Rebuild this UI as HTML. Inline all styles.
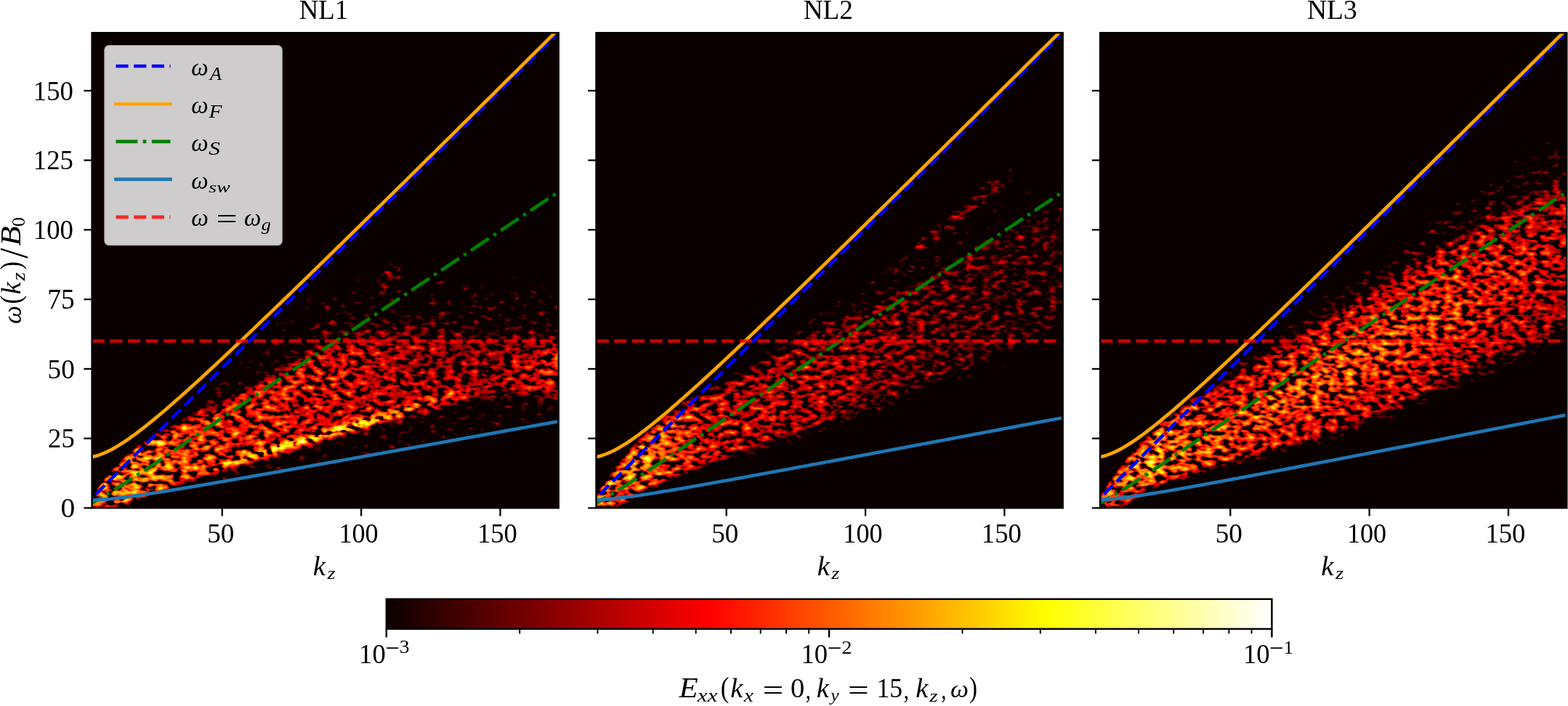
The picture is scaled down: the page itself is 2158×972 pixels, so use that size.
<!DOCTYPE html>
<html lang="en"><head><meta charset="utf-8"><title>Dispersion spectra NL1 NL2 NL3</title><style>html,body{margin:0;padding:0;background:#fff;}svg{display:block}</style></head><body>
<svg width="2158" height="972" viewBox="0 0 2158 972" font-family='"Liberation Serif", "DejaVu Serif", serif' font-size="37.5" fill="#000">
<defs>
<linearGradient id="hot" x1="0" x2="1" y1="0" y2="0"><stop offset="0" stop-color="#0b0000"/><stop offset="0.365079" stop-color="#ff0000"/><stop offset="0.746032" stop-color="#ffff00"/><stop offset="1" stop-color="#ffffff"/></linearGradient>
<clipPath id="clip0"><rect x="126.60" y="45.2" width="642.15" height="654.10"/></clipPath>
<clipPath id="clip1"><rect x="820.55" y="45.2" width="642.15" height="654.10"/></clipPath>
<clipPath id="clip2"><rect x="1514.10" y="45.2" width="642.15" height="654.10"/></clipPath>
</defs>
<rect width="2158" height="972" fill="#fff"/>
<g id="panel0">
<rect x="126.60" y="45.2" width="642.15" height="654.10" fill="#0b0000"/>
<g clip-path="url(#clip0)">
<defs>
<filter id="hf0" filterUnits="userSpaceOnUse" x="96.6" y="15.2" width="702.1" height="714.1" color-interpolation-filters="sRGB"><feGaussianBlur in="SourceGraphic" stdDeviation="2.2" result="e"/><feTurbulence type="fractalNoise" baseFrequency="0.088 0.145" numOctaves="2" seed="3" result="t"/><feColorMatrix in="t" type="matrix" values="1 0 0 0 0  1 0 0 0 0  1 0 0 0 0  0 0 0 0 1"/><feGaussianBlur stdDeviation="0.8 0.6" result="n0"/><feComponentTransfer in="n0" result="n1"><feFuncR type="linear" slope="1.051" intercept="-0.025"/><feFuncG type="linear" slope="1.051" intercept="-0.025"/><feFuncB type="linear" slope="1.051" intercept="-0.025"/></feComponentTransfer><feComponentTransfer in="n1" result="n"><feFuncR type="table" tableValues="0 0 0 0 0 0 0.05 0.2 0.335 0.45 0.5 0.52 0.54 0.565 0.59 0.615 0.64 0.665 0.69 0.71 0.73"/><feFuncG type="table" tableValues="0 0 0 0 0 0 0.05 0.2 0.335 0.45 0.5 0.52 0.54 0.565 0.59 0.615 0.64 0.665 0.69 0.71 0.73"/><feFuncB type="table" tableValues="0 0 0 0 0 0 0.05 0.2 0.335 0.45 0.5 0.52 0.54 0.565 0.59 0.615 0.64 0.665 0.69 0.71 0.73"/></feComponentTransfer><feComposite in="e" in2="n" operator="arithmetic" k1="0" k2="1.6" k3="2.0" k4="-1.600" result="v"/><feComponentTransfer in="v"><feFuncR type="linear" slope="2.625" intercept="0.0416"/><feFuncG type="linear" slope="2.625" intercept="-0.9583"/><feFuncB type="linear" slope="3.937" intercept="-2.937"/><feFuncA type="linear" slope="0" intercept="1"/></feComponentTransfer><feGaussianBlur stdDeviation="0.7"/></filter>
<linearGradient id="g0_0" gradientUnits="userSpaceOnUse" x1="114.47" x2="803.26" y1="0" y2="0"><stop offset="0.0000" stop-color="#efefef"/><stop offset="0.0278" stop-color="#e7e7e7"/><stop offset="0.0556" stop-color="#d2d2d2"/><stop offset="0.0833" stop-color="#000000"/><stop offset="0.9500" stop-color="#000000"/></linearGradient>
<linearGradient id="g0_1" gradientUnits="userSpaceOnUse" x1="114.47" x2="803.26" y1="0" y2="0"><stop offset="0.0000" stop-color="#efefef"/><stop offset="0.0278" stop-color="#e7e7e7"/><stop offset="0.0556" stop-color="#d2d2d2"/><stop offset="0.0833" stop-color="#000000"/><stop offset="0.9500" stop-color="#000000"/></linearGradient>
<linearGradient id="g0_2" gradientUnits="userSpaceOnUse" x1="114.47" x2="803.26" y1="0" y2="0"><stop offset="0.0000" stop-color="#efefef"/><stop offset="0.0278" stop-color="#e7e7e7"/><stop offset="0.0556" stop-color="#d2d2d2"/><stop offset="0.0833" stop-color="#323232"/><stop offset="0.1111" stop-color="#000000"/><stop offset="0.9500" stop-color="#000000"/></linearGradient>
<linearGradient id="g0_3" gradientUnits="userSpaceOnUse" x1="114.47" x2="803.26" y1="0" y2="0"><stop offset="0.0000" stop-color="#efefef"/><stop offset="0.0278" stop-color="#e7e7e7"/><stop offset="0.0556" stop-color="#d2d2d2"/><stop offset="0.0833" stop-color="#c9c9c9"/><stop offset="0.1111" stop-color="#000000"/><stop offset="0.9500" stop-color="#000000"/></linearGradient>
<linearGradient id="g0_4" gradientUnits="userSpaceOnUse" x1="114.47" x2="803.26" y1="0" y2="0"><stop offset="0.0000" stop-color="#efefef"/><stop offset="0.0278" stop-color="#e7e7e7"/><stop offset="0.0556" stop-color="#d2d2d2"/><stop offset="0.0833" stop-color="#c9c9c9"/><stop offset="0.1111" stop-color="#000000"/><stop offset="0.9500" stop-color="#000000"/></linearGradient>
<linearGradient id="g0_5" gradientUnits="userSpaceOnUse" x1="114.47" x2="803.26" y1="0" y2="0"><stop offset="0.0000" stop-color="#efefef"/><stop offset="0.0278" stop-color="#e7e7e7"/><stop offset="0.0556" stop-color="#d2d2d2"/><stop offset="0.0833" stop-color="#c9c9c9"/><stop offset="0.1111" stop-color="#000000"/><stop offset="0.9500" stop-color="#000000"/></linearGradient>
<linearGradient id="g0_6" gradientUnits="userSpaceOnUse" x1="114.47" x2="803.26" y1="0" y2="0"><stop offset="0.0000" stop-color="#efefef"/><stop offset="0.0278" stop-color="#e7e7e7"/><stop offset="0.0556" stop-color="#d2d2d2"/><stop offset="0.0833" stop-color="#c9c9c9"/><stop offset="0.1111" stop-color="#8f8f8f"/><stop offset="0.1389" stop-color="#000000"/><stop offset="0.2222" stop-color="#000000"/><stop offset="0.2778" stop-color="#080808"/><stop offset="0.3333" stop-color="#0f0f0f"/><stop offset="0.3889" stop-color="#121212"/><stop offset="0.4444" stop-color="#151515"/><stop offset="0.5000" stop-color="#171717"/><stop offset="0.5556" stop-color="#181818"/><stop offset="0.6111" stop-color="#191919"/><stop offset="0.6667" stop-color="#1a1a1a"/><stop offset="0.7222" stop-color="#1a1a1a"/><stop offset="0.7778" stop-color="#1b1b1b"/><stop offset="0.8889" stop-color="#1b1b1b"/><stop offset="0.9500" stop-color="#1c1c1c"/></linearGradient>
<linearGradient id="g0_7" gradientUnits="userSpaceOnUse" x1="114.47" x2="803.26" y1="0" y2="0"><stop offset="0.0000" stop-color="#efefef"/><stop offset="0.0278" stop-color="#e7e7e7"/><stop offset="0.0556" stop-color="#d2d2d2"/><stop offset="0.0833" stop-color="#c9c9c9"/><stop offset="0.1111" stop-color="#bfbfbf"/><stop offset="0.1389" stop-color="#676767"/><stop offset="0.1667" stop-color="#1b1b1b"/><stop offset="0.1944" stop-color="#363636"/><stop offset="0.2222" stop-color="#3d3d3d"/><stop offset="0.2778" stop-color="#4b4b4b"/><stop offset="0.3333" stop-color="#505050"/><stop offset="0.9500" stop-color="#505050"/></linearGradient>
<linearGradient id="g0_8" gradientUnits="userSpaceOnUse" x1="114.47" x2="803.26" y1="0" y2="0"><stop offset="0.0000" stop-color="#efefef"/><stop offset="0.0278" stop-color="#e7e7e7"/><stop offset="0.0556" stop-color="#d2d2d2"/><stop offset="0.0833" stop-color="#c9c9c9"/><stop offset="0.1111" stop-color="#bfbfbf"/><stop offset="0.1389" stop-color="#b7b7b7"/><stop offset="0.1667" stop-color="#4a4a4a"/><stop offset="0.1944" stop-color="#505050"/><stop offset="0.8889" stop-color="#505050"/><stop offset="0.9500" stop-color="#515151"/></linearGradient>
<linearGradient id="g0_9" gradientUnits="userSpaceOnUse" x1="114.47" x2="803.26" y1="0" y2="0"><stop offset="0.0000" stop-color="#efefef"/><stop offset="0.0278" stop-color="#e7e7e7"/><stop offset="0.0556" stop-color="#d2d2d2"/><stop offset="0.0833" stop-color="#c9c9c9"/><stop offset="0.1111" stop-color="#bfbfbf"/><stop offset="0.1389" stop-color="#b7b7b7"/><stop offset="0.1667" stop-color="#505050"/><stop offset="0.8333" stop-color="#505050"/><stop offset="0.8889" stop-color="#515151"/><stop offset="0.9500" stop-color="#515151"/></linearGradient>
<linearGradient id="g0_10" gradientUnits="userSpaceOnUse" x1="114.47" x2="803.26" y1="0" y2="0"><stop offset="0.0000" stop-color="#efefef"/><stop offset="0.0278" stop-color="#e7e7e7"/><stop offset="0.0556" stop-color="#d2d2d2"/><stop offset="0.0833" stop-color="#c9c9c9"/><stop offset="0.1111" stop-color="#bfbfbf"/><stop offset="0.1389" stop-color="#b7b7b7"/><stop offset="0.1667" stop-color="#8a8a8a"/><stop offset="0.1944" stop-color="#505050"/><stop offset="0.8333" stop-color="#505050"/><stop offset="0.8889" stop-color="#525252"/><stop offset="0.9500" stop-color="#525252"/></linearGradient>
<linearGradient id="g0_11" gradientUnits="userSpaceOnUse" x1="114.47" x2="803.26" y1="0" y2="0"><stop offset="0.0000" stop-color="#efefef"/><stop offset="0.0278" stop-color="#e7e7e7"/><stop offset="0.0556" stop-color="#d2d2d2"/><stop offset="0.0833" stop-color="#c9c9c9"/><stop offset="0.1111" stop-color="#bfbfbf"/><stop offset="0.1389" stop-color="#b7b7b7"/><stop offset="0.1667" stop-color="#afafaf"/><stop offset="0.1944" stop-color="#505050"/><stop offset="0.7778" stop-color="#505050"/><stop offset="0.8333" stop-color="#515151"/><stop offset="0.8889" stop-color="#535353"/><stop offset="0.9500" stop-color="#5f5f5f"/></linearGradient>
<linearGradient id="g0_12" gradientUnits="userSpaceOnUse" x1="114.47" x2="803.26" y1="0" y2="0"><stop offset="0.0000" stop-color="#efefef"/><stop offset="0.0278" stop-color="#e7e7e7"/><stop offset="0.0556" stop-color="#d2d2d2"/><stop offset="0.0833" stop-color="#c9c9c9"/><stop offset="0.1111" stop-color="#bfbfbf"/><stop offset="0.1389" stop-color="#b7b7b7"/><stop offset="0.1667" stop-color="#afafaf"/><stop offset="0.1944" stop-color="#505050"/><stop offset="0.7778" stop-color="#505050"/><stop offset="0.8333" stop-color="#515151"/><stop offset="0.8889" stop-color="#545454"/><stop offset="0.9500" stop-color="#8e8e8e"/></linearGradient>
<linearGradient id="g0_13" gradientUnits="userSpaceOnUse" x1="114.47" x2="803.26" y1="0" y2="0"><stop offset="0.0000" stop-color="#efefef"/><stop offset="0.0278" stop-color="#e7e7e7"/><stop offset="0.0556" stop-color="#d2d2d2"/><stop offset="0.0833" stop-color="#c9c9c9"/><stop offset="0.1111" stop-color="#bfbfbf"/><stop offset="0.1389" stop-color="#b7b7b7"/><stop offset="0.1667" stop-color="#afafaf"/><stop offset="0.1944" stop-color="#808080"/><stop offset="0.2222" stop-color="#787878"/><stop offset="0.2778" stop-color="#686868"/><stop offset="0.3333" stop-color="#575757"/><stop offset="0.3889" stop-color="#505050"/><stop offset="0.7778" stop-color="#505050"/><stop offset="0.8333" stop-color="#525252"/><stop offset="0.8889" stop-color="#818181"/><stop offset="0.9500" stop-color="#909090"/></linearGradient>
<linearGradient id="g0_14" gradientUnits="userSpaceOnUse" x1="114.47" x2="803.26" y1="0" y2="0"><stop offset="0.0000" stop-color="#efefef"/><stop offset="0.0278" stop-color="#e7e7e7"/><stop offset="0.0556" stop-color="#d2d2d2"/><stop offset="0.0833" stop-color="#c9c9c9"/><stop offset="0.1111" stop-color="#bfbfbf"/><stop offset="0.1389" stop-color="#b7b7b7"/><stop offset="0.1667" stop-color="#afafaf"/><stop offset="0.1944" stop-color="#a7a7a7"/><stop offset="0.2222" stop-color="#a4a4a4"/><stop offset="0.2778" stop-color="#9c9c9c"/><stop offset="0.3333" stop-color="#8a8a8a"/><stop offset="0.3889" stop-color="#707070"/><stop offset="0.4444" stop-color="#525252"/><stop offset="0.5000" stop-color="#505050"/><stop offset="0.7778" stop-color="#505050"/><stop offset="0.8333" stop-color="#616161"/><stop offset="0.8889" stop-color="#888888"/><stop offset="0.9500" stop-color="#929292"/></linearGradient>
<linearGradient id="g0_15" gradientUnits="userSpaceOnUse" x1="114.47" x2="803.26" y1="0" y2="0"><stop offset="0.0000" stop-color="#efefef"/><stop offset="0.0278" stop-color="#e7e7e7"/><stop offset="0.0556" stop-color="#d2d2d2"/><stop offset="0.0833" stop-color="#c9c9c9"/><stop offset="0.1111" stop-color="#bfbfbf"/><stop offset="0.1389" stop-color="#b7b7b7"/><stop offset="0.1667" stop-color="#b0b0b0"/><stop offset="0.1944" stop-color="#a8a8a8"/><stop offset="0.2222" stop-color="#a4a4a4"/><stop offset="0.2778" stop-color="#9d9d9d"/><stop offset="0.3333" stop-color="#9b9b9b"/><stop offset="0.3889" stop-color="#989898"/><stop offset="0.4444" stop-color="#858585"/><stop offset="0.5000" stop-color="#6a6a6a"/><stop offset="0.5556" stop-color="#616161"/><stop offset="0.6111" stop-color="#5c5c5c"/><stop offset="0.6667" stop-color="#616161"/><stop offset="0.7222" stop-color="#5a5a5a"/><stop offset="0.7778" stop-color="#626262"/><stop offset="0.8333" stop-color="#7e7e7e"/><stop offset="0.8889" stop-color="#8a8a8a"/><stop offset="0.9500" stop-color="#959595"/></linearGradient>
<linearGradient id="g0_16" gradientUnits="userSpaceOnUse" x1="114.47" x2="803.26" y1="0" y2="0"><stop offset="0.0000" stop-color="#efefef"/><stop offset="0.0278" stop-color="#e7e7e7"/><stop offset="0.0556" stop-color="#d3d3d3"/><stop offset="0.0833" stop-color="#c9c9c9"/><stop offset="0.1111" stop-color="#c0c0c0"/><stop offset="0.1389" stop-color="#b8b8b8"/><stop offset="0.1667" stop-color="#b1b1b1"/><stop offset="0.1944" stop-color="#a9a9a9"/><stop offset="0.2222" stop-color="#a6a6a6"/><stop offset="0.2778" stop-color="#a1a1a1"/><stop offset="0.3333" stop-color="#a3a3a3"/><stop offset="0.3889" stop-color="#a3a3a3"/><stop offset="0.4444" stop-color="#9f9f9f"/><stop offset="0.5000" stop-color="#a2a2a2"/><stop offset="0.5556" stop-color="#a1a1a1"/><stop offset="0.6111" stop-color="#939393"/><stop offset="0.6667" stop-color="#898989"/><stop offset="0.7222" stop-color="#838383"/><stop offset="0.7778" stop-color="#7e7e7e"/><stop offset="0.8333" stop-color="#7f7f7f"/><stop offset="0.8889" stop-color="#8b8b8b"/><stop offset="0.9500" stop-color="#969696"/></linearGradient>
<linearGradient id="g0_17" gradientUnits="userSpaceOnUse" x1="114.47" x2="803.26" y1="0" y2="0"><stop offset="0.0000" stop-color="#efefef"/><stop offset="0.0278" stop-color="#e8e8e8"/><stop offset="0.0556" stop-color="#d3d3d3"/><stop offset="0.0833" stop-color="#cacaca"/><stop offset="0.1111" stop-color="#c1c1c1"/><stop offset="0.1389" stop-color="#bababa"/><stop offset="0.1667" stop-color="#b3b3b3"/><stop offset="0.1944" stop-color="#acacac"/><stop offset="0.2222" stop-color="#aaaaaa"/><stop offset="0.2778" stop-color="#aaaaaa"/><stop offset="0.3333" stop-color="#bcbcbc"/><stop offset="0.3889" stop-color="#c7c7c7"/><stop offset="0.4444" stop-color="#b9b9b9"/><stop offset="0.5000" stop-color="#c6c6c6"/><stop offset="0.5556" stop-color="#cbcbcb"/><stop offset="0.6111" stop-color="#adadad"/><stop offset="0.6667" stop-color="#9e9e9e"/><stop offset="0.7222" stop-color="#959595"/><stop offset="0.7778" stop-color="#888888"/><stop offset="0.8333" stop-color="#828282"/><stop offset="0.8889" stop-color="#8c8c8c"/><stop offset="0.9500" stop-color="#979797"/></linearGradient>
<linearGradient id="g0_18" gradientUnits="userSpaceOnUse" x1="114.47" x2="803.26" y1="0" y2="0"><stop offset="0.0000" stop-color="#f0f0f0"/><stop offset="0.0278" stop-color="#e8e8e8"/><stop offset="0.0556" stop-color="#d4d4d4"/><stop offset="0.0833" stop-color="#cbcbcb"/><stop offset="0.1111" stop-color="#c2c2c2"/><stop offset="0.1389" stop-color="#bbbbbb"/><stop offset="0.1667" stop-color="#b4b4b4"/><stop offset="0.1944" stop-color="#aeaeae"/><stop offset="0.2222" stop-color="#adadad"/><stop offset="0.2778" stop-color="#b2b2b2"/><stop offset="0.3333" stop-color="#d8d8d8"/><stop offset="0.3889" stop-color="#ededed"/><stop offset="0.4444" stop-color="#d1d1d1"/><stop offset="0.5000" stop-color="#dddddd"/><stop offset="0.5556" stop-color="#e5e5e5"/><stop offset="0.6111" stop-color="#bfbfbf"/><stop offset="0.6667" stop-color="#afafaf"/><stop offset="0.7222" stop-color="#a4a4a4"/><stop offset="0.7778" stop-color="#8f8f8f"/><stop offset="0.8333" stop-color="#848484"/><stop offset="0.8889" stop-color="#8d8d8d"/><stop offset="0.9500" stop-color="#989898"/></linearGradient>
<linearGradient id="g0_19" gradientUnits="userSpaceOnUse" x1="114.47" x2="803.26" y1="0" y2="0"><stop offset="0.0000" stop-color="#efefef"/><stop offset="0.0278" stop-color="#e8e8e8"/><stop offset="0.0556" stop-color="#d3d3d3"/><stop offset="0.0833" stop-color="#cacaca"/><stop offset="0.1111" stop-color="#c1c1c1"/><stop offset="0.1389" stop-color="#bababa"/><stop offset="0.1667" stop-color="#b3b3b3"/><stop offset="0.1944" stop-color="#adadad"/><stop offset="0.2222" stop-color="#ababab"/><stop offset="0.2778" stop-color="#aeaeae"/><stop offset="0.3333" stop-color="#cdcdcd"/><stop offset="0.3889" stop-color="#dedede"/><stop offset="0.4444" stop-color="#c3c3c3"/><stop offset="0.5000" stop-color="#c3c3c3"/><stop offset="0.5556" stop-color="#c6c6c6"/><stop offset="0.6111" stop-color="#acacac"/><stop offset="0.6667" stop-color="#9f9f9f"/><stop offset="0.7222" stop-color="#969696"/><stop offset="0.7778" stop-color="#888888"/><stop offset="0.8333" stop-color="#828282"/><stop offset="0.8889" stop-color="#8c8c8c"/><stop offset="0.9500" stop-color="#979797"/></linearGradient>
<linearGradient id="g0_20" gradientUnits="userSpaceOnUse" x1="114.47" x2="803.26" y1="0" y2="0"><stop offset="0.0000" stop-color="#efefef"/><stop offset="0.0278" stop-color="#e7e7e7"/><stop offset="0.0556" stop-color="#d3d3d3"/><stop offset="0.0833" stop-color="#c9c9c9"/><stop offset="0.1111" stop-color="#c0c0c0"/><stop offset="0.1389" stop-color="#b9b9b9"/><stop offset="0.1667" stop-color="#b1b1b1"/><stop offset="0.1944" stop-color="#aaaaaa"/><stop offset="0.2222" stop-color="#a7a7a7"/><stop offset="0.2778" stop-color="#a3a3a3"/><stop offset="0.3333" stop-color="#adadad"/><stop offset="0.3889" stop-color="#b2b2b2"/><stop offset="0.4444" stop-color="#a5a5a5"/><stop offset="0.5000" stop-color="#a1a1a1"/><stop offset="0.5556" stop-color="#9e9e9e"/><stop offset="0.6111" stop-color="#939393"/><stop offset="0.6667" stop-color="#8a8a8a"/><stop offset="0.7222" stop-color="#848484"/><stop offset="0.7778" stop-color="#7f7f7f"/><stop offset="0.8333" stop-color="#7f7f7f"/><stop offset="0.8889" stop-color="#8a8a8a"/><stop offset="0.9500" stop-color="#959595"/></linearGradient>
<linearGradient id="g0_21" gradientUnits="userSpaceOnUse" x1="114.47" x2="803.26" y1="0" y2="0"><stop offset="0.0000" stop-color="#efefef"/><stop offset="0.0278" stop-color="#e7e7e7"/><stop offset="0.0556" stop-color="#d2d2d2"/><stop offset="0.0833" stop-color="#c9c9c9"/><stop offset="0.1111" stop-color="#bfbfbf"/><stop offset="0.1389" stop-color="#b8b8b8"/><stop offset="0.1667" stop-color="#b0b0b0"/><stop offset="0.1944" stop-color="#a8a8a8"/><stop offset="0.2222" stop-color="#a4a4a4"/><stop offset="0.2778" stop-color="#9e9e9e"/><stop offset="0.3333" stop-color="#9d9d9d"/><stop offset="0.3889" stop-color="#9b9b9b"/><stop offset="0.4444" stop-color="#969696"/><stop offset="0.5000" stop-color="#939393"/><stop offset="0.5556" stop-color="#8f8f8f"/><stop offset="0.6111" stop-color="#898989"/><stop offset="0.6667" stop-color="#838383"/><stop offset="0.7222" stop-color="#7e7e7e"/><stop offset="0.7778" stop-color="#7c7c7c"/><stop offset="0.8333" stop-color="#7e7e7e"/><stop offset="0.8889" stop-color="#888888"/><stop offset="0.9500" stop-color="#929292"/></linearGradient>
<linearGradient id="g0_22" gradientUnits="userSpaceOnUse" x1="114.47" x2="803.26" y1="0" y2="0"><stop offset="0.0000" stop-color="#efefef"/><stop offset="0.0278" stop-color="#e7e7e7"/><stop offset="0.0556" stop-color="#d2d2d2"/><stop offset="0.0833" stop-color="#c9c9c9"/><stop offset="0.1111" stop-color="#bfbfbf"/><stop offset="0.1389" stop-color="#b7b7b7"/><stop offset="0.1667" stop-color="#afafaf"/><stop offset="0.1944" stop-color="#a7a7a7"/><stop offset="0.2222" stop-color="#a4a4a4"/><stop offset="0.2778" stop-color="#9c9c9c"/><stop offset="0.3333" stop-color="#999999"/><stop offset="0.3889" stop-color="#969696"/><stop offset="0.4444" stop-color="#939393"/><stop offset="0.5000" stop-color="#909090"/><stop offset="0.5556" stop-color="#8d8d8d"/><stop offset="0.6111" stop-color="#888888"/><stop offset="0.6667" stop-color="#828282"/><stop offset="0.7222" stop-color="#7d7d7d"/><stop offset="0.7778" stop-color="#7b7b7b"/><stop offset="0.8333" stop-color="#7d7d7d"/><stop offset="0.8889" stop-color="#868686"/><stop offset="0.9500" stop-color="#909090"/></linearGradient>
<linearGradient id="g0_23" gradientUnits="userSpaceOnUse" x1="114.47" x2="803.26" y1="0" y2="0"><stop offset="0.0000" stop-color="#efefef"/><stop offset="0.0278" stop-color="#e7e7e7"/><stop offset="0.0556" stop-color="#d2d2d2"/><stop offset="0.0833" stop-color="#c9c9c9"/><stop offset="0.1111" stop-color="#bfbfbf"/><stop offset="0.1389" stop-color="#b7b7b7"/><stop offset="0.1667" stop-color="#afafaf"/><stop offset="0.1944" stop-color="#a7a7a7"/><stop offset="0.2222" stop-color="#a4a4a4"/><stop offset="0.2778" stop-color="#9c9c9c"/><stop offset="0.3333" stop-color="#999999"/><stop offset="0.3889" stop-color="#969696"/><stop offset="0.4444" stop-color="#939393"/><stop offset="0.5000" stop-color="#909090"/><stop offset="0.5556" stop-color="#8c8c8c"/><stop offset="0.6111" stop-color="#878787"/><stop offset="0.6667" stop-color="#828282"/><stop offset="0.7222" stop-color="#7d7d7d"/><stop offset="0.7778" stop-color="#7b7b7b"/><stop offset="0.8333" stop-color="#7c7c7c"/><stop offset="0.8889" stop-color="#858585"/><stop offset="0.9500" stop-color="#7d7d7d"/></linearGradient>
<linearGradient id="g0_24" gradientUnits="userSpaceOnUse" x1="114.47" x2="803.26" y1="0" y2="0"><stop offset="0.0000" stop-color="#efefef"/><stop offset="0.0278" stop-color="#e7e7e7"/><stop offset="0.0556" stop-color="#d2d2d2"/><stop offset="0.0833" stop-color="#c9c9c9"/><stop offset="0.1111" stop-color="#bfbfbf"/><stop offset="0.1389" stop-color="#b7b7b7"/><stop offset="0.1667" stop-color="#afafaf"/><stop offset="0.1944" stop-color="#a7a7a7"/><stop offset="0.2222" stop-color="#a4a4a4"/><stop offset="0.2778" stop-color="#9c9c9c"/><stop offset="0.3333" stop-color="#999999"/><stop offset="0.3889" stop-color="#969696"/><stop offset="0.4444" stop-color="#939393"/><stop offset="0.5000" stop-color="#909090"/><stop offset="0.5556" stop-color="#8c8c8c"/><stop offset="0.6111" stop-color="#878787"/><stop offset="0.6667" stop-color="#828282"/><stop offset="0.7222" stop-color="#7d7d7d"/><stop offset="0.7778" stop-color="#7b7b7b"/><stop offset="0.8333" stop-color="#7c7c7c"/><stop offset="0.8889" stop-color="#838383"/><stop offset="0.9500" stop-color="#5d5d5d"/></linearGradient>
<linearGradient id="g0_25" gradientUnits="userSpaceOnUse" x1="114.47" x2="803.26" y1="0" y2="0"><stop offset="0.0000" stop-color="#efefef"/><stop offset="0.0278" stop-color="#e7e7e7"/><stop offset="0.0556" stop-color="#d2d2d2"/><stop offset="0.0833" stop-color="#c9c9c9"/><stop offset="0.1111" stop-color="#bfbfbf"/><stop offset="0.1389" stop-color="#b7b7b7"/><stop offset="0.1667" stop-color="#afafaf"/><stop offset="0.1944" stop-color="#a7a7a7"/><stop offset="0.2222" stop-color="#a4a4a4"/><stop offset="0.2778" stop-color="#9c9c9c"/><stop offset="0.3333" stop-color="#999999"/><stop offset="0.3889" stop-color="#969696"/><stop offset="0.4444" stop-color="#939393"/><stop offset="0.5000" stop-color="#909090"/><stop offset="0.5556" stop-color="#8c8c8c"/><stop offset="0.6111" stop-color="#878787"/><stop offset="0.6667" stop-color="#828282"/><stop offset="0.7222" stop-color="#7d7d7d"/><stop offset="0.7778" stop-color="#7b7b7b"/><stop offset="0.8333" stop-color="#7b7b7b"/><stop offset="0.8889" stop-color="#5a5a5a"/><stop offset="0.9500" stop-color="#5b5b5b"/></linearGradient>
<linearGradient id="g0_26" gradientUnits="userSpaceOnUse" x1="114.47" x2="803.26" y1="0" y2="0"><stop offset="0.0000" stop-color="#efefef"/><stop offset="0.0278" stop-color="#e7e7e7"/><stop offset="0.0556" stop-color="#d2d2d2"/><stop offset="0.0833" stop-color="#c9c9c9"/><stop offset="0.1111" stop-color="#bfbfbf"/><stop offset="0.1389" stop-color="#b7b7b7"/><stop offset="0.1667" stop-color="#afafaf"/><stop offset="0.1944" stop-color="#a7a7a7"/><stop offset="0.2222" stop-color="#a4a4a4"/><stop offset="0.2778" stop-color="#9c9c9c"/><stop offset="0.3333" stop-color="#999999"/><stop offset="0.3889" stop-color="#969696"/><stop offset="0.4444" stop-color="#939393"/><stop offset="0.5000" stop-color="#909090"/><stop offset="0.5556" stop-color="#8c8c8c"/><stop offset="0.6111" stop-color="#878787"/><stop offset="0.6667" stop-color="#828282"/><stop offset="0.7222" stop-color="#7d7d7d"/><stop offset="0.7778" stop-color="#7b7b7b"/><stop offset="0.8333" stop-color="#5c5c5c"/><stop offset="0.8889" stop-color="#5a5a5a"/><stop offset="0.9500" stop-color="#505050"/></linearGradient>
<linearGradient id="g0_27" gradientUnits="userSpaceOnUse" x1="114.47" x2="803.26" y1="0" y2="0"><stop offset="0.0000" stop-color="#efefef"/><stop offset="0.0278" stop-color="#e7e7e7"/><stop offset="0.0556" stop-color="#d2d2d2"/><stop offset="0.0833" stop-color="#c9c9c9"/><stop offset="0.1111" stop-color="#bfbfbf"/><stop offset="0.1389" stop-color="#b7b7b7"/><stop offset="0.1667" stop-color="#afafaf"/><stop offset="0.1944" stop-color="#a7a7a7"/><stop offset="0.2222" stop-color="#a4a4a4"/><stop offset="0.2778" stop-color="#9c9c9c"/><stop offset="0.3333" stop-color="#999999"/><stop offset="0.3889" stop-color="#969696"/><stop offset="0.4444" stop-color="#939393"/><stop offset="0.5000" stop-color="#909090"/><stop offset="0.5556" stop-color="#8c8c8c"/><stop offset="0.6111" stop-color="#878787"/><stop offset="0.6667" stop-color="#828282"/><stop offset="0.7222" stop-color="#7d7d7d"/><stop offset="0.7778" stop-color="#7b7b7b"/><stop offset="0.8333" stop-color="#595959"/><stop offset="0.8889" stop-color="#525252"/><stop offset="0.9500" stop-color="#505050"/></linearGradient>
<linearGradient id="g0_28" gradientUnits="userSpaceOnUse" x1="114.47" x2="803.26" y1="0" y2="0"><stop offset="0.0000" stop-color="#efefef"/><stop offset="0.0278" stop-color="#e7e7e7"/><stop offset="0.0556" stop-color="#d2d2d2"/><stop offset="0.0833" stop-color="#c9c9c9"/><stop offset="0.1111" stop-color="#bfbfbf"/><stop offset="0.1389" stop-color="#b7b7b7"/><stop offset="0.1667" stop-color="#afafaf"/><stop offset="0.1944" stop-color="#a7a7a7"/><stop offset="0.2222" stop-color="#a4a4a4"/><stop offset="0.2778" stop-color="#9c9c9c"/><stop offset="0.3333" stop-color="#999999"/><stop offset="0.3889" stop-color="#969696"/><stop offset="0.4444" stop-color="#939393"/><stop offset="0.5000" stop-color="#909090"/><stop offset="0.5556" stop-color="#8c8c8c"/><stop offset="0.6111" stop-color="#878787"/><stop offset="0.6667" stop-color="#828282"/><stop offset="0.7222" stop-color="#7d7d7d"/><stop offset="0.7778" stop-color="#5c5c5c"/><stop offset="0.8333" stop-color="#595959"/><stop offset="0.8889" stop-color="#505050"/><stop offset="0.9500" stop-color="#505050"/></linearGradient>
<linearGradient id="g0_29" gradientUnits="userSpaceOnUse" x1="114.47" x2="803.26" y1="0" y2="0"><stop offset="0.0000" stop-color="#efefef"/><stop offset="0.0278" stop-color="#e7e7e7"/><stop offset="0.0556" stop-color="#d2d2d2"/><stop offset="0.0833" stop-color="#c9c9c9"/><stop offset="0.1111" stop-color="#bfbfbf"/><stop offset="0.1389" stop-color="#b7b7b7"/><stop offset="0.1667" stop-color="#afafaf"/><stop offset="0.1944" stop-color="#a7a7a7"/><stop offset="0.2222" stop-color="#a4a4a4"/><stop offset="0.2778" stop-color="#9c9c9c"/><stop offset="0.3333" stop-color="#999999"/><stop offset="0.3889" stop-color="#969696"/><stop offset="0.4444" stop-color="#939393"/><stop offset="0.5000" stop-color="#909090"/><stop offset="0.5556" stop-color="#8c8c8c"/><stop offset="0.6111" stop-color="#878787"/><stop offset="0.6667" stop-color="#828282"/><stop offset="0.7222" stop-color="#777777"/><stop offset="0.7778" stop-color="#5c5c5c"/><stop offset="0.8333" stop-color="#505050"/><stop offset="0.8889" stop-color="#505050"/><stop offset="0.9500" stop-color="#4e4e4e"/></linearGradient>
<linearGradient id="g0_30" gradientUnits="userSpaceOnUse" x1="114.47" x2="803.26" y1="0" y2="0"><stop offset="0.0000" stop-color="#efefef"/><stop offset="0.0278" stop-color="#e7e7e7"/><stop offset="0.0556" stop-color="#d2d2d2"/><stop offset="0.0833" stop-color="#c9c9c9"/><stop offset="0.1111" stop-color="#bfbfbf"/><stop offset="0.1389" stop-color="#b7b7b7"/><stop offset="0.1667" stop-color="#afafaf"/><stop offset="0.1944" stop-color="#a7a7a7"/><stop offset="0.2222" stop-color="#a4a4a4"/><stop offset="0.2778" stop-color="#9c9c9c"/><stop offset="0.3333" stop-color="#999999"/><stop offset="0.3889" stop-color="#969696"/><stop offset="0.4444" stop-color="#939393"/><stop offset="0.5000" stop-color="#909090"/><stop offset="0.5556" stop-color="#8c8c8c"/><stop offset="0.6111" stop-color="#878787"/><stop offset="0.6667" stop-color="#828282"/><stop offset="0.7222" stop-color="#606060"/><stop offset="0.7778" stop-color="#565656"/><stop offset="0.8333" stop-color="#505050"/><stop offset="0.8889" stop-color="#505050"/><stop offset="0.9500" stop-color="#3a3a3a"/></linearGradient>
<linearGradient id="g0_31" gradientUnits="userSpaceOnUse" x1="114.47" x2="803.26" y1="0" y2="0"><stop offset="0.0000" stop-color="#efefef"/><stop offset="0.0278" stop-color="#e7e7e7"/><stop offset="0.0556" stop-color="#d2d2d2"/><stop offset="0.0833" stop-color="#c9c9c9"/><stop offset="0.1111" stop-color="#bfbfbf"/><stop offset="0.1389" stop-color="#b7b7b7"/><stop offset="0.1667" stop-color="#afafaf"/><stop offset="0.1944" stop-color="#a7a7a7"/><stop offset="0.2222" stop-color="#a4a4a4"/><stop offset="0.2778" stop-color="#9c9c9c"/><stop offset="0.3333" stop-color="#999999"/><stop offset="0.3889" stop-color="#969696"/><stop offset="0.4444" stop-color="#939393"/><stop offset="0.5000" stop-color="#909090"/><stop offset="0.5556" stop-color="#8c8c8c"/><stop offset="0.6111" stop-color="#878787"/><stop offset="0.6667" stop-color="#7a7a7a"/><stop offset="0.7222" stop-color="#606060"/><stop offset="0.7778" stop-color="#505050"/><stop offset="0.8333" stop-color="#505050"/><stop offset="0.8889" stop-color="#474747"/><stop offset="0.9500" stop-color="#272727"/></linearGradient>
<linearGradient id="g0_32" gradientUnits="userSpaceOnUse" x1="114.47" x2="803.26" y1="0" y2="0"><stop offset="0.0000" stop-color="#efefef"/><stop offset="0.0278" stop-color="#e7e7e7"/><stop offset="0.0556" stop-color="#d2d2d2"/><stop offset="0.0833" stop-color="#c9c9c9"/><stop offset="0.1111" stop-color="#bfbfbf"/><stop offset="0.1389" stop-color="#b7b7b7"/><stop offset="0.1667" stop-color="#afafaf"/><stop offset="0.1944" stop-color="#a7a7a7"/><stop offset="0.2222" stop-color="#a4a4a4"/><stop offset="0.2778" stop-color="#9c9c9c"/><stop offset="0.3333" stop-color="#999999"/><stop offset="0.3889" stop-color="#969696"/><stop offset="0.4444" stop-color="#939393"/><stop offset="0.5000" stop-color="#909090"/><stop offset="0.5556" stop-color="#8c8c8c"/><stop offset="0.6111" stop-color="#878787"/><stop offset="0.6667" stop-color="#646464"/><stop offset="0.7222" stop-color="#575757"/><stop offset="0.7778" stop-color="#505050"/><stop offset="0.8333" stop-color="#505050"/><stop offset="0.8889" stop-color="#353535"/><stop offset="0.9500" stop-color="#131313"/></linearGradient>
<linearGradient id="g0_33" gradientUnits="userSpaceOnUse" x1="114.47" x2="803.26" y1="0" y2="0"><stop offset="0.0000" stop-color="#efefef"/><stop offset="0.0278" stop-color="#e7e7e7"/><stop offset="0.0556" stop-color="#d2d2d2"/><stop offset="0.0833" stop-color="#c9c9c9"/><stop offset="0.1111" stop-color="#bfbfbf"/><stop offset="0.1389" stop-color="#b7b7b7"/><stop offset="0.1667" stop-color="#afafaf"/><stop offset="0.1944" stop-color="#a7a7a7"/><stop offset="0.2222" stop-color="#a4a4a4"/><stop offset="0.2778" stop-color="#9c9c9c"/><stop offset="0.3333" stop-color="#999999"/><stop offset="0.3889" stop-color="#969696"/><stop offset="0.4444" stop-color="#939393"/><stop offset="0.5000" stop-color="#909090"/><stop offset="0.5556" stop-color="#8c8c8c"/><stop offset="0.6111" stop-color="#878787"/><stop offset="0.6667" stop-color="#646464"/><stop offset="0.7222" stop-color="#505050"/><stop offset="0.7778" stop-color="#505050"/><stop offset="0.8333" stop-color="#414141"/><stop offset="0.8889" stop-color="#232323"/><stop offset="0.9500" stop-color="#000000"/></linearGradient>
<linearGradient id="g0_34" gradientUnits="userSpaceOnUse" x1="114.47" x2="803.26" y1="0" y2="0"><stop offset="0.0000" stop-color="#efefef"/><stop offset="0.0278" stop-color="#e7e7e7"/><stop offset="0.0556" stop-color="#d2d2d2"/><stop offset="0.0833" stop-color="#c9c9c9"/><stop offset="0.1111" stop-color="#bfbfbf"/><stop offset="0.1389" stop-color="#b7b7b7"/><stop offset="0.1667" stop-color="#afafaf"/><stop offset="0.1944" stop-color="#a7a7a7"/><stop offset="0.2222" stop-color="#a4a4a4"/><stop offset="0.2778" stop-color="#9c9c9c"/><stop offset="0.3333" stop-color="#999999"/><stop offset="0.3889" stop-color="#969696"/><stop offset="0.4444" stop-color="#939393"/><stop offset="0.5000" stop-color="#909090"/><stop offset="0.5556" stop-color="#8c8c8c"/><stop offset="0.6111" stop-color="#666666"/><stop offset="0.6667" stop-color="#616161"/><stop offset="0.7222" stop-color="#505050"/><stop offset="0.7778" stop-color="#505050"/><stop offset="0.8333" stop-color="#303030"/><stop offset="0.8889" stop-color="#111111"/><stop offset="0.9500" stop-color="#000000"/></linearGradient>
<linearGradient id="g0_35" gradientUnits="userSpaceOnUse" x1="114.47" x2="803.26" y1="0" y2="0"><stop offset="0.0000" stop-color="#efefef"/><stop offset="0.0278" stop-color="#e7e7e7"/><stop offset="0.0556" stop-color="#d2d2d2"/><stop offset="0.0833" stop-color="#c9c9c9"/><stop offset="0.1111" stop-color="#bfbfbf"/><stop offset="0.1389" stop-color="#b7b7b7"/><stop offset="0.1667" stop-color="#afafaf"/><stop offset="0.1944" stop-color="#a7a7a7"/><stop offset="0.2222" stop-color="#a4a4a4"/><stop offset="0.2778" stop-color="#9c9c9c"/><stop offset="0.3333" stop-color="#999999"/><stop offset="0.3889" stop-color="#969696"/><stop offset="0.4444" stop-color="#939393"/><stop offset="0.5000" stop-color="#909090"/><stop offset="0.5556" stop-color="#8c8c8c"/><stop offset="0.6111" stop-color="#666666"/><stop offset="0.6667" stop-color="#505050"/><stop offset="0.7222" stop-color="#505050"/><stop offset="0.7778" stop-color="#424242"/><stop offset="0.8333" stop-color="#1f1f1f"/><stop offset="0.8889" stop-color="#000000"/><stop offset="0.9500" stop-color="#000000"/></linearGradient>
<linearGradient id="g0_36" gradientUnits="userSpaceOnUse" x1="114.47" x2="803.26" y1="0" y2="0"><stop offset="0.0000" stop-color="#efefef"/><stop offset="0.0278" stop-color="#e7e7e7"/><stop offset="0.0556" stop-color="#d2d2d2"/><stop offset="0.0833" stop-color="#c9c9c9"/><stop offset="0.1111" stop-color="#bfbfbf"/><stop offset="0.1389" stop-color="#b7b7b7"/><stop offset="0.1667" stop-color="#afafaf"/><stop offset="0.1944" stop-color="#a7a7a7"/><stop offset="0.2222" stop-color="#a4a4a4"/><stop offset="0.2778" stop-color="#9c9c9c"/><stop offset="0.3333" stop-color="#999999"/><stop offset="0.3889" stop-color="#969696"/><stop offset="0.4444" stop-color="#939393"/><stop offset="0.5000" stop-color="#909090"/><stop offset="0.5556" stop-color="#757575"/><stop offset="0.6111" stop-color="#666666"/><stop offset="0.6667" stop-color="#505050"/><stop offset="0.7222" stop-color="#505050"/><stop offset="0.7778" stop-color="#323232"/><stop offset="0.8333" stop-color="#0e0e0e"/><stop offset="0.8889" stop-color="#000000"/><stop offset="0.9500" stop-color="#000000"/></linearGradient>
<linearGradient id="g0_37" gradientUnits="userSpaceOnUse" x1="114.47" x2="803.26" y1="0" y2="0"><stop offset="0.0000" stop-color="#efefef"/><stop offset="0.0278" stop-color="#e7e7e7"/><stop offset="0.0556" stop-color="#d2d2d2"/><stop offset="0.0833" stop-color="#c9c9c9"/><stop offset="0.1111" stop-color="#bfbfbf"/><stop offset="0.1389" stop-color="#b7b7b7"/><stop offset="0.1667" stop-color="#afafaf"/><stop offset="0.1944" stop-color="#a7a7a7"/><stop offset="0.2222" stop-color="#a4a4a4"/><stop offset="0.2778" stop-color="#9c9c9c"/><stop offset="0.3333" stop-color="#999999"/><stop offset="0.3889" stop-color="#969696"/><stop offset="0.4444" stop-color="#939393"/><stop offset="0.5000" stop-color="#909090"/><stop offset="0.5556" stop-color="#646464"/><stop offset="0.6111" stop-color="#555555"/><stop offset="0.6667" stop-color="#505050"/><stop offset="0.7222" stop-color="#464646"/><stop offset="0.7778" stop-color="#222222"/><stop offset="0.8333" stop-color="#000000"/><stop offset="0.9500" stop-color="#000000"/></linearGradient>
<linearGradient id="g0_38" gradientUnits="userSpaceOnUse" x1="114.47" x2="803.26" y1="0" y2="0"><stop offset="0.0000" stop-color="#efefef"/><stop offset="0.0278" stop-color="#e7e7e7"/><stop offset="0.0556" stop-color="#d2d2d2"/><stop offset="0.0833" stop-color="#c9c9c9"/><stop offset="0.1111" stop-color="#bfbfbf"/><stop offset="0.1389" stop-color="#b7b7b7"/><stop offset="0.1667" stop-color="#afafaf"/><stop offset="0.1944" stop-color="#a7a7a7"/><stop offset="0.2222" stop-color="#a4a4a4"/><stop offset="0.2778" stop-color="#9c9c9c"/><stop offset="0.3333" stop-color="#999999"/><stop offset="0.3889" stop-color="#969696"/><stop offset="0.4444" stop-color="#939393"/><stop offset="0.5000" stop-color="#878787"/><stop offset="0.5556" stop-color="#646464"/><stop offset="0.6111" stop-color="#505050"/><stop offset="0.6667" stop-color="#505050"/><stop offset="0.7222" stop-color="#373737"/><stop offset="0.7778" stop-color="#121212"/><stop offset="0.8333" stop-color="#000000"/><stop offset="0.9500" stop-color="#000000"/></linearGradient>
<linearGradient id="g0_39" gradientUnits="userSpaceOnUse" x1="114.47" x2="803.26" y1="0" y2="0"><stop offset="0.0000" stop-color="#efefef"/><stop offset="0.0278" stop-color="#e7e7e7"/><stop offset="0.0556" stop-color="#d2d2d2"/><stop offset="0.0833" stop-color="#c9c9c9"/><stop offset="0.1111" stop-color="#bfbfbf"/><stop offset="0.1389" stop-color="#b7b7b7"/><stop offset="0.1667" stop-color="#afafaf"/><stop offset="0.1944" stop-color="#a7a7a7"/><stop offset="0.2222" stop-color="#a4a4a4"/><stop offset="0.2778" stop-color="#9c9c9c"/><stop offset="0.3333" stop-color="#999999"/><stop offset="0.3889" stop-color="#969696"/><stop offset="0.4444" stop-color="#939393"/><stop offset="0.5000" stop-color="#5d5d5d"/><stop offset="0.5556" stop-color="#646464"/><stop offset="0.6111" stop-color="#505050"/><stop offset="0.6667" stop-color="#4f4f4f"/><stop offset="0.7222" stop-color="#282828"/><stop offset="0.7778" stop-color="#020202"/><stop offset="0.8333" stop-color="#000000"/><stop offset="0.9500" stop-color="#000000"/></linearGradient>
<linearGradient id="g0_40" gradientUnits="userSpaceOnUse" x1="114.47" x2="803.26" y1="0" y2="0"><stop offset="0.0000" stop-color="#efefef"/><stop offset="0.0278" stop-color="#e7e7e7"/><stop offset="0.0556" stop-color="#d2d2d2"/><stop offset="0.0833" stop-color="#c9c9c9"/><stop offset="0.1111" stop-color="#bfbfbf"/><stop offset="0.1389" stop-color="#b7b7b7"/><stop offset="0.1667" stop-color="#afafaf"/><stop offset="0.1944" stop-color="#a7a7a7"/><stop offset="0.2222" stop-color="#a4a4a4"/><stop offset="0.2778" stop-color="#9c9c9c"/><stop offset="0.3333" stop-color="#999999"/><stop offset="0.3889" stop-color="#8f8f8f"/><stop offset="0.4444" stop-color="#6a6a6a"/><stop offset="0.5000" stop-color="#5d5d5d"/><stop offset="0.5556" stop-color="#585858"/><stop offset="0.6111" stop-color="#505050"/><stop offset="0.6667" stop-color="#414141"/><stop offset="0.7222" stop-color="#1a1a1a"/><stop offset="0.7778" stop-color="#000000"/><stop offset="0.9500" stop-color="#000000"/></linearGradient>
<linearGradient id="g0_41" gradientUnits="userSpaceOnUse" x1="114.47" x2="803.26" y1="0" y2="0"><stop offset="0.0000" stop-color="#efefef"/><stop offset="0.0278" stop-color="#e7e7e7"/><stop offset="0.0556" stop-color="#d2d2d2"/><stop offset="0.0833" stop-color="#c9c9c9"/><stop offset="0.1111" stop-color="#bfbfbf"/><stop offset="0.1389" stop-color="#b7b7b7"/><stop offset="0.1667" stop-color="#afafaf"/><stop offset="0.1944" stop-color="#a7a7a7"/><stop offset="0.2222" stop-color="#a4a4a4"/><stop offset="0.2778" stop-color="#9c9c9c"/><stop offset="0.3333" stop-color="#868686"/><stop offset="0.3889" stop-color="#666666"/><stop offset="0.4444" stop-color="#575757"/><stop offset="0.5000" stop-color="#5d5d5d"/><stop offset="0.5556" stop-color="#505050"/><stop offset="0.6111" stop-color="#515151"/><stop offset="0.6667" stop-color="#333333"/><stop offset="0.7222" stop-color="#0b0b0b"/><stop offset="0.7778" stop-color="#000000"/><stop offset="0.9500" stop-color="#000000"/></linearGradient>
<linearGradient id="g0_42" gradientUnits="userSpaceOnUse" x1="114.47" x2="803.26" y1="0" y2="0"><stop offset="0.0000" stop-color="#efefef"/><stop offset="0.0278" stop-color="#e7e7e7"/><stop offset="0.0556" stop-color="#d2d2d2"/><stop offset="0.0833" stop-color="#c9c9c9"/><stop offset="0.1111" stop-color="#bfbfbf"/><stop offset="0.1389" stop-color="#b7b7b7"/><stop offset="0.1667" stop-color="#afafaf"/><stop offset="0.1944" stop-color="#a7a7a7"/><stop offset="0.2222" stop-color="#a4a4a4"/><stop offset="0.2778" stop-color="#9c9c9c"/><stop offset="0.3333" stop-color="#606060"/><stop offset="0.3889" stop-color="#545454"/><stop offset="0.4444" stop-color="#575757"/><stop offset="0.5000" stop-color="#5d5d5d"/><stop offset="0.5556" stop-color="#505050"/><stop offset="0.6111" stop-color="#595959"/><stop offset="0.6667" stop-color="#252525"/><stop offset="0.7222" stop-color="#000000"/><stop offset="0.9500" stop-color="#000000"/></linearGradient>
<linearGradient id="g0_43" gradientUnits="userSpaceOnUse" x1="114.47" x2="803.26" y1="0" y2="0"><stop offset="0.0000" stop-color="#efefef"/><stop offset="0.0278" stop-color="#e7e7e7"/><stop offset="0.0556" stop-color="#d2d2d2"/><stop offset="0.0833" stop-color="#c9c9c9"/><stop offset="0.1111" stop-color="#bfbfbf"/><stop offset="0.1389" stop-color="#b7b7b7"/><stop offset="0.1667" stop-color="#afafaf"/><stop offset="0.1944" stop-color="#a7a7a7"/><stop offset="0.2222" stop-color="#a4a4a4"/><stop offset="0.2778" stop-color="#898989"/><stop offset="0.3333" stop-color="#545454"/><stop offset="0.3889" stop-color="#545454"/><stop offset="0.4444" stop-color="#575757"/><stop offset="0.5000" stop-color="#5d5d5d"/><stop offset="0.5556" stop-color="#505050"/><stop offset="0.6111" stop-color="#727272"/><stop offset="0.6667" stop-color="#181818"/><stop offset="0.7222" stop-color="#000000"/><stop offset="0.9500" stop-color="#000000"/></linearGradient>
<linearGradient id="g0_44" gradientUnits="userSpaceOnUse" x1="114.47" x2="803.26" y1="0" y2="0"><stop offset="0.0000" stop-color="#efefef"/><stop offset="0.0278" stop-color="#e7e7e7"/><stop offset="0.0556" stop-color="#d2d2d2"/><stop offset="0.0833" stop-color="#c9c9c9"/><stop offset="0.1111" stop-color="#bfbfbf"/><stop offset="0.1389" stop-color="#b7b7b7"/><stop offset="0.1667" stop-color="#afafaf"/><stop offset="0.1944" stop-color="#a7a7a7"/><stop offset="0.2222" stop-color="#a4a4a4"/><stop offset="0.2778" stop-color="#626262"/><stop offset="0.3333" stop-color="#545454"/><stop offset="0.3889" stop-color="#545454"/><stop offset="0.4444" stop-color="#575757"/><stop offset="0.5000" stop-color="#515151"/><stop offset="0.5556" stop-color="#505050"/><stop offset="0.6111" stop-color="#848484"/><stop offset="0.6667" stop-color="#0a0a0a"/><stop offset="0.7222" stop-color="#000000"/><stop offset="0.9500" stop-color="#000000"/></linearGradient>
<linearGradient id="g0_45" gradientUnits="userSpaceOnUse" x1="114.47" x2="803.26" y1="0" y2="0"><stop offset="0.0000" stop-color="#efefef"/><stop offset="0.0278" stop-color="#e7e7e7"/><stop offset="0.0556" stop-color="#d2d2d2"/><stop offset="0.0833" stop-color="#c9c9c9"/><stop offset="0.1111" stop-color="#bfbfbf"/><stop offset="0.1389" stop-color="#b7b7b7"/><stop offset="0.1667" stop-color="#afafaf"/><stop offset="0.1944" stop-color="#a7a7a7"/><stop offset="0.2222" stop-color="#a4a4a4"/><stop offset="0.2778" stop-color="#545454"/><stop offset="0.3889" stop-color="#545454"/><stop offset="0.4444" stop-color="#575757"/><stop offset="0.5000" stop-color="#505050"/><stop offset="0.5556" stop-color="#505050"/><stop offset="0.6111" stop-color="#575757"/><stop offset="0.6667" stop-color="#000000"/><stop offset="0.9500" stop-color="#000000"/></linearGradient>
<linearGradient id="g0_46" gradientUnits="userSpaceOnUse" x1="114.47" x2="803.26" y1="0" y2="0"><stop offset="0.0000" stop-color="#efefef"/><stop offset="0.0278" stop-color="#e7e7e7"/><stop offset="0.0556" stop-color="#d2d2d2"/><stop offset="0.0833" stop-color="#c9c9c9"/><stop offset="0.1111" stop-color="#bfbfbf"/><stop offset="0.1389" stop-color="#b7b7b7"/><stop offset="0.1667" stop-color="#afafaf"/><stop offset="0.1944" stop-color="#a7a7a7"/><stop offset="0.2222" stop-color="#a4a4a4"/><stop offset="0.2778" stop-color="#545454"/><stop offset="0.3889" stop-color="#545454"/><stop offset="0.4444" stop-color="#575757"/><stop offset="0.5000" stop-color="#505050"/><stop offset="0.5556" stop-color="#494949"/><stop offset="0.6111" stop-color="#242424"/><stop offset="0.6667" stop-color="#000000"/><stop offset="0.9500" stop-color="#000000"/></linearGradient>
<linearGradient id="g0_47" gradientUnits="userSpaceOnUse" x1="114.47" x2="803.26" y1="0" y2="0"><stop offset="0.0000" stop-color="#efefef"/><stop offset="0.0278" stop-color="#e7e7e7"/><stop offset="0.0556" stop-color="#d2d2d2"/><stop offset="0.0833" stop-color="#c9c9c9"/><stop offset="0.1111" stop-color="#bfbfbf"/><stop offset="0.1389" stop-color="#b7b7b7"/><stop offset="0.1667" stop-color="#afafaf"/><stop offset="0.1944" stop-color="#a7a7a7"/><stop offset="0.2222" stop-color="#868686"/><stop offset="0.2778" stop-color="#545454"/><stop offset="0.3889" stop-color="#545454"/><stop offset="0.4444" stop-color="#575757"/><stop offset="0.5000" stop-color="#505050"/><stop offset="0.5556" stop-color="#3c3c3c"/><stop offset="0.6111" stop-color="#0c0c0c"/><stop offset="0.6667" stop-color="#000000"/><stop offset="0.9500" stop-color="#000000"/></linearGradient>
<linearGradient id="g0_48" gradientUnits="userSpaceOnUse" x1="114.47" x2="803.26" y1="0" y2="0"><stop offset="0.0000" stop-color="#efefef"/><stop offset="0.0278" stop-color="#e7e7e7"/><stop offset="0.0556" stop-color="#d2d2d2"/><stop offset="0.0833" stop-color="#c9c9c9"/><stop offset="0.1111" stop-color="#bfbfbf"/><stop offset="0.1389" stop-color="#b7b7b7"/><stop offset="0.1667" stop-color="#afafaf"/><stop offset="0.1944" stop-color="#a7a7a7"/><stop offset="0.2222" stop-color="#636363"/><stop offset="0.2778" stop-color="#545454"/><stop offset="0.3889" stop-color="#545454"/><stop offset="0.4444" stop-color="#505050"/><stop offset="0.5000" stop-color="#505050"/><stop offset="0.5556" stop-color="#2e2e2e"/><stop offset="0.6111" stop-color="#000000"/><stop offset="0.9500" stop-color="#000000"/></linearGradient>
<linearGradient id="g0_49" gradientUnits="userSpaceOnUse" x1="114.47" x2="803.26" y1="0" y2="0"><stop offset="0.0000" stop-color="#efefef"/><stop offset="0.0278" stop-color="#e7e7e7"/><stop offset="0.0556" stop-color="#d2d2d2"/><stop offset="0.0833" stop-color="#c9c9c9"/><stop offset="0.1111" stop-color="#bfbfbf"/><stop offset="0.1389" stop-color="#b7b7b7"/><stop offset="0.1667" stop-color="#afafaf"/><stop offset="0.1944" stop-color="#868686"/><stop offset="0.2222" stop-color="#575757"/><stop offset="0.2778" stop-color="#545454"/><stop offset="0.3889" stop-color="#545454"/><stop offset="0.4444" stop-color="#505050"/><stop offset="0.5000" stop-color="#505050"/><stop offset="0.5556" stop-color="#212121"/><stop offset="0.6111" stop-color="#000000"/><stop offset="0.9500" stop-color="#000000"/></linearGradient>
<linearGradient id="g0_50" gradientUnits="userSpaceOnUse" x1="114.47" x2="803.26" y1="0" y2="0"><stop offset="0.0000" stop-color="#efefef"/><stop offset="0.0278" stop-color="#e7e7e7"/><stop offset="0.0556" stop-color="#d2d2d2"/><stop offset="0.0833" stop-color="#c9c9c9"/><stop offset="0.1111" stop-color="#bfbfbf"/><stop offset="0.1389" stop-color="#b7b7b7"/><stop offset="0.1667" stop-color="#afafaf"/><stop offset="0.1944" stop-color="#646464"/><stop offset="0.2222" stop-color="#505050"/><stop offset="0.5000" stop-color="#505050"/><stop offset="0.5556" stop-color="#141414"/><stop offset="0.6111" stop-color="#000000"/><stop offset="0.9500" stop-color="#000000"/></linearGradient>
<linearGradient id="g0_51" gradientUnits="userSpaceOnUse" x1="114.47" x2="803.26" y1="0" y2="0"><stop offset="0.0000" stop-color="#efefef"/><stop offset="0.0278" stop-color="#e7e7e7"/><stop offset="0.0556" stop-color="#d2d2d2"/><stop offset="0.0833" stop-color="#c9c9c9"/><stop offset="0.1111" stop-color="#bfbfbf"/><stop offset="0.1389" stop-color="#b7b7b7"/><stop offset="0.1667" stop-color="#afafaf"/><stop offset="0.1944" stop-color="#505050"/><stop offset="0.4444" stop-color="#505050"/><stop offset="0.5000" stop-color="#444444"/><stop offset="0.5556" stop-color="#070707"/><stop offset="0.6111" stop-color="#000000"/><stop offset="0.9500" stop-color="#000000"/></linearGradient>
<linearGradient id="g0_52" gradientUnits="userSpaceOnUse" x1="114.47" x2="803.26" y1="0" y2="0"><stop offset="0.0000" stop-color="#efefef"/><stop offset="0.0278" stop-color="#e7e7e7"/><stop offset="0.0556" stop-color="#d2d2d2"/><stop offset="0.0833" stop-color="#c9c9c9"/><stop offset="0.1111" stop-color="#bfbfbf"/><stop offset="0.1389" stop-color="#b7b7b7"/><stop offset="0.1667" stop-color="#aaaaaa"/><stop offset="0.1944" stop-color="#494949"/><stop offset="0.4444" stop-color="#494949"/><stop offset="0.5000" stop-color="#363636"/><stop offset="0.5556" stop-color="#000000"/><stop offset="0.9500" stop-color="#000000"/></linearGradient>
<linearGradient id="g0_53" gradientUnits="userSpaceOnUse" x1="114.47" x2="803.26" y1="0" y2="0"><stop offset="0.0000" stop-color="#efefef"/><stop offset="0.0278" stop-color="#e7e7e7"/><stop offset="0.0556" stop-color="#d2d2d2"/><stop offset="0.0833" stop-color="#c9c9c9"/><stop offset="0.1111" stop-color="#bfbfbf"/><stop offset="0.1389" stop-color="#b7b7b7"/><stop offset="0.1667" stop-color="#898989"/><stop offset="0.1944" stop-color="#3c3c3c"/><stop offset="0.4444" stop-color="#3c3c3c"/><stop offset="0.5000" stop-color="#292929"/><stop offset="0.5556" stop-color="#000000"/><stop offset="0.9500" stop-color="#000000"/></linearGradient>
<linearGradient id="g0_54" gradientUnits="userSpaceOnUse" x1="114.47" x2="803.26" y1="0" y2="0"><stop offset="0.0000" stop-color="#efefef"/><stop offset="0.0278" stop-color="#e7e7e7"/><stop offset="0.0556" stop-color="#d2d2d2"/><stop offset="0.0833" stop-color="#c9c9c9"/><stop offset="0.1111" stop-color="#bfbfbf"/><stop offset="0.1389" stop-color="#b7b7b7"/><stop offset="0.1667" stop-color="#686868"/><stop offset="0.1944" stop-color="#2e2e2e"/><stop offset="0.4444" stop-color="#2e2e2e"/><stop offset="0.5000" stop-color="#1c1c1c"/><stop offset="0.5556" stop-color="#000000"/><stop offset="0.9500" stop-color="#000000"/></linearGradient>
<linearGradient id="g0_55" gradientUnits="userSpaceOnUse" x1="114.47" x2="803.26" y1="0" y2="0"><stop offset="0.0000" stop-color="#efefef"/><stop offset="0.0278" stop-color="#e7e7e7"/><stop offset="0.0556" stop-color="#d2d2d2"/><stop offset="0.0833" stop-color="#c9c9c9"/><stop offset="0.1111" stop-color="#bfbfbf"/><stop offset="0.1389" stop-color="#b7b7b7"/><stop offset="0.1667" stop-color="#474747"/><stop offset="0.1944" stop-color="#212121"/><stop offset="0.4444" stop-color="#212121"/><stop offset="0.5000" stop-color="#0f0f0f"/><stop offset="0.5556" stop-color="#000000"/><stop offset="0.9500" stop-color="#000000"/></linearGradient>
<linearGradient id="g0_56" gradientUnits="userSpaceOnUse" x1="114.47" x2="803.26" y1="0" y2="0"><stop offset="0.0000" stop-color="#efefef"/><stop offset="0.0278" stop-color="#e7e7e7"/><stop offset="0.0556" stop-color="#d2d2d2"/><stop offset="0.0833" stop-color="#c9c9c9"/><stop offset="0.1111" stop-color="#bfbfbf"/><stop offset="0.1389" stop-color="#949494"/><stop offset="0.1667" stop-color="#0e0e0e"/><stop offset="0.1944" stop-color="#0a0a0a"/><stop offset="0.4444" stop-color="#0a0a0a"/><stop offset="0.5000" stop-color="#000000"/><stop offset="0.9500" stop-color="#000000"/></linearGradient>
<linearGradient id="g0_57" gradientUnits="userSpaceOnUse" x1="114.47" x2="803.26" y1="0" y2="0"><stop offset="0.0000" stop-color="#efefef"/><stop offset="0.0278" stop-color="#e7e7e7"/><stop offset="0.0556" stop-color="#d2d2d2"/><stop offset="0.0833" stop-color="#c9c9c9"/><stop offset="0.1111" stop-color="#bfbfbf"/><stop offset="0.1389" stop-color="#434343"/><stop offset="0.1667" stop-color="#000000"/><stop offset="0.9500" stop-color="#000000"/></linearGradient>
<linearGradient id="g0_58" gradientUnits="userSpaceOnUse" x1="114.47" x2="803.26" y1="0" y2="0"><stop offset="0.0000" stop-color="#efefef"/><stop offset="0.0278" stop-color="#e7e7e7"/><stop offset="0.0556" stop-color="#d2d2d2"/><stop offset="0.0833" stop-color="#c9c9c9"/><stop offset="0.1111" stop-color="#787878"/><stop offset="0.1389" stop-color="#000000"/><stop offset="0.9500" stop-color="#000000"/></linearGradient>
<linearGradient id="g0_59" gradientUnits="userSpaceOnUse" x1="114.47" x2="803.26" y1="0" y2="0"><stop offset="0.0000" stop-color="#efefef"/><stop offset="0.0278" stop-color="#e7e7e7"/><stop offset="0.0556" stop-color="#d2d2d2"/><stop offset="0.0833" stop-color="#bababa"/><stop offset="0.1111" stop-color="#282828"/><stop offset="0.1389" stop-color="#000000"/><stop offset="0.9500" stop-color="#000000"/></linearGradient>
<linearGradient id="g0_60" gradientUnits="userSpaceOnUse" x1="114.47" x2="803.26" y1="0" y2="0"><stop offset="0.0000" stop-color="#efefef"/><stop offset="0.0278" stop-color="#e7e7e7"/><stop offset="0.0556" stop-color="#d2d2d2"/><stop offset="0.0833" stop-color="#707070"/><stop offset="0.1111" stop-color="#000000"/><stop offset="0.9500" stop-color="#000000"/></linearGradient>
<linearGradient id="g0_61" gradientUnits="userSpaceOnUse" x1="114.47" x2="803.26" y1="0" y2="0"><stop offset="0.0000" stop-color="#efefef"/><stop offset="0.0278" stop-color="#e7e7e7"/><stop offset="0.0556" stop-color="#afafaf"/><stop offset="0.0833" stop-color="#252525"/><stop offset="0.1111" stop-color="#000000"/><stop offset="0.9500" stop-color="#000000"/></linearGradient>
<linearGradient id="g0_62" gradientUnits="userSpaceOnUse" x1="114.47" x2="803.26" y1="0" y2="0"><stop offset="0.0000" stop-color="#efefef"/><stop offset="0.0278" stop-color="#e7e7e7"/><stop offset="0.0556" stop-color="#696969"/><stop offset="0.0833" stop-color="#000000"/><stop offset="0.9500" stop-color="#000000"/></linearGradient>
<linearGradient id="g0_63" gradientUnits="userSpaceOnUse" x1="114.47" x2="803.26" y1="0" y2="0"><stop offset="0.0000" stop-color="#efefef"/><stop offset="0.0278" stop-color="#cacaca"/><stop offset="0.0556" stop-color="#232323"/><stop offset="0.0833" stop-color="#000000"/><stop offset="0.9500" stop-color="#000000"/></linearGradient>
<linearGradient id="g0_64" gradientUnits="userSpaceOnUse" x1="114.47" x2="803.26" y1="0" y2="0"><stop offset="0.0000" stop-color="#d1d1d1"/><stop offset="0.0278" stop-color="#909090"/><stop offset="0.0556" stop-color="#000000"/><stop offset="0.9500" stop-color="#000000"/></linearGradient>
<linearGradient id="g0_65" gradientUnits="userSpaceOnUse" x1="114.47" x2="803.26" y1="0" y2="0"><stop offset="0.0000" stop-color="#959595"/><stop offset="0.0278" stop-color="#575757"/><stop offset="0.0556" stop-color="#000000"/><stop offset="0.9500" stop-color="#000000"/></linearGradient>
</defs>
<g filter="url(#hf0)">
<rect x="96.6" y="15.2" width="702.1" height="714.1" fill="#000"/>
<path d="M114.47,699.30 L803.26,699.30 L803.26,680.00Z" fill="url(#g0_0)"/>
<path d="M114.47,699.30 L803.26,682.07 L803.26,662.77Z" fill="url(#g0_1)"/>
<path d="M114.47,699.30 L803.26,664.84 L803.26,645.54Z" fill="url(#g0_2)"/>
<path d="M114.47,699.30 L803.26,647.60 L803.26,628.30Z" fill="url(#g0_3)"/>
<path d="M114.47,699.30 L803.26,630.37 L803.26,611.07Z" fill="url(#g0_4)"/>
<path d="M114.47,699.30 L803.26,613.14 L803.26,593.84Z" fill="url(#g0_5)"/>
<path d="M114.47,699.30 L803.26,595.91 L803.26,576.61Z" fill="url(#g0_6)"/>
<path d="M114.47,699.30 L803.26,578.68 L803.26,559.38Z" fill="url(#g0_7)"/>
<path d="M114.47,699.30 L803.26,561.45 L803.26,552.48Z" fill="url(#g0_8)"/>
<path d="M114.47,699.30 L803.26,554.55 L803.26,545.59Z" fill="url(#g0_9)"/>
<path d="M114.47,699.30 L803.26,547.66 L803.26,538.70Z" fill="url(#g0_10)"/>
<path d="M114.47,699.30 L803.26,540.77 L803.26,531.81Z" fill="url(#g0_11)"/>
<path d="M114.47,699.30 L803.26,533.87 L803.26,524.91Z" fill="url(#g0_12)"/>
<path d="M114.47,699.30 L803.26,526.98 L803.26,518.02Z" fill="url(#g0_13)"/>
<path d="M114.47,699.30 L803.26,520.09 L803.26,511.13Z" fill="url(#g0_14)"/>
<path d="M114.47,699.30 L803.26,513.20 L803.26,504.24Z" fill="url(#g0_15)"/>
<path d="M114.47,699.30 L803.26,506.30 L803.26,497.34Z" fill="url(#g0_16)"/>
<path d="M114.47,699.30 L803.26,499.41 L803.26,490.45Z" fill="url(#g0_17)"/>
<path d="M114.47,699.30 L803.26,492.52 L803.26,483.56Z" fill="url(#g0_18)"/>
<path d="M114.47,699.30 L803.26,485.63 L803.26,476.66Z" fill="url(#g0_19)"/>
<path d="M114.47,699.30 L803.26,478.73 L803.26,469.77Z" fill="url(#g0_20)"/>
<path d="M114.47,699.30 L803.26,471.84 L803.26,462.88Z" fill="url(#g0_21)"/>
<path d="M114.47,699.30 L803.26,464.95 L803.26,455.99Z" fill="url(#g0_22)"/>
<path d="M114.47,699.30 L803.26,458.05 L803.26,449.09Z" fill="url(#g0_23)"/>
<path d="M114.47,699.30 L803.26,451.16 L803.26,435.31Z" fill="url(#g0_24)"/>
<path d="M114.47,699.30 L803.26,437.38 L803.26,421.52Z" fill="url(#g0_25)"/>
<path d="M114.47,699.30 L803.26,423.59 L803.26,407.74Z" fill="url(#g0_26)"/>
<path d="M114.47,699.30 L803.26,409.80 L803.26,393.95Z" fill="url(#g0_27)"/>
<path d="M114.47,699.30 L803.26,396.02 L803.26,380.17Z" fill="url(#g0_28)"/>
<path d="M114.47,699.30 L803.26,382.23 L803.26,366.38Z" fill="url(#g0_29)"/>
<path d="M114.47,699.30 L803.26,368.45 L803.26,352.60Z" fill="url(#g0_30)"/>
<path d="M114.47,699.30 L803.26,354.66 L803.26,338.81Z" fill="url(#g0_31)"/>
<path d="M114.47,699.30 L803.26,340.88 L803.26,325.02Z" fill="url(#g0_32)"/>
<path d="M114.47,699.30 L803.26,327.09 L803.26,311.24Z" fill="url(#g0_33)"/>
<path d="M114.47,699.30 L803.26,313.31 L803.26,297.45Z" fill="url(#g0_34)"/>
<path d="M114.47,699.30 L803.26,299.52 L803.26,283.67Z" fill="url(#g0_35)"/>
<path d="M114.47,699.30 L803.26,285.74 L803.26,269.88Z" fill="url(#g0_36)"/>
<path d="M114.47,699.30 L803.26,271.95 L803.26,256.10Z" fill="url(#g0_37)"/>
<path d="M114.47,699.30 L803.26,258.16 L803.26,242.31Z" fill="url(#g0_38)"/>
<path d="M114.47,699.30 L803.26,244.38 L803.26,228.53Z" fill="url(#g0_39)"/>
<path d="M114.47,699.30 L803.26,230.59 L803.26,214.74Z" fill="url(#g0_40)"/>
<path d="M114.47,699.30 L803.26,216.81 L803.26,200.95Z" fill="url(#g0_41)"/>
<path d="M114.47,699.30 L803.26,203.02 L803.26,187.17Z" fill="url(#g0_42)"/>
<path d="M114.47,699.30 L803.26,189.24 L803.26,173.38Z" fill="url(#g0_43)"/>
<path d="M114.47,699.30 L803.26,175.45 L803.26,159.60Z" fill="url(#g0_44)"/>
<path d="M114.47,699.30 L803.26,161.67 L803.26,145.81Z" fill="url(#g0_45)"/>
<path d="M114.47,699.30 L803.26,147.88 L803.26,132.03Z" fill="url(#g0_46)"/>
<path d="M114.47,699.30 L803.26,134.10 L803.26,118.24Z" fill="url(#g0_47)"/>
<path d="M114.47,699.30 L803.26,120.31 L803.26,104.46Z" fill="url(#g0_48)"/>
<path d="M114.47,699.30 L803.26,106.52 L803.26,90.67Z" fill="url(#g0_49)"/>
<path d="M114.47,699.30 L803.26,92.74 L803.26,76.89Z" fill="url(#g0_50)"/>
<path d="M114.47,699.30 L803.26,78.95 L803.26,63.10Z" fill="url(#g0_51)"/>
<path d="M114.47,699.30 L803.26,65.17 L803.26,49.31Z" fill="url(#g0_52)"/>
<path d="M114.47,699.30 L803.26,51.38 L803.26,35.53Z" fill="url(#g0_53)"/>
<path d="M114.47,699.30 L803.26,37.60 L803.26,21.74Z" fill="url(#g0_54)"/>
<path d="M114.47,699.30 L803.26,23.81 L803.26,7.96Z" fill="url(#g0_55)"/>
<path d="M114.47,699.30 L803.26,10.03 L803.26,-26.51Z" fill="url(#g0_56)"/>
<path d="M114.47,699.30 L803.26,-24.44 L803.26,-60.97Z" fill="url(#g0_57)"/>
<path d="M114.47,699.30 L803.26,-58.90 L803.26,-95.43Z" fill="url(#g0_58)"/>
<path d="M114.47,699.30 L803.26,-93.37 L803.26,-129.90Z" fill="url(#g0_59)"/>
<path d="M114.47,699.30 L803.26,-127.83 L803.26,-164.36Z" fill="url(#g0_60)"/>
<path d="M114.47,699.30 L803.26,-162.29 L803.26,-198.82Z" fill="url(#g0_61)"/>
<path d="M114.47,699.30 L803.26,-196.76 L803.26,-233.29Z" fill="url(#g0_62)"/>
<path d="M114.47,699.30 L803.26,-231.22 L803.26,-267.75Z" fill="url(#g0_63)"/>
<path d="M114.47,699.30 L803.26,-265.68 L803.26,-302.22Z" fill="url(#g0_64)"/>
<path d="M114.47,699.30 L803.26,-300.15 L803.26,-336.68Z" fill="url(#g0_65)"/>
</g></g>
<g clip-path="url(#clip0)" fill="none" stroke-width="4.65">
<path d="M114.47,697.77 L764.61,48.47" stroke="#0000ff" stroke-dasharray="17.21 7.44"/>
<path d="M114.47,630.27 L117.72,630.18 L120.97,629.92 L124.22,629.49 L127.47,628.89 L130.72,628.13 L133.97,627.22 L137.22,626.16 L140.48,624.95 L143.73,623.62 L146.98,622.17 L150.23,620.60 L153.48,618.92 L156.73,617.14 L159.98,615.28 L163.23,613.33 L166.48,611.30 L169.73,609.20 L172.98,607.03 L176.23,604.80 L179.48,602.52 L182.73,600.18 L185.99,597.80 L189.24,595.37 L192.49,592.89 L195.74,590.39 L198.99,587.84 L202.24,585.26 L205.49,582.65 L208.74,580.01 L211.99,577.35 L215.24,574.65 L218.49,571.94 L221.74,569.20 L224.99,566.44 L228.24,563.66 L231.49,560.87 L234.75,558.05 L238.00,555.22 L241.25,552.37 L244.50,549.51 L247.75,546.63 L251.00,543.75 L254.25,540.84 L257.50,537.93 L260.75,535.00 L264.00,532.07 L267.25,529.12 L270.50,526.16 L273.75,523.20 L277.00,520.22 L280.26,517.24 L283.51,514.24 L286.76,511.24 L290.01,508.24 L293.26,505.22 L296.51,502.20 L299.76,499.17 L303.01,496.14 L306.26,493.10 L309.51,490.05 L312.76,487.00 L316.01,483.94 L319.26,480.88 L322.51,477.81 L325.76,474.74 L329.02,471.66 L332.27,468.58 L335.52,465.49 L338.77,462.40 L342.02,459.31 L345.27,456.21 L348.52,453.11 L351.77,450.01 L355.02,446.90 L358.27,443.78 L361.52,440.67 L364.77,437.55 L368.02,434.43 L371.27,431.31 L374.53,428.18 L377.78,425.05 L381.03,421.92 L384.28,418.78 L387.53,415.64 L390.78,412.50 L394.03,409.36 L397.28,406.22 L400.53,403.07 L403.78,399.92 L407.03,396.77 L410.28,393.62 L413.53,390.46 L416.78,387.30 L420.04,384.15 L423.29,380.98 L426.54,377.82 L429.79,374.66 L433.04,371.49 L436.29,368.32 L439.54,365.16 L442.79,361.99 L446.04,358.81 L449.29,355.64 L452.54,352.47 L455.79,349.29 L459.04,346.11 L462.29,342.93 L465.54,339.75 L468.80,336.57 L472.05,333.39 L475.30,330.20 L478.55,327.02 L481.80,323.83 L485.05,320.65 L488.30,317.46 L491.55,314.27 L494.80,311.08 L498.05,307.89 L501.30,304.70 L504.55,301.50 L507.80,298.31 L511.05,295.11 L514.31,291.92 L517.56,288.72 L520.81,285.52 L524.06,282.32 L527.31,279.13 L530.56,275.93 L533.81,272.72 L537.06,269.52 L540.31,266.32 L543.56,263.12 L546.81,259.91 L550.06,256.71 L553.31,253.50 L556.56,250.30 L559.82,247.09 L563.07,243.89 L566.32,240.68 L569.57,237.47 L572.82,234.26 L576.07,231.05 L579.32,227.84 L582.57,224.63 L585.82,221.42 L589.07,218.21 L592.32,214.99 L595.57,211.78 L598.82,208.57 L602.07,205.35 L605.32,202.14 L608.58,198.92 L611.83,195.71 L615.08,192.49 L618.33,189.28 L621.58,186.06 L624.83,182.84 L628.08,179.63 L631.33,176.41 L634.58,173.19 L637.83,169.97 L641.08,166.75 L644.33,163.53 L647.58,160.31 L650.83,157.09 L654.09,153.87 L657.34,150.65 L660.59,147.43 L663.84,144.21 L667.09,140.98 L670.34,137.76 L673.59,134.54 L676.84,131.31 L680.09,128.09 L683.34,124.87 L686.59,121.64 L689.84,118.42 L693.09,115.19 L696.34,111.97 L699.60,108.74 L702.85,105.52 L706.10,102.29 L709.35,99.06 L712.60,95.84 L715.85,92.61 L719.10,89.38 L722.35,86.16 L725.60,82.93 L728.85,79.70 L732.10,76.47 L735.35,73.24 L738.60,70.01 L741.85,66.79 L745.10,63.56 L748.36,60.33 L751.61,57.10 L754.86,53.87 L758.11,50.64 L761.36,47.41 L764.61,44.18" stroke="#ffa500" stroke-linecap="square"/>
<path d="M114.47,699.30 L117.72,697.49 L120.97,695.69 L124.22,693.87 L127.47,692.04 L130.72,690.20 L133.97,688.35 L137.22,686.48 L140.48,684.58 L143.73,682.67 L146.98,680.74 L150.23,678.79 L153.48,676.82 L156.73,674.82 L159.98,672.81 L163.23,670.78 L166.48,668.74 L169.73,666.68 L172.98,664.60 L176.23,662.51 L179.48,660.41 L182.73,658.29 L185.99,656.17 L189.24,654.03 L192.49,651.89 L195.74,649.74 L198.99,647.58 L202.24,645.42 L205.49,643.24 L208.74,641.07 L211.99,638.89 L215.24,636.71 L218.49,634.52 L221.74,632.33 L224.99,630.13 L228.24,627.94 L231.49,625.74 L234.75,623.54 L238.00,621.34 L241.25,619.13 L244.50,616.93 L247.75,614.72 L251.00,612.52 L254.25,610.31 L257.50,608.10 L260.75,605.90 L264.00,603.69 L267.25,601.48 L270.50,599.27 L273.75,597.06 L277.00,594.85 L280.26,592.65 L283.51,590.44 L286.76,588.23 L290.01,586.02 L293.26,583.81 L296.51,581.61 L299.76,579.40 L303.01,577.19 L306.26,574.99 L309.51,572.78 L312.76,570.58 L316.01,568.37 L319.26,566.17 L322.51,563.96 L325.76,561.76 L329.02,559.56 L332.27,557.36 L335.52,555.15 L338.77,552.95 L342.02,550.75 L345.27,548.55 L348.52,546.35 L351.77,544.15 L355.02,541.95 L358.27,539.75 L361.52,537.55 L364.77,535.35 L368.02,533.16 L371.27,530.96 L374.53,528.76 L377.78,526.57 L381.03,524.37 L384.28,522.18 L387.53,519.98 L390.78,517.79 L394.03,515.59 L397.28,513.40 L400.53,511.20 L403.78,509.01 L407.03,506.82 L410.28,504.63 L413.53,502.43 L416.78,500.24 L420.04,498.05 L423.29,495.86 L426.54,493.67 L429.79,491.48 L433.04,489.29 L436.29,487.10 L439.54,484.91 L442.79,482.72 L446.04,480.53 L449.29,478.34 L452.54,476.15 L455.79,473.97 L459.04,471.78 L462.29,469.59 L465.54,467.40 L468.80,465.22 L472.05,463.03 L475.30,460.84 L478.55,458.66 L481.80,456.47 L485.05,454.29 L488.30,452.10 L491.55,449.92 L494.80,447.73 L498.05,445.55 L501.30,443.36 L504.55,441.18 L507.80,438.99 L511.05,436.81 L514.31,434.63 L517.56,432.44 L520.81,430.26 L524.06,428.08 L527.31,425.89 L530.56,423.71 L533.81,421.53 L537.06,419.35 L540.31,417.16 L543.56,414.98 L546.81,412.80 L550.06,410.62 L553.31,408.44 L556.56,406.25 L559.82,404.07 L563.07,401.89 L566.32,399.71 L569.57,397.53 L572.82,395.35 L576.07,393.17 L579.32,390.99 L582.57,388.81 L585.82,386.63 L589.07,384.45 L592.32,382.27 L595.57,380.09 L598.82,377.91 L602.07,375.73 L605.32,373.55 L608.58,371.37 L611.83,369.19 L615.08,367.02 L618.33,364.84 L621.58,362.66 L624.83,360.48 L628.08,358.30 L631.33,356.12 L634.58,353.94 L637.83,351.77 L641.08,349.59 L644.33,347.41 L647.58,345.23 L650.83,343.06 L654.09,340.88 L657.34,338.70 L660.59,336.52 L663.84,334.35 L667.09,332.17 L670.34,329.99 L673.59,327.81 L676.84,325.64 L680.09,323.46 L683.34,321.28 L686.59,319.11 L689.84,316.93 L693.09,314.75 L696.34,312.58 L699.60,310.40 L702.85,308.23 L706.10,306.05 L709.35,303.87 L712.60,301.70 L715.85,299.52 L719.10,297.34 L722.35,295.17 L725.60,292.99 L728.85,290.82 L732.10,288.64 L735.35,286.47 L738.60,284.29 L741.85,282.12 L745.10,279.94 L748.36,277.76 L751.61,275.59 L754.86,273.41 L758.11,271.24 L761.36,269.06 L764.61,266.89" stroke="#008000" stroke-dasharray="29.76 7.44 4.65 7.44"/>
<path d="M114.47,688.88 L117.72,688.86 L120.97,688.81 L124.22,688.73 L127.47,688.62 L130.72,688.47 L133.97,688.30 L137.22,688.09 L140.48,687.86 L143.73,687.61 L146.98,687.33 L150.23,687.02 L153.48,686.70 L156.73,686.36 L159.98,686.00 L163.23,685.63 L166.48,685.24 L169.73,684.84 L172.98,684.42 L176.23,683.99 L179.48,683.56 L182.73,683.11 L185.99,682.65 L189.24,682.19 L192.49,681.72 L195.74,681.24 L198.99,680.75 L202.24,680.26 L205.49,679.77 L208.74,679.26 L211.99,678.76 L215.24,678.25 L218.49,677.73 L221.74,677.21 L224.99,676.69 L228.24,676.17 L231.49,675.64 L234.75,675.11 L238.00,674.57 L241.25,674.04 L244.50,673.50 L247.75,672.96 L251.00,672.41 L254.25,671.87 L257.50,671.32 L260.75,670.77 L264.00,670.22 L267.25,669.67 L270.50,669.12 L273.75,668.57 L277.00,668.01 L280.26,667.45 L283.51,666.89 L286.76,666.34 L290.01,665.77 L293.26,665.21 L296.51,664.65 L299.76,664.09 L303.01,663.52 L306.26,662.96 L309.51,662.39 L312.76,661.83 L316.01,661.26 L319.26,660.69 L322.51,660.12 L325.76,659.55 L329.02,658.98 L332.27,658.41 L335.52,657.84 L338.77,657.27 L342.02,656.70 L345.27,656.13 L348.52,655.55 L351.77,654.98 L355.02,654.41 L358.27,653.83 L361.52,653.26 L364.77,652.68 L368.02,652.11 L371.27,651.53 L374.53,650.96 L377.78,650.38 L381.03,649.80 L384.28,649.23 L387.53,648.65 L390.78,648.07 L394.03,647.49 L397.28,646.92 L400.53,646.34 L403.78,645.76 L407.03,645.18 L410.28,644.60 L413.53,644.02 L416.78,643.44 L420.04,642.86 L423.29,642.28 L426.54,641.70 L429.79,641.12 L433.04,640.54 L436.29,639.96 L439.54,639.38 L442.79,638.80 L446.04,638.22 L449.29,637.63 L452.54,637.05 L455.79,636.47 L459.04,635.89 L462.29,635.31 L465.54,634.72 L468.80,634.14 L472.05,633.56 L475.30,632.98 L478.55,632.39 L481.80,631.81 L485.05,631.23 L488.30,630.64 L491.55,630.06 L494.80,629.48 L498.05,628.89 L501.30,628.31 L504.55,627.73 L507.80,627.14 L511.05,626.56 L514.31,625.97 L517.56,625.39 L520.81,624.81 L524.06,624.22 L527.31,623.64 L530.56,623.05 L533.81,622.47 L537.06,621.88 L540.31,621.30 L543.56,620.71 L546.81,620.13 L550.06,619.54 L553.31,618.96 L556.56,618.37 L559.82,617.79 L563.07,617.20 L566.32,616.62 L569.57,616.03 L572.82,615.45 L576.07,614.86 L579.32,614.28 L582.57,613.69 L585.82,613.10 L589.07,612.52 L592.32,611.93 L595.57,611.35 L598.82,610.76 L602.07,610.17 L605.32,609.59 L608.58,609.00 L611.83,608.42 L615.08,607.83 L618.33,607.24 L621.58,606.66 L624.83,606.07 L628.08,605.48 L631.33,604.90 L634.58,604.31 L637.83,603.73 L641.08,603.14 L644.33,602.55 L647.58,601.97 L650.83,601.38 L654.09,600.79 L657.34,600.21 L660.59,599.62 L663.84,599.03 L667.09,598.44 L670.34,597.86 L673.59,597.27 L676.84,596.68 L680.09,596.10 L683.34,595.51 L686.59,594.92 L689.84,594.34 L693.09,593.75 L696.34,593.16 L699.60,592.57 L702.85,591.99 L706.10,591.40 L709.35,590.81 L712.60,590.22 L715.85,589.64 L719.10,589.05 L722.35,588.46 L725.60,587.87 L728.85,587.29 L732.10,586.70 L735.35,586.11 L738.60,585.52 L741.85,584.94 L745.10,584.35 L748.36,583.76 L751.61,583.17 L754.86,582.59 L758.11,582.00 L761.36,581.41 L764.61,580.82" stroke="#1f77b4" stroke-linecap="square"/>
<path d="M126.60,469.54 L768.75,469.54" stroke="#ff0000" stroke-opacity="0.8" stroke-dasharray="17.21 7.44"/>
</g>
<rect x="126.60" y="45.2" width="642.15" height="654.10" fill="none" stroke="#000" stroke-width="2.45"/>
<path d="M305.80,699.3 v11.2 M497.13,699.3 v11.2 M688.46,699.3 v11.2 M126.60,699.30 h-11.2 M126.60,603.57 h-11.2 M126.60,507.83 h-11.2 M126.60,412.10 h-11.2 M126.60,316.37 h-11.2 M126.60,220.64 h-11.2 M126.60,124.90 h-11.2" stroke="#000" stroke-width="2.3" fill="none"/>
<text transform="translate(285.27,746.85) scale(0.9926,1.0196)" font-size="37.5">50</text>
<text transform="translate(466.39,746.85) scale(0.9650,1.0196)" font-size="37.5">100</text>
<text transform="translate(656.89,746.85) scale(0.9767,1.0196)" font-size="37.5">150</text>
<text transform="translate(83.62,712.15) scale(1.0540,1.0196)" font-size="37.5">0</text>
<text transform="translate(66.09,616.41) scale(0.9781,1.0297)" font-size="37.5">25</text>
<text transform="translate(65.57,520.68) scale(0.9926,1.0196)" font-size="37.5">50</text>
<text transform="translate(65.30,424.94) scale(1.0000,1.0400)" font-size="37.5">75</text>
<text transform="translate(45.77,329.22) scale(0.9796,1.0196)" font-size="37.5">100</text>
<text transform="translate(45.77,233.48) scale(0.9796,1.0297)" font-size="37.5">125</text>
<text transform="translate(45.77,137.75) scale(0.9796,1.0196)" font-size="37.5">150</text>
<text transform="translate(411.82,26.00) scale(0.9802,1.0303)" font-size="37.5">NL1</text>
<text transform="translate(430.86,791.90) scale(1.0400,1.0231)" font-size="37.5" font-style="italic">k</text>
<text transform="translate(450.38,797.40) scale(1.1000,0.8735)" font-size="26.2" font-style="italic">z</text>
</g>
<g id="panel1">
<rect x="820.55" y="45.2" width="642.15" height="654.10" fill="#0b0000"/>
<g clip-path="url(#clip1)">
<defs>
<filter id="hf1" filterUnits="userSpaceOnUse" x="790.5" y="15.2" width="702.1" height="714.1" color-interpolation-filters="sRGB"><feGaussianBlur in="SourceGraphic" stdDeviation="2.2" result="e"/><feTurbulence type="fractalNoise" baseFrequency="0.088 0.145" numOctaves="2" seed="11" result="t"/><feColorMatrix in="t" type="matrix" values="1 0 0 0 0  1 0 0 0 0  1 0 0 0 0  0 0 0 0 1"/><feGaussianBlur stdDeviation="0.8 0.6" result="n0"/><feComponentTransfer in="n0" result="n1"><feFuncR type="linear" slope="1.051" intercept="-0.025"/><feFuncG type="linear" slope="1.051" intercept="-0.025"/><feFuncB type="linear" slope="1.051" intercept="-0.025"/></feComponentTransfer><feComponentTransfer in="n1" result="n"><feFuncR type="table" tableValues="0 0 0 0 0 0 0.05 0.2 0.335 0.45 0.5 0.52 0.54 0.565 0.59 0.615 0.64 0.665 0.69 0.71 0.73"/><feFuncG type="table" tableValues="0 0 0 0 0 0 0.05 0.2 0.335 0.45 0.5 0.52 0.54 0.565 0.59 0.615 0.64 0.665 0.69 0.71 0.73"/><feFuncB type="table" tableValues="0 0 0 0 0 0 0.05 0.2 0.335 0.45 0.5 0.52 0.54 0.565 0.59 0.615 0.64 0.665 0.69 0.71 0.73"/></feComponentTransfer><feComposite in="e" in2="n" operator="arithmetic" k1="0" k2="1.6" k3="2.0" k4="-1.600" result="v"/><feComponentTransfer in="v"><feFuncR type="linear" slope="2.625" intercept="0.0416"/><feFuncG type="linear" slope="2.625" intercept="-0.9583"/><feFuncB type="linear" slope="3.937" intercept="-2.937"/><feFuncA type="linear" slope="0" intercept="1"/></feComponentTransfer><feGaussianBlur stdDeviation="0.7"/></filter>
<linearGradient id="g1_0" gradientUnits="userSpaceOnUse" x1="808.42" x2="1497.21" y1="0" y2="0"><stop offset="0.0000" stop-color="#efefef"/><stop offset="0.0278" stop-color="#dfdfdf"/><stop offset="0.0556" stop-color="#bfbfbf"/><stop offset="0.0833" stop-color="#000000"/><stop offset="0.9500" stop-color="#000000"/></linearGradient>
<linearGradient id="g1_1" gradientUnits="userSpaceOnUse" x1="808.42" x2="1497.21" y1="0" y2="0"><stop offset="0.0000" stop-color="#efefef"/><stop offset="0.0278" stop-color="#dfdfdf"/><stop offset="0.0556" stop-color="#bfbfbf"/><stop offset="0.0833" stop-color="#000000"/><stop offset="0.9500" stop-color="#000000"/></linearGradient>
<linearGradient id="g1_2" gradientUnits="userSpaceOnUse" x1="808.42" x2="1497.21" y1="0" y2="0"><stop offset="0.0000" stop-color="#efefef"/><stop offset="0.0278" stop-color="#dfdfdf"/><stop offset="0.0556" stop-color="#bfbfbf"/><stop offset="0.0833" stop-color="#000000"/><stop offset="0.9500" stop-color="#000000"/></linearGradient>
<linearGradient id="g1_3" gradientUnits="userSpaceOnUse" x1="808.42" x2="1497.21" y1="0" y2="0"><stop offset="0.0000" stop-color="#efefef"/><stop offset="0.0278" stop-color="#dfdfdf"/><stop offset="0.0556" stop-color="#bfbfbf"/><stop offset="0.0833" stop-color="#000000"/><stop offset="0.9500" stop-color="#000000"/></linearGradient>
<linearGradient id="g1_4" gradientUnits="userSpaceOnUse" x1="808.42" x2="1497.21" y1="0" y2="0"><stop offset="0.0000" stop-color="#efefef"/><stop offset="0.0278" stop-color="#dfdfdf"/><stop offset="0.0556" stop-color="#bfbfbf"/><stop offset="0.0833" stop-color="#000000"/><stop offset="0.9500" stop-color="#000000"/></linearGradient>
<linearGradient id="g1_5" gradientUnits="userSpaceOnUse" x1="808.42" x2="1497.21" y1="0" y2="0"><stop offset="0.0000" stop-color="#efefef"/><stop offset="0.0278" stop-color="#dfdfdf"/><stop offset="0.0556" stop-color="#bfbfbf"/><stop offset="0.0833" stop-color="#6c6c6c"/><stop offset="0.1111" stop-color="#000000"/><stop offset="0.9500" stop-color="#000000"/></linearGradient>
<linearGradient id="g1_6" gradientUnits="userSpaceOnUse" x1="808.42" x2="1497.21" y1="0" y2="0"><stop offset="0.0000" stop-color="#efefef"/><stop offset="0.0278" stop-color="#dfdfdf"/><stop offset="0.0556" stop-color="#bfbfbf"/><stop offset="0.0833" stop-color="#acacac"/><stop offset="0.1111" stop-color="#000000"/><stop offset="0.9500" stop-color="#000000"/></linearGradient>
<linearGradient id="g1_7" gradientUnits="userSpaceOnUse" x1="808.42" x2="1497.21" y1="0" y2="0"><stop offset="0.0000" stop-color="#efefef"/><stop offset="0.0278" stop-color="#dfdfdf"/><stop offset="0.0556" stop-color="#bfbfbf"/><stop offset="0.0833" stop-color="#b7b7b7"/><stop offset="0.1111" stop-color="#000000"/><stop offset="0.9500" stop-color="#000000"/></linearGradient>
<linearGradient id="g1_8" gradientUnits="userSpaceOnUse" x1="808.42" x2="1497.21" y1="0" y2="0"><stop offset="0.0000" stop-color="#efefef"/><stop offset="0.0278" stop-color="#dfdfdf"/><stop offset="0.0556" stop-color="#bfbfbf"/><stop offset="0.0833" stop-color="#b7b7b7"/><stop offset="0.1111" stop-color="#000000"/><stop offset="0.9500" stop-color="#000000"/></linearGradient>
<linearGradient id="g1_9" gradientUnits="userSpaceOnUse" x1="808.42" x2="1497.21" y1="0" y2="0"><stop offset="0.0000" stop-color="#efefef"/><stop offset="0.0278" stop-color="#dfdfdf"/><stop offset="0.0556" stop-color="#bfbfbf"/><stop offset="0.0833" stop-color="#b7b7b7"/><stop offset="0.1111" stop-color="#000000"/><stop offset="0.9500" stop-color="#000000"/></linearGradient>
<linearGradient id="g1_10" gradientUnits="userSpaceOnUse" x1="808.42" x2="1497.21" y1="0" y2="0"><stop offset="0.0000" stop-color="#efefef"/><stop offset="0.0278" stop-color="#dfdfdf"/><stop offset="0.0556" stop-color="#bfbfbf"/><stop offset="0.0833" stop-color="#b7b7b7"/><stop offset="0.1111" stop-color="#000000"/><stop offset="0.9500" stop-color="#000000"/></linearGradient>
<linearGradient id="g1_11" gradientUnits="userSpaceOnUse" x1="808.42" x2="1497.21" y1="0" y2="0"><stop offset="0.0000" stop-color="#efefef"/><stop offset="0.0278" stop-color="#dfdfdf"/><stop offset="0.0556" stop-color="#bfbfbf"/><stop offset="0.0833" stop-color="#b7b7b7"/><stop offset="0.1111" stop-color="#000000"/><stop offset="0.9500" stop-color="#000000"/></linearGradient>
<linearGradient id="g1_12" gradientUnits="userSpaceOnUse" x1="808.42" x2="1497.21" y1="0" y2="0"><stop offset="0.0000" stop-color="#efefef"/><stop offset="0.0278" stop-color="#dfdfdf"/><stop offset="0.0556" stop-color="#bfbfbf"/><stop offset="0.0833" stop-color="#b7b7b7"/><stop offset="0.1111" stop-color="#000000"/><stop offset="0.9500" stop-color="#000000"/></linearGradient>
<linearGradient id="g1_13" gradientUnits="userSpaceOnUse" x1="808.42" x2="1497.21" y1="0" y2="0"><stop offset="0.0000" stop-color="#efefef"/><stop offset="0.0278" stop-color="#dfdfdf"/><stop offset="0.0556" stop-color="#bfbfbf"/><stop offset="0.0833" stop-color="#b7b7b7"/><stop offset="0.1111" stop-color="#000000"/><stop offset="0.9500" stop-color="#000000"/></linearGradient>
<linearGradient id="g1_14" gradientUnits="userSpaceOnUse" x1="808.42" x2="1497.21" y1="0" y2="0"><stop offset="0.0000" stop-color="#efefef"/><stop offset="0.0278" stop-color="#dfdfdf"/><stop offset="0.0556" stop-color="#bfbfbf"/><stop offset="0.0833" stop-color="#b7b7b7"/><stop offset="0.1111" stop-color="#171717"/><stop offset="0.1389" stop-color="#000000"/><stop offset="0.9500" stop-color="#000000"/></linearGradient>
<linearGradient id="g1_15" gradientUnits="userSpaceOnUse" x1="808.42" x2="1497.21" y1="0" y2="0"><stop offset="0.0000" stop-color="#efefef"/><stop offset="0.0278" stop-color="#dfdfdf"/><stop offset="0.0556" stop-color="#bfbfbf"/><stop offset="0.0833" stop-color="#b7b7b7"/><stop offset="0.1111" stop-color="#444444"/><stop offset="0.1389" stop-color="#000000"/><stop offset="0.9500" stop-color="#000000"/></linearGradient>
<linearGradient id="g1_16" gradientUnits="userSpaceOnUse" x1="808.42" x2="1497.21" y1="0" y2="0"><stop offset="0.0000" stop-color="#efefef"/><stop offset="0.0278" stop-color="#dfdfdf"/><stop offset="0.0556" stop-color="#bfbfbf"/><stop offset="0.0833" stop-color="#b7b7b7"/><stop offset="0.1111" stop-color="#717171"/><stop offset="0.1389" stop-color="#161616"/><stop offset="0.1667" stop-color="#000000"/><stop offset="0.9500" stop-color="#000000"/></linearGradient>
<linearGradient id="g1_17" gradientUnits="userSpaceOnUse" x1="808.42" x2="1497.21" y1="0" y2="0"><stop offset="0.0000" stop-color="#efefef"/><stop offset="0.0278" stop-color="#dfdfdf"/><stop offset="0.0556" stop-color="#bfbfbf"/><stop offset="0.0833" stop-color="#b7b7b7"/><stop offset="0.1111" stop-color="#878787"/><stop offset="0.1389" stop-color="#414141"/><stop offset="0.1667" stop-color="#000000"/><stop offset="0.9500" stop-color="#000000"/></linearGradient>
<linearGradient id="g1_18" gradientUnits="userSpaceOnUse" x1="808.42" x2="1497.21" y1="0" y2="0"><stop offset="0.0000" stop-color="#efefef"/><stop offset="0.0278" stop-color="#dfdfdf"/><stop offset="0.0556" stop-color="#bfbfbf"/><stop offset="0.0833" stop-color="#b7b7b7"/><stop offset="0.1111" stop-color="#888888"/><stop offset="0.1389" stop-color="#6c6c6c"/><stop offset="0.1667" stop-color="#141414"/><stop offset="0.1944" stop-color="#000000"/><stop offset="0.2222" stop-color="#000000"/><stop offset="0.2778" stop-color="#0f0f0f"/><stop offset="0.3333" stop-color="#0f0f0f"/><stop offset="0.3889" stop-color="#151515"/><stop offset="0.4444" stop-color="#1d1d1d"/><stop offset="0.5000" stop-color="#1d1d1d"/><stop offset="0.5556" stop-color="#1c1c1c"/><stop offset="0.6111" stop-color="#141414"/><stop offset="0.6667" stop-color="#0d0d0d"/><stop offset="0.7222" stop-color="#060606"/><stop offset="0.7778" stop-color="#000000"/><stop offset="0.9500" stop-color="#000000"/></linearGradient>
<linearGradient id="g1_19" gradientUnits="userSpaceOnUse" x1="808.42" x2="1497.21" y1="0" y2="0"><stop offset="0.0000" stop-color="#efefef"/><stop offset="0.0278" stop-color="#dfdfdf"/><stop offset="0.0556" stop-color="#bfbfbf"/><stop offset="0.0833" stop-color="#b7b7b7"/><stop offset="0.1111" stop-color="#888888"/><stop offset="0.1389" stop-color="#818181"/><stop offset="0.1667" stop-color="#3d3d3d"/><stop offset="0.1944" stop-color="#232323"/><stop offset="0.2222" stop-color="#0f0f0f"/><stop offset="0.2778" stop-color="#2c2c2c"/><stop offset="0.3333" stop-color="#2c2c2c"/><stop offset="0.3889" stop-color="#323232"/><stop offset="0.4444" stop-color="#3a3a3a"/><stop offset="0.5000" stop-color="#393939"/><stop offset="0.5556" stop-color="#383838"/><stop offset="0.6111" stop-color="#2f2f2f"/><stop offset="0.6667" stop-color="#262626"/><stop offset="0.7222" stop-color="#1f1f1f"/><stop offset="0.7778" stop-color="#161616"/><stop offset="0.8333" stop-color="#0c0c0c"/><stop offset="0.8889" stop-color="#000000"/><stop offset="0.9500" stop-color="#000000"/></linearGradient>
<linearGradient id="g1_20" gradientUnits="userSpaceOnUse" x1="808.42" x2="1497.21" y1="0" y2="0"><stop offset="0.0000" stop-color="#efefef"/><stop offset="0.0278" stop-color="#dfdfdf"/><stop offset="0.0556" stop-color="#bfbfbf"/><stop offset="0.0833" stop-color="#b7b7b7"/><stop offset="0.1111" stop-color="#999999"/><stop offset="0.1389" stop-color="#818181"/><stop offset="0.1667" stop-color="#666666"/><stop offset="0.1944" stop-color="#464646"/><stop offset="0.2222" stop-color="#2c2c2c"/><stop offset="0.2778" stop-color="#494949"/><stop offset="0.3333" stop-color="#494949"/><stop offset="0.3889" stop-color="#505050"/><stop offset="0.4444" stop-color="#575757"/><stop offset="0.5000" stop-color="#565656"/><stop offset="0.5556" stop-color="#535353"/><stop offset="0.6111" stop-color="#494949"/><stop offset="0.6667" stop-color="#404040"/><stop offset="0.7222" stop-color="#373737"/><stop offset="0.7778" stop-color="#2f2f2f"/><stop offset="0.8333" stop-color="#232323"/><stop offset="0.8889" stop-color="#161616"/><stop offset="0.9500" stop-color="#0b0b0b"/></linearGradient>
<linearGradient id="g1_21" gradientUnits="userSpaceOnUse" x1="808.42" x2="1497.21" y1="0" y2="0"><stop offset="0.0000" stop-color="#efefef"/><stop offset="0.0278" stop-color="#dfdfdf"/><stop offset="0.0556" stop-color="#bfbfbf"/><stop offset="0.0833" stop-color="#b7b7b7"/><stop offset="0.1111" stop-color="#afafaf"/><stop offset="0.1389" stop-color="#818181"/><stop offset="0.1667" stop-color="#7b7b7b"/><stop offset="0.1944" stop-color="#696969"/><stop offset="0.2222" stop-color="#494949"/><stop offset="0.2778" stop-color="#585858"/><stop offset="0.4444" stop-color="#585858"/><stop offset="0.5000" stop-color="#565656"/><stop offset="0.5556" stop-color="#545454"/><stop offset="0.6111" stop-color="#505050"/><stop offset="0.6667" stop-color="#4d4d4d"/><stop offset="0.7222" stop-color="#4b4b4b"/><stop offset="0.7778" stop-color="#474747"/><stop offset="0.8333" stop-color="#3a3a3a"/><stop offset="0.8889" stop-color="#2d2d2d"/><stop offset="0.9500" stop-color="#202020"/></linearGradient>
<linearGradient id="g1_22" gradientUnits="userSpaceOnUse" x1="808.42" x2="1497.21" y1="0" y2="0"><stop offset="0.0000" stop-color="#efefef"/><stop offset="0.0278" stop-color="#dfdfdf"/><stop offset="0.0556" stop-color="#bfbfbf"/><stop offset="0.0833" stop-color="#b7b7b7"/><stop offset="0.1111" stop-color="#afafaf"/><stop offset="0.1389" stop-color="#949494"/><stop offset="0.1667" stop-color="#7b7b7b"/><stop offset="0.1944" stop-color="#696969"/><stop offset="0.2222" stop-color="#585858"/><stop offset="0.3889" stop-color="#585858"/><stop offset="0.4444" stop-color="#595959"/><stop offset="0.5000" stop-color="#575757"/><stop offset="0.5556" stop-color="#545454"/><stop offset="0.6111" stop-color="#505050"/><stop offset="0.6667" stop-color="#4d4d4d"/><stop offset="0.7222" stop-color="#4b4b4b"/><stop offset="0.7778" stop-color="#494949"/><stop offset="0.8333" stop-color="#464646"/><stop offset="0.8889" stop-color="#434343"/><stop offset="0.9500" stop-color="#353535"/></linearGradient>
<linearGradient id="g1_23" gradientUnits="userSpaceOnUse" x1="808.42" x2="1497.21" y1="0" y2="0"><stop offset="0.0000" stop-color="#efefef"/><stop offset="0.0278" stop-color="#dfdfdf"/><stop offset="0.0556" stop-color="#bfbfbf"/><stop offset="0.0833" stop-color="#b7b7b7"/><stop offset="0.1111" stop-color="#afafaf"/><stop offset="0.1389" stop-color="#a9a9a9"/><stop offset="0.1667" stop-color="#7b7b7b"/><stop offset="0.1944" stop-color="#696969"/><stop offset="0.2222" stop-color="#585858"/><stop offset="0.3333" stop-color="#585858"/><stop offset="0.3889" stop-color="#595959"/><stop offset="0.4444" stop-color="#5e5e5e"/><stop offset="0.5000" stop-color="#5b5b5b"/><stop offset="0.5556" stop-color="#575757"/><stop offset="0.6111" stop-color="#515151"/><stop offset="0.6667" stop-color="#4d4d4d"/><stop offset="0.7222" stop-color="#4b4b4b"/><stop offset="0.7778" stop-color="#494949"/><stop offset="0.8333" stop-color="#464646"/><stop offset="0.8889" stop-color="#434343"/><stop offset="0.9500" stop-color="#404040"/></linearGradient>
<linearGradient id="g1_24" gradientUnits="userSpaceOnUse" x1="808.42" x2="1497.21" y1="0" y2="0"><stop offset="0.0000" stop-color="#efefef"/><stop offset="0.0278" stop-color="#dfdfdf"/><stop offset="0.0556" stop-color="#bfbfbf"/><stop offset="0.0833" stop-color="#b7b7b7"/><stop offset="0.1111" stop-color="#afafaf"/><stop offset="0.1389" stop-color="#a9a9a9"/><stop offset="0.1667" stop-color="#a3a3a3"/><stop offset="0.1944" stop-color="#898989"/><stop offset="0.2222" stop-color="#707070"/><stop offset="0.2778" stop-color="#8d8d8d"/><stop offset="0.3333" stop-color="#868686"/><stop offset="0.3889" stop-color="#828282"/><stop offset="0.4444" stop-color="#7f7f7f"/><stop offset="0.5000" stop-color="#7a7a7a"/><stop offset="0.5556" stop-color="#757575"/><stop offset="0.6111" stop-color="#717171"/><stop offset="0.6667" stop-color="#6d6d6d"/><stop offset="0.7222" stop-color="#636363"/><stop offset="0.7778" stop-color="#595959"/><stop offset="0.8333" stop-color="#4d4d4d"/><stop offset="0.8889" stop-color="#434343"/><stop offset="0.9500" stop-color="#404040"/></linearGradient>
<linearGradient id="g1_25" gradientUnits="userSpaceOnUse" x1="808.42" x2="1497.21" y1="0" y2="0"><stop offset="0.0000" stop-color="#efefef"/><stop offset="0.0278" stop-color="#dfdfdf"/><stop offset="0.0556" stop-color="#bfbfbf"/><stop offset="0.0833" stop-color="#b7b7b7"/><stop offset="0.1111" stop-color="#b0b0b0"/><stop offset="0.1389" stop-color="#a9a9a9"/><stop offset="0.1667" stop-color="#a3a3a3"/><stop offset="0.1944" stop-color="#9c9c9c"/><stop offset="0.2222" stop-color="#969696"/><stop offset="0.2778" stop-color="#8d8d8d"/><stop offset="0.3333" stop-color="#878787"/><stop offset="0.3889" stop-color="#838383"/><stop offset="0.4444" stop-color="#808080"/><stop offset="0.5000" stop-color="#7b7b7b"/><stop offset="0.5556" stop-color="#767676"/><stop offset="0.6111" stop-color="#727272"/><stop offset="0.6667" stop-color="#6d6d6d"/><stop offset="0.7222" stop-color="#6b6b6b"/><stop offset="0.7778" stop-color="#696969"/><stop offset="0.8333" stop-color="#666666"/><stop offset="0.8889" stop-color="#636363"/><stop offset="0.9500" stop-color="#606060"/></linearGradient>
<linearGradient id="g1_26" gradientUnits="userSpaceOnUse" x1="808.42" x2="1497.21" y1="0" y2="0"><stop offset="0.0000" stop-color="#efefef"/><stop offset="0.0278" stop-color="#dfdfdf"/><stop offset="0.0556" stop-color="#bfbfbf"/><stop offset="0.0833" stop-color="#b8b8b8"/><stop offset="0.1111" stop-color="#b0b0b0"/><stop offset="0.1389" stop-color="#a9a9a9"/><stop offset="0.1667" stop-color="#a3a3a3"/><stop offset="0.1944" stop-color="#9c9c9c"/><stop offset="0.2222" stop-color="#969696"/><stop offset="0.2778" stop-color="#8d8d8d"/><stop offset="0.3333" stop-color="#878787"/><stop offset="0.3889" stop-color="#848484"/><stop offset="0.4444" stop-color="#818181"/><stop offset="0.5000" stop-color="#7d7d7d"/><stop offset="0.5556" stop-color="#777777"/><stop offset="0.6111" stop-color="#737373"/><stop offset="0.6667" stop-color="#6e6e6e"/><stop offset="0.7222" stop-color="#6b6b6b"/><stop offset="0.7778" stop-color="#696969"/><stop offset="0.8333" stop-color="#666666"/><stop offset="0.8889" stop-color="#636363"/><stop offset="0.9500" stop-color="#606060"/></linearGradient>
<linearGradient id="g1_27" gradientUnits="userSpaceOnUse" x1="808.42" x2="1497.21" y1="0" y2="0"><stop offset="0.0000" stop-color="#efefef"/><stop offset="0.0278" stop-color="#dfdfdf"/><stop offset="0.0556" stop-color="#c0c0c0"/><stop offset="0.0833" stop-color="#b8b8b8"/><stop offset="0.1111" stop-color="#b0b0b0"/><stop offset="0.1389" stop-color="#a9a9a9"/><stop offset="0.1667" stop-color="#a3a3a3"/><stop offset="0.1944" stop-color="#9c9c9c"/><stop offset="0.2222" stop-color="#969696"/><stop offset="0.2778" stop-color="#8d8d8d"/><stop offset="0.3333" stop-color="#888888"/><stop offset="0.3889" stop-color="#858585"/><stop offset="0.4444" stop-color="#838383"/><stop offset="0.5000" stop-color="#7f7f7f"/><stop offset="0.5556" stop-color="#797979"/><stop offset="0.6111" stop-color="#747474"/><stop offset="0.6667" stop-color="#6f6f6f"/><stop offset="0.7222" stop-color="#6c6c6c"/><stop offset="0.7778" stop-color="#696969"/><stop offset="0.8333" stop-color="#666666"/><stop offset="0.8889" stop-color="#636363"/><stop offset="0.9500" stop-color="#606060"/></linearGradient>
<linearGradient id="g1_28" gradientUnits="userSpaceOnUse" x1="808.42" x2="1497.21" y1="0" y2="0"><stop offset="0.0000" stop-color="#efefef"/><stop offset="0.0278" stop-color="#dfdfdf"/><stop offset="0.0556" stop-color="#c0c0c0"/><stop offset="0.0833" stop-color="#b8b8b8"/><stop offset="0.1111" stop-color="#b0b0b0"/><stop offset="0.1389" stop-color="#aaaaaa"/><stop offset="0.1667" stop-color="#a3a3a3"/><stop offset="0.1944" stop-color="#9d9d9d"/><stop offset="0.2222" stop-color="#969696"/><stop offset="0.2778" stop-color="#8d8d8d"/><stop offset="0.3333" stop-color="#888888"/><stop offset="0.3889" stop-color="#868686"/><stop offset="0.4444" stop-color="#848484"/><stop offset="0.5000" stop-color="#808080"/><stop offset="0.5556" stop-color="#7a7a7a"/><stop offset="0.6111" stop-color="#757575"/><stop offset="0.6667" stop-color="#6f6f6f"/><stop offset="0.7222" stop-color="#6c6c6c"/><stop offset="0.7778" stop-color="#696969"/><stop offset="0.8333" stop-color="#666666"/><stop offset="0.8889" stop-color="#636363"/><stop offset="0.9500" stop-color="#606060"/></linearGradient>
<linearGradient id="g1_29" gradientUnits="userSpaceOnUse" x1="808.42" x2="1497.21" y1="0" y2="0"><stop offset="0.0000" stop-color="#efefef"/><stop offset="0.0278" stop-color="#e0e0e0"/><stop offset="0.0556" stop-color="#c0c0c0"/><stop offset="0.0833" stop-color="#b8b8b8"/><stop offset="0.1111" stop-color="#b0b0b0"/><stop offset="0.1389" stop-color="#aaaaaa"/><stop offset="0.1667" stop-color="#a3a3a3"/><stop offset="0.1944" stop-color="#9d9d9d"/><stop offset="0.2222" stop-color="#969696"/><stop offset="0.2778" stop-color="#8e8e8e"/><stop offset="0.3333" stop-color="#898989"/><stop offset="0.3889" stop-color="#878787"/><stop offset="0.4444" stop-color="#868686"/><stop offset="0.5000" stop-color="#828282"/><stop offset="0.5556" stop-color="#7c7c7c"/><stop offset="0.6111" stop-color="#767676"/><stop offset="0.6667" stop-color="#707070"/><stop offset="0.7222" stop-color="#6c6c6c"/><stop offset="0.7778" stop-color="#696969"/><stop offset="0.8333" stop-color="#666666"/><stop offset="0.8889" stop-color="#636363"/><stop offset="0.9500" stop-color="#606060"/></linearGradient>
<linearGradient id="g1_30" gradientUnits="userSpaceOnUse" x1="808.42" x2="1497.21" y1="0" y2="0"><stop offset="0.0000" stop-color="#efefef"/><stop offset="0.0278" stop-color="#e0e0e0"/><stop offset="0.0556" stop-color="#c0c0c0"/><stop offset="0.0833" stop-color="#b9b9b9"/><stop offset="0.1111" stop-color="#b1b1b1"/><stop offset="0.1389" stop-color="#aaaaaa"/><stop offset="0.1667" stop-color="#a3a3a3"/><stop offset="0.1944" stop-color="#9d9d9d"/><stop offset="0.2222" stop-color="#969696"/><stop offset="0.2778" stop-color="#8e8e8e"/><stop offset="0.3333" stop-color="#898989"/><stop offset="0.3889" stop-color="#888888"/><stop offset="0.4444" stop-color="#878787"/><stop offset="0.5000" stop-color="#848484"/><stop offset="0.5556" stop-color="#7d7d7d"/><stop offset="0.6111" stop-color="#777777"/><stop offset="0.6667" stop-color="#707070"/><stop offset="0.7222" stop-color="#6c6c6c"/><stop offset="0.7778" stop-color="#696969"/><stop offset="0.8333" stop-color="#666666"/><stop offset="0.8889" stop-color="#636363"/><stop offset="0.9500" stop-color="#606060"/></linearGradient>
<linearGradient id="g1_31" gradientUnits="userSpaceOnUse" x1="808.42" x2="1497.21" y1="0" y2="0"><stop offset="0.0000" stop-color="#efefef"/><stop offset="0.0278" stop-color="#e0e0e0"/><stop offset="0.0556" stop-color="#c1c1c1"/><stop offset="0.0833" stop-color="#b9b9b9"/><stop offset="0.1111" stop-color="#b1b1b1"/><stop offset="0.1389" stop-color="#aaaaaa"/><stop offset="0.1667" stop-color="#a4a4a4"/><stop offset="0.1944" stop-color="#9d9d9d"/><stop offset="0.2222" stop-color="#979797"/><stop offset="0.2778" stop-color="#8e8e8e"/><stop offset="0.3333" stop-color="#8a8a8a"/><stop offset="0.3889" stop-color="#898989"/><stop offset="0.4444" stop-color="#888888"/><stop offset="0.5000" stop-color="#848484"/><stop offset="0.5556" stop-color="#7e7e7e"/><stop offset="0.6111" stop-color="#777777"/><stop offset="0.6667" stop-color="#707070"/><stop offset="0.7222" stop-color="#6c6c6c"/><stop offset="0.7778" stop-color="#696969"/><stop offset="0.8333" stop-color="#666666"/><stop offset="0.8889" stop-color="#636363"/><stop offset="0.9500" stop-color="#606060"/></linearGradient>
<linearGradient id="g1_32" gradientUnits="userSpaceOnUse" x1="808.42" x2="1497.21" y1="0" y2="0"><stop offset="0.0000" stop-color="#f0f0f0"/><stop offset="0.0278" stop-color="#e0e0e0"/><stop offset="0.0556" stop-color="#c1c1c1"/><stop offset="0.0833" stop-color="#bababa"/><stop offset="0.1111" stop-color="#b2b2b2"/><stop offset="0.1389" stop-color="#ababab"/><stop offset="0.1667" stop-color="#a4a4a4"/><stop offset="0.1944" stop-color="#9d9d9d"/><stop offset="0.2222" stop-color="#979797"/><stop offset="0.2778" stop-color="#8e8e8e"/><stop offset="0.3333" stop-color="#8a8a8a"/><stop offset="0.3889" stop-color="#898989"/><stop offset="0.4444" stop-color="#888888"/><stop offset="0.5000" stop-color="#848484"/><stop offset="0.5556" stop-color="#7e7e7e"/><stop offset="0.6111" stop-color="#777777"/><stop offset="0.6667" stop-color="#707070"/><stop offset="0.7222" stop-color="#6c6c6c"/><stop offset="0.7778" stop-color="#696969"/><stop offset="0.8333" stop-color="#666666"/><stop offset="0.8889" stop-color="#636363"/><stop offset="0.9500" stop-color="#606060"/></linearGradient>
<linearGradient id="g1_33" gradientUnits="userSpaceOnUse" x1="808.42" x2="1497.21" y1="0" y2="0"><stop offset="0.0000" stop-color="#f0f0f0"/><stop offset="0.0278" stop-color="#e1e1e1"/><stop offset="0.0556" stop-color="#c2c2c2"/><stop offset="0.0833" stop-color="#bababa"/><stop offset="0.1111" stop-color="#b3b3b3"/><stop offset="0.1389" stop-color="#acacac"/><stop offset="0.1667" stop-color="#a4a4a4"/><stop offset="0.1944" stop-color="#9d9d9d"/><stop offset="0.2222" stop-color="#979797"/><stop offset="0.2778" stop-color="#8e8e8e"/><stop offset="0.3333" stop-color="#898989"/><stop offset="0.3889" stop-color="#888888"/><stop offset="0.4444" stop-color="#878787"/><stop offset="0.5000" stop-color="#848484"/><stop offset="0.5556" stop-color="#7d7d7d"/><stop offset="0.6111" stop-color="#777777"/><stop offset="0.6667" stop-color="#707070"/><stop offset="0.7222" stop-color="#6c6c6c"/><stop offset="0.7778" stop-color="#696969"/><stop offset="0.8333" stop-color="#666666"/><stop offset="0.8889" stop-color="#636363"/><stop offset="0.9500" stop-color="#606060"/></linearGradient>
<linearGradient id="g1_34" gradientUnits="userSpaceOnUse" x1="808.42" x2="1497.21" y1="0" y2="0"><stop offset="0.0000" stop-color="#f0f0f0"/><stop offset="0.0278" stop-color="#e1e1e1"/><stop offset="0.0556" stop-color="#c2c2c2"/><stop offset="0.0833" stop-color="#bbbbbb"/><stop offset="0.1111" stop-color="#b3b3b3"/><stop offset="0.1389" stop-color="#acacac"/><stop offset="0.1667" stop-color="#a5a5a5"/><stop offset="0.1944" stop-color="#9d9d9d"/><stop offset="0.2222" stop-color="#979797"/><stop offset="0.2778" stop-color="#8e8e8e"/><stop offset="0.3333" stop-color="#898989"/><stop offset="0.3889" stop-color="#878787"/><stop offset="0.4444" stop-color="#868686"/><stop offset="0.5000" stop-color="#828282"/><stop offset="0.5556" stop-color="#7c7c7c"/><stop offset="0.6111" stop-color="#767676"/><stop offset="0.6667" stop-color="#707070"/><stop offset="0.7222" stop-color="#6c6c6c"/><stop offset="0.7778" stop-color="#696969"/><stop offset="0.8333" stop-color="#666666"/><stop offset="0.8889" stop-color="#636363"/><stop offset="0.9500" stop-color="#606060"/></linearGradient>
<linearGradient id="g1_35" gradientUnits="userSpaceOnUse" x1="808.42" x2="1497.21" y1="0" y2="0"><stop offset="0.0000" stop-color="#f0f0f0"/><stop offset="0.0278" stop-color="#e1e1e1"/><stop offset="0.0556" stop-color="#c3c3c3"/><stop offset="0.0833" stop-color="#bcbcbc"/><stop offset="0.1111" stop-color="#b5b5b5"/><stop offset="0.1389" stop-color="#adadad"/><stop offset="0.1667" stop-color="#a5a5a5"/><stop offset="0.1944" stop-color="#9e9e9e"/><stop offset="0.2222" stop-color="#979797"/><stop offset="0.2778" stop-color="#8d8d8d"/><stop offset="0.3333" stop-color="#888888"/><stop offset="0.3889" stop-color="#868686"/><stop offset="0.4444" stop-color="#848484"/><stop offset="0.5000" stop-color="#808080"/><stop offset="0.5556" stop-color="#7a7a7a"/><stop offset="0.6111" stop-color="#757575"/><stop offset="0.6667" stop-color="#6f6f6f"/><stop offset="0.7222" stop-color="#6c6c6c"/><stop offset="0.7778" stop-color="#696969"/><stop offset="0.8333" stop-color="#666666"/><stop offset="0.8889" stop-color="#636363"/><stop offset="0.9500" stop-color="#606060"/></linearGradient>
<linearGradient id="g1_36" gradientUnits="userSpaceOnUse" x1="808.42" x2="1497.21" y1="0" y2="0"><stop offset="0.0000" stop-color="#f0f0f0"/><stop offset="0.0278" stop-color="#e2e2e2"/><stop offset="0.0556" stop-color="#c4c4c4"/><stop offset="0.0833" stop-color="#bebebe"/><stop offset="0.1111" stop-color="#b6b6b6"/><stop offset="0.1389" stop-color="#aeaeae"/><stop offset="0.1667" stop-color="#a6a6a6"/><stop offset="0.1944" stop-color="#9e9e9e"/><stop offset="0.2222" stop-color="#979797"/><stop offset="0.2778" stop-color="#8d8d8d"/><stop offset="0.3333" stop-color="#888888"/><stop offset="0.3889" stop-color="#858585"/><stop offset="0.4444" stop-color="#838383"/><stop offset="0.5000" stop-color="#7f7f7f"/><stop offset="0.5556" stop-color="#797979"/><stop offset="0.6111" stop-color="#747474"/><stop offset="0.6667" stop-color="#6f6f6f"/><stop offset="0.7222" stop-color="#6c6c6c"/><stop offset="0.7778" stop-color="#696969"/><stop offset="0.8333" stop-color="#666666"/><stop offset="0.8889" stop-color="#636363"/><stop offset="0.9500" stop-color="#606060"/></linearGradient>
<linearGradient id="g1_37" gradientUnits="userSpaceOnUse" x1="808.42" x2="1497.21" y1="0" y2="0"><stop offset="0.0000" stop-color="#f1f1f1"/><stop offset="0.0278" stop-color="#e3e3e3"/><stop offset="0.0556" stop-color="#c5c5c5"/><stop offset="0.0833" stop-color="#bfbfbf"/><stop offset="0.1111" stop-color="#b7b7b7"/><stop offset="0.1389" stop-color="#afafaf"/><stop offset="0.1667" stop-color="#a7a7a7"/><stop offset="0.1944" stop-color="#9e9e9e"/><stop offset="0.2222" stop-color="#979797"/><stop offset="0.2778" stop-color="#8d8d8d"/><stop offset="0.3333" stop-color="#878787"/><stop offset="0.3889" stop-color="#848484"/><stop offset="0.4444" stop-color="#818181"/><stop offset="0.5000" stop-color="#7d7d7d"/><stop offset="0.5556" stop-color="#777777"/><stop offset="0.6111" stop-color="#737373"/><stop offset="0.6667" stop-color="#6e6e6e"/><stop offset="0.7222" stop-color="#6b6b6b"/><stop offset="0.7778" stop-color="#696969"/><stop offset="0.8333" stop-color="#666666"/><stop offset="0.8889" stop-color="#636363"/><stop offset="0.9500" stop-color="#606060"/></linearGradient>
<linearGradient id="g1_38" gradientUnits="userSpaceOnUse" x1="808.42" x2="1497.21" y1="0" y2="0"><stop offset="0.0000" stop-color="#f1f1f1"/><stop offset="0.0278" stop-color="#e3e3e3"/><stop offset="0.0556" stop-color="#c6c6c6"/><stop offset="0.0833" stop-color="#c1c1c1"/><stop offset="0.1111" stop-color="#b9b9b9"/><stop offset="0.1389" stop-color="#b1b1b1"/><stop offset="0.1667" stop-color="#a7a7a7"/><stop offset="0.1944" stop-color="#9f9f9f"/><stop offset="0.2222" stop-color="#979797"/><stop offset="0.2778" stop-color="#8d8d8d"/><stop offset="0.3333" stop-color="#878787"/><stop offset="0.3889" stop-color="#838383"/><stop offset="0.4444" stop-color="#808080"/><stop offset="0.5000" stop-color="#7b7b7b"/><stop offset="0.5556" stop-color="#767676"/><stop offset="0.6111" stop-color="#727272"/><stop offset="0.6667" stop-color="#6d6d6d"/><stop offset="0.7222" stop-color="#6b6b6b"/><stop offset="0.7778" stop-color="#696969"/><stop offset="0.8333" stop-color="#666666"/><stop offset="0.8889" stop-color="#565656"/><stop offset="0.9500" stop-color="#484848"/></linearGradient>
<linearGradient id="g1_39" gradientUnits="userSpaceOnUse" x1="808.42" x2="1497.21" y1="0" y2="0"><stop offset="0.0000" stop-color="#f1f1f1"/><stop offset="0.0278" stop-color="#e4e4e4"/><stop offset="0.0556" stop-color="#c8c8c8"/><stop offset="0.0833" stop-color="#c2c2c2"/><stop offset="0.1111" stop-color="#bbbbbb"/><stop offset="0.1389" stop-color="#b2b2b2"/><stop offset="0.1667" stop-color="#a8a8a8"/><stop offset="0.1944" stop-color="#9f9f9f"/><stop offset="0.2222" stop-color="#979797"/><stop offset="0.2778" stop-color="#8d8d8d"/><stop offset="0.3333" stop-color="#868686"/><stop offset="0.3889" stop-color="#828282"/><stop offset="0.4444" stop-color="#7f7f7f"/><stop offset="0.5000" stop-color="#7a7a7a"/><stop offset="0.5556" stop-color="#757575"/><stop offset="0.6111" stop-color="#717171"/><stop offset="0.6667" stop-color="#6d6d6d"/><stop offset="0.7222" stop-color="#696969"/><stop offset="0.7778" stop-color="#595959"/><stop offset="0.8333" stop-color="#4d4d4d"/><stop offset="0.8889" stop-color="#434343"/><stop offset="0.9500" stop-color="#404040"/></linearGradient>
<linearGradient id="g1_40" gradientUnits="userSpaceOnUse" x1="808.42" x2="1497.21" y1="0" y2="0"><stop offset="0.0000" stop-color="#f2f2f2"/><stop offset="0.0278" stop-color="#e5e5e5"/><stop offset="0.0556" stop-color="#c9c9c9"/><stop offset="0.0833" stop-color="#c4c4c4"/><stop offset="0.1111" stop-color="#bdbdbd"/><stop offset="0.1389" stop-color="#b4b4b4"/><stop offset="0.1667" stop-color="#a9a9a9"/><stop offset="0.1944" stop-color="#9f9f9f"/><stop offset="0.2222" stop-color="#979797"/><stop offset="0.2778" stop-color="#8d8d8d"/><stop offset="0.3333" stop-color="#868686"/><stop offset="0.3889" stop-color="#828282"/><stop offset="0.4444" stop-color="#7e7e7e"/><stop offset="0.5000" stop-color="#797979"/><stop offset="0.5556" stop-color="#747474"/><stop offset="0.6111" stop-color="#707070"/><stop offset="0.6667" stop-color="#5f5f5f"/><stop offset="0.7222" stop-color="#4f4f4f"/><stop offset="0.7778" stop-color="#494949"/><stop offset="0.8333" stop-color="#464646"/><stop offset="0.8889" stop-color="#434343"/><stop offset="0.9500" stop-color="#404040"/></linearGradient>
<linearGradient id="g1_41" gradientUnits="userSpaceOnUse" x1="808.42" x2="1497.21" y1="0" y2="0"><stop offset="0.0000" stop-color="#f2f2f2"/><stop offset="0.0278" stop-color="#e6e6e6"/><stop offset="0.0556" stop-color="#cacaca"/><stop offset="0.0833" stop-color="#c6c6c6"/><stop offset="0.1111" stop-color="#bebebe"/><stop offset="0.1389" stop-color="#b5b5b5"/><stop offset="0.1667" stop-color="#aaaaaa"/><stop offset="0.1944" stop-color="#a0a0a0"/><stop offset="0.2222" stop-color="#979797"/><stop offset="0.2778" stop-color="#8c8c8c"/><stop offset="0.3333" stop-color="#868686"/><stop offset="0.3889" stop-color="#818181"/><stop offset="0.4444" stop-color="#7d7d7d"/><stop offset="0.5000" stop-color="#797979"/><stop offset="0.5556" stop-color="#656565"/><stop offset="0.6111" stop-color="#545454"/><stop offset="0.6667" stop-color="#4d4d4d"/><stop offset="0.7222" stop-color="#4b4b4b"/><stop offset="0.7778" stop-color="#494949"/><stop offset="0.8333" stop-color="#464646"/><stop offset="0.8889" stop-color="#434343"/><stop offset="0.9500" stop-color="#404040"/></linearGradient>
<linearGradient id="g1_42" gradientUnits="userSpaceOnUse" x1="808.42" x2="1497.21" y1="0" y2="0"><stop offset="0.0000" stop-color="#f2f2f2"/><stop offset="0.0278" stop-color="#e7e7e7"/><stop offset="0.0556" stop-color="#cccccc"/><stop offset="0.0833" stop-color="#c8c8c8"/><stop offset="0.1111" stop-color="#c0c0c0"/><stop offset="0.1389" stop-color="#b7b7b7"/><stop offset="0.1667" stop-color="#ababab"/><stop offset="0.1944" stop-color="#a0a0a0"/><stop offset="0.2222" stop-color="#979797"/><stop offset="0.2778" stop-color="#8c8c8c"/><stop offset="0.3333" stop-color="#868686"/><stop offset="0.3889" stop-color="#818181"/><stop offset="0.4444" stop-color="#7d7d7d"/><stop offset="0.5000" stop-color="#787878"/><stop offset="0.5556" stop-color="#535353"/><stop offset="0.6111" stop-color="#505050"/><stop offset="0.6667" stop-color="#4d4d4d"/><stop offset="0.7222" stop-color="#4b4b4b"/><stop offset="0.7778" stop-color="#494949"/><stop offset="0.8333" stop-color="#464646"/><stop offset="0.8889" stop-color="#383838"/><stop offset="0.9500" stop-color="#2b2b2b"/></linearGradient>
<linearGradient id="g1_43" gradientUnits="userSpaceOnUse" x1="808.42" x2="1497.21" y1="0" y2="0"><stop offset="0.0000" stop-color="#f3f3f3"/><stop offset="0.0278" stop-color="#e7e7e7"/><stop offset="0.0556" stop-color="#cdcdcd"/><stop offset="0.0833" stop-color="#cacaca"/><stop offset="0.1111" stop-color="#c2c2c2"/><stop offset="0.1389" stop-color="#b8b8b8"/><stop offset="0.1667" stop-color="#acacac"/><stop offset="0.1944" stop-color="#a1a1a1"/><stop offset="0.2222" stop-color="#989898"/><stop offset="0.2778" stop-color="#8c8c8c"/><stop offset="0.3333" stop-color="#868686"/><stop offset="0.3889" stop-color="#818181"/><stop offset="0.4444" stop-color="#7d7d7d"/><stop offset="0.5000" stop-color="#5c5c5c"/><stop offset="0.5556" stop-color="#535353"/><stop offset="0.6111" stop-color="#505050"/><stop offset="0.6667" stop-color="#4d4d4d"/><stop offset="0.7222" stop-color="#494949"/><stop offset="0.7778" stop-color="#3b3b3b"/><stop offset="0.8333" stop-color="#2f2f2f"/><stop offset="0.8889" stop-color="#212121"/><stop offset="0.9500" stop-color="#151515"/></linearGradient>
<linearGradient id="g1_44" gradientUnits="userSpaceOnUse" x1="808.42" x2="1497.21" y1="0" y2="0"><stop offset="0.0000" stop-color="#f3f3f3"/><stop offset="0.0278" stop-color="#e8e8e8"/><stop offset="0.0556" stop-color="#cecece"/><stop offset="0.0833" stop-color="#cbcbcb"/><stop offset="0.1111" stop-color="#c4c4c4"/><stop offset="0.1389" stop-color="#b9b9b9"/><stop offset="0.1667" stop-color="#adadad"/><stop offset="0.1944" stop-color="#a1a1a1"/><stop offset="0.2222" stop-color="#989898"/><stop offset="0.2778" stop-color="#8c8c8c"/><stop offset="0.3333" stop-color="#868686"/><stop offset="0.3889" stop-color="#818181"/><stop offset="0.4444" stop-color="#717171"/><stop offset="0.5000" stop-color="#555555"/><stop offset="0.5556" stop-color="#535353"/><stop offset="0.6111" stop-color="#575757"/><stop offset="0.6667" stop-color="#5d5d5d"/><stop offset="0.8333" stop-color="#5d5d5d"/><stop offset="0.8889" stop-color="#0b0b0b"/><stop offset="0.9500" stop-color="#000000"/></linearGradient>
<linearGradient id="g1_45" gradientUnits="userSpaceOnUse" x1="808.42" x2="1497.21" y1="0" y2="0"><stop offset="0.0000" stop-color="#f3f3f3"/><stop offset="0.0278" stop-color="#e9e9e9"/><stop offset="0.0556" stop-color="#cfcfcf"/><stop offset="0.0833" stop-color="#cccccc"/><stop offset="0.1111" stop-color="#c5c5c5"/><stop offset="0.1389" stop-color="#bababa"/><stop offset="0.1667" stop-color="#adadad"/><stop offset="0.1944" stop-color="#a1a1a1"/><stop offset="0.2222" stop-color="#989898"/><stop offset="0.2778" stop-color="#8c8c8c"/><stop offset="0.3333" stop-color="#868686"/><stop offset="0.3889" stop-color="#767676"/><stop offset="0.4444" stop-color="#585858"/><stop offset="0.5000" stop-color="#555555"/><stop offset="0.5556" stop-color="#454545"/><stop offset="0.6111" stop-color="#696969"/><stop offset="0.6667" stop-color="#707070"/><stop offset="0.8333" stop-color="#707070"/><stop offset="0.8889" stop-color="#000000"/><stop offset="0.9500" stop-color="#000000"/></linearGradient>
<linearGradient id="g1_46" gradientUnits="userSpaceOnUse" x1="808.42" x2="1497.21" y1="0" y2="0"><stop offset="0.0000" stop-color="#f4f4f4"/><stop offset="0.0278" stop-color="#e9e9e9"/><stop offset="0.0556" stop-color="#d0d0d0"/><stop offset="0.0833" stop-color="#cdcdcd"/><stop offset="0.1111" stop-color="#c6c6c6"/><stop offset="0.1389" stop-color="#bbbbbb"/><stop offset="0.1667" stop-color="#aeaeae"/><stop offset="0.1944" stop-color="#a2a2a2"/><stop offset="0.2222" stop-color="#989898"/><stop offset="0.2778" stop-color="#8c8c8c"/><stop offset="0.3333" stop-color="#868686"/><stop offset="0.3889" stop-color="#585858"/><stop offset="0.4444" stop-color="#585858"/><stop offset="0.5000" stop-color="#555555"/><stop offset="0.5556" stop-color="#292929"/><stop offset="0.6111" stop-color="#545454"/><stop offset="0.6667" stop-color="#595959"/><stop offset="0.8333" stop-color="#595959"/><stop offset="0.8889" stop-color="#000000"/><stop offset="0.9500" stop-color="#000000"/></linearGradient>
<linearGradient id="g1_47" gradientUnits="userSpaceOnUse" x1="808.42" x2="1497.21" y1="0" y2="0"><stop offset="0.0000" stop-color="#f4f4f4"/><stop offset="0.0278" stop-color="#e9e9e9"/><stop offset="0.0556" stop-color="#d0d0d0"/><stop offset="0.0833" stop-color="#cecece"/><stop offset="0.1111" stop-color="#c7c7c7"/><stop offset="0.1389" stop-color="#bbbbbb"/><stop offset="0.1667" stop-color="#aeaeae"/><stop offset="0.1944" stop-color="#a2a2a2"/><stop offset="0.2222" stop-color="#989898"/><stop offset="0.2778" stop-color="#8c8c8c"/><stop offset="0.3333" stop-color="#646464"/><stop offset="0.3889" stop-color="#585858"/><stop offset="0.4444" stop-color="#585858"/><stop offset="0.5000" stop-color="#3b3b3b"/><stop offset="0.5556" stop-color="#0e0e0e"/><stop offset="0.6111" stop-color="#000000"/><stop offset="0.9500" stop-color="#000000"/></linearGradient>
<linearGradient id="g1_48" gradientUnits="userSpaceOnUse" x1="808.42" x2="1497.21" y1="0" y2="0"><stop offset="0.0000" stop-color="#f4f4f4"/><stop offset="0.0278" stop-color="#e9e9e9"/><stop offset="0.0556" stop-color="#d1d1d1"/><stop offset="0.0833" stop-color="#cecece"/><stop offset="0.1111" stop-color="#c7c7c7"/><stop offset="0.1389" stop-color="#bcbcbc"/><stop offset="0.1667" stop-color="#aeaeae"/><stop offset="0.1944" stop-color="#a2a2a2"/><stop offset="0.2222" stop-color="#989898"/><stop offset="0.2778" stop-color="#8c8c8c"/><stop offset="0.3333" stop-color="#585858"/><stop offset="0.3889" stop-color="#585858"/><stop offset="0.4444" stop-color="#4c4c4c"/><stop offset="0.5000" stop-color="#1f1f1f"/><stop offset="0.5556" stop-color="#000000"/><stop offset="0.9500" stop-color="#000000"/></linearGradient>
<linearGradient id="g1_49" gradientUnits="userSpaceOnUse" x1="808.42" x2="1497.21" y1="0" y2="0"><stop offset="0.0000" stop-color="#f4f4f4"/><stop offset="0.0278" stop-color="#e9e9e9"/><stop offset="0.0556" stop-color="#d0d0d0"/><stop offset="0.0833" stop-color="#cecece"/><stop offset="0.1111" stop-color="#c7c7c7"/><stop offset="0.1389" stop-color="#bbbbbb"/><stop offset="0.1667" stop-color="#aeaeae"/><stop offset="0.1944" stop-color="#a2a2a2"/><stop offset="0.2222" stop-color="#989898"/><stop offset="0.2778" stop-color="#7b7b7b"/><stop offset="0.3333" stop-color="#585858"/><stop offset="0.3889" stop-color="#4e4e4e"/><stop offset="0.4444" stop-color="#2f2f2f"/><stop offset="0.5000" stop-color="#020202"/><stop offset="0.5556" stop-color="#000000"/><stop offset="0.9500" stop-color="#000000"/></linearGradient>
<linearGradient id="g1_50" gradientUnits="userSpaceOnUse" x1="808.42" x2="1497.21" y1="0" y2="0"><stop offset="0.0000" stop-color="#f4f4f4"/><stop offset="0.0278" stop-color="#e9e9e9"/><stop offset="0.0556" stop-color="#d0d0d0"/><stop offset="0.0833" stop-color="#cdcdcd"/><stop offset="0.1111" stop-color="#c6c6c6"/><stop offset="0.1389" stop-color="#bbbbbb"/><stop offset="0.1667" stop-color="#aeaeae"/><stop offset="0.1944" stop-color="#a2a2a2"/><stop offset="0.2222" stop-color="#989898"/><stop offset="0.2778" stop-color="#585858"/><stop offset="0.3333" stop-color="#585858"/><stop offset="0.3889" stop-color="#303030"/><stop offset="0.4444" stop-color="#121212"/><stop offset="0.5000" stop-color="#000000"/><stop offset="0.9500" stop-color="#000000"/></linearGradient>
<linearGradient id="g1_51" gradientUnits="userSpaceOnUse" x1="808.42" x2="1497.21" y1="0" y2="0"><stop offset="0.0000" stop-color="#f3f3f3"/><stop offset="0.0278" stop-color="#e9e9e9"/><stop offset="0.0556" stop-color="#cfcfcf"/><stop offset="0.0833" stop-color="#cccccc"/><stop offset="0.1111" stop-color="#c5c5c5"/><stop offset="0.1389" stop-color="#bababa"/><stop offset="0.1667" stop-color="#adadad"/><stop offset="0.1944" stop-color="#a1a1a1"/><stop offset="0.2222" stop-color="#989898"/><stop offset="0.2778" stop-color="#585858"/><stop offset="0.3333" stop-color="#3a3a3a"/><stop offset="0.3889" stop-color="#131313"/><stop offset="0.4444" stop-color="#000000"/><stop offset="0.9500" stop-color="#000000"/></linearGradient>
<linearGradient id="g1_52" gradientUnits="userSpaceOnUse" x1="808.42" x2="1497.21" y1="0" y2="0"><stop offset="0.0000" stop-color="#f3f3f3"/><stop offset="0.0278" stop-color="#e8e8e8"/><stop offset="0.0556" stop-color="#cecece"/><stop offset="0.0833" stop-color="#cbcbcb"/><stop offset="0.1111" stop-color="#c4c4c4"/><stop offset="0.1389" stop-color="#b9b9b9"/><stop offset="0.1667" stop-color="#adadad"/><stop offset="0.1944" stop-color="#a1a1a1"/><stop offset="0.2222" stop-color="#989898"/><stop offset="0.2778" stop-color="#585858"/><stop offset="0.3333" stop-color="#1d1d1d"/><stop offset="0.3889" stop-color="#000000"/><stop offset="0.9500" stop-color="#000000"/></linearGradient>
<linearGradient id="g1_53" gradientUnits="userSpaceOnUse" x1="808.42" x2="1497.21" y1="0" y2="0"><stop offset="0.0000" stop-color="#f3f3f3"/><stop offset="0.0278" stop-color="#e7e7e7"/><stop offset="0.0556" stop-color="#cdcdcd"/><stop offset="0.0833" stop-color="#cacaca"/><stop offset="0.1111" stop-color="#c2c2c2"/><stop offset="0.1389" stop-color="#b8b8b8"/><stop offset="0.1667" stop-color="#acacac"/><stop offset="0.1944" stop-color="#a1a1a1"/><stop offset="0.2222" stop-color="#989898"/><stop offset="0.2778" stop-color="#494949"/><stop offset="0.3333" stop-color="#000000"/><stop offset="0.9500" stop-color="#000000"/></linearGradient>
<linearGradient id="g1_54" gradientUnits="userSpaceOnUse" x1="808.42" x2="1497.21" y1="0" y2="0"><stop offset="0.0000" stop-color="#f2f2f2"/><stop offset="0.0278" stop-color="#e7e7e7"/><stop offset="0.0556" stop-color="#cccccc"/><stop offset="0.0833" stop-color="#c8c8c8"/><stop offset="0.1111" stop-color="#c0c0c0"/><stop offset="0.1389" stop-color="#b7b7b7"/><stop offset="0.1667" stop-color="#ababab"/><stop offset="0.1944" stop-color="#a0a0a0"/><stop offset="0.2222" stop-color="#858585"/><stop offset="0.2778" stop-color="#2c2c2c"/><stop offset="0.3333" stop-color="#000000"/><stop offset="0.9500" stop-color="#000000"/></linearGradient>
<linearGradient id="g1_55" gradientUnits="userSpaceOnUse" x1="808.42" x2="1497.21" y1="0" y2="0"><stop offset="0.0000" stop-color="#f2f2f2"/><stop offset="0.0278" stop-color="#e6e6e6"/><stop offset="0.0556" stop-color="#cacaca"/><stop offset="0.0833" stop-color="#c6c6c6"/><stop offset="0.1111" stop-color="#bebebe"/><stop offset="0.1389" stop-color="#b5b5b5"/><stop offset="0.1667" stop-color="#aaaaaa"/><stop offset="0.1944" stop-color="#a0a0a0"/><stop offset="0.2222" stop-color="#5f5f5f"/><stop offset="0.2778" stop-color="#0f0f0f"/><stop offset="0.3333" stop-color="#000000"/><stop offset="0.9500" stop-color="#000000"/></linearGradient>
<linearGradient id="g1_56" gradientUnits="userSpaceOnUse" x1="808.42" x2="1497.21" y1="0" y2="0"><stop offset="0.0000" stop-color="#f1f1f1"/><stop offset="0.0278" stop-color="#e4e4e4"/><stop offset="0.0556" stop-color="#c8c8c8"/><stop offset="0.0833" stop-color="#c3c3c3"/><stop offset="0.1111" stop-color="#bbbbbb"/><stop offset="0.1389" stop-color="#b2b2b2"/><stop offset="0.1667" stop-color="#a8a8a8"/><stop offset="0.1944" stop-color="#9f9f9f"/><stop offset="0.2222" stop-color="#595959"/><stop offset="0.2778" stop-color="#000000"/><stop offset="0.9500" stop-color="#000000"/></linearGradient>
<linearGradient id="g1_57" gradientUnits="userSpaceOnUse" x1="808.42" x2="1497.21" y1="0" y2="0"><stop offset="0.0000" stop-color="#f1f1f1"/><stop offset="0.0278" stop-color="#e2e2e2"/><stop offset="0.0556" stop-color="#c5c5c5"/><stop offset="0.0833" stop-color="#bfbfbf"/><stop offset="0.1111" stop-color="#b7b7b7"/><stop offset="0.1389" stop-color="#afafaf"/><stop offset="0.1667" stop-color="#a6a6a6"/><stop offset="0.1944" stop-color="#6b6b6b"/><stop offset="0.2222" stop-color="#252525"/><stop offset="0.2778" stop-color="#000000"/><stop offset="0.9500" stop-color="#000000"/></linearGradient>
<linearGradient id="g1_58" gradientUnits="userSpaceOnUse" x1="808.42" x2="1497.21" y1="0" y2="0"><stop offset="0.0000" stop-color="#f0f0f0"/><stop offset="0.0278" stop-color="#e1e1e1"/><stop offset="0.0556" stop-color="#c2c2c2"/><stop offset="0.0833" stop-color="#bcbcbc"/><stop offset="0.1111" stop-color="#b4b4b4"/><stop offset="0.1389" stop-color="#acacac"/><stop offset="0.1667" stop-color="#7d7d7d"/><stop offset="0.1944" stop-color="#505050"/><stop offset="0.2222" stop-color="#000000"/><stop offset="0.9500" stop-color="#000000"/></linearGradient>
<linearGradient id="g1_59" gradientUnits="userSpaceOnUse" x1="808.42" x2="1497.21" y1="0" y2="0"><stop offset="0.0000" stop-color="#f0f0f0"/><stop offset="0.0278" stop-color="#e0e0e0"/><stop offset="0.0556" stop-color="#c1c1c1"/><stop offset="0.0833" stop-color="#b9b9b9"/><stop offset="0.1111" stop-color="#b2b2b2"/><stop offset="0.1389" stop-color="#ababab"/><stop offset="0.1667" stop-color="#7c7c7c"/><stop offset="0.1944" stop-color="#010101"/><stop offset="0.2222" stop-color="#000000"/><stop offset="0.9500" stop-color="#000000"/></linearGradient>
<linearGradient id="g1_60" gradientUnits="userSpaceOnUse" x1="808.42" x2="1497.21" y1="0" y2="0"><stop offset="0.0000" stop-color="#efefef"/><stop offset="0.0278" stop-color="#e0e0e0"/><stop offset="0.0556" stop-color="#c0c0c0"/><stop offset="0.0833" stop-color="#b8b8b8"/><stop offset="0.1111" stop-color="#b0b0b0"/><stop offset="0.1389" stop-color="#828282"/><stop offset="0.1667" stop-color="#1f1f1f"/><stop offset="0.1944" stop-color="#000000"/><stop offset="0.9500" stop-color="#000000"/></linearGradient>
<linearGradient id="g1_61" gradientUnits="userSpaceOnUse" x1="808.42" x2="1497.21" y1="0" y2="0"><stop offset="0.0000" stop-color="#efefef"/><stop offset="0.0278" stop-color="#dfdfdf"/><stop offset="0.0556" stop-color="#c0c0c0"/><stop offset="0.0833" stop-color="#b8b8b8"/><stop offset="0.1111" stop-color="#888888"/><stop offset="0.1389" stop-color="#565656"/><stop offset="0.1667" stop-color="#000000"/><stop offset="0.9500" stop-color="#000000"/></linearGradient>
<linearGradient id="g1_62" gradientUnits="userSpaceOnUse" x1="808.42" x2="1497.21" y1="0" y2="0"><stop offset="0.0000" stop-color="#efefef"/><stop offset="0.0278" stop-color="#dfdfdf"/><stop offset="0.0556" stop-color="#bfbfbf"/><stop offset="0.0833" stop-color="#b7b7b7"/><stop offset="0.1111" stop-color="#888888"/><stop offset="0.1389" stop-color="#000000"/><stop offset="0.9500" stop-color="#000000"/></linearGradient>
<linearGradient id="g1_63" gradientUnits="userSpaceOnUse" x1="808.42" x2="1497.21" y1="0" y2="0"><stop offset="0.0000" stop-color="#efefef"/><stop offset="0.0278" stop-color="#dfdfdf"/><stop offset="0.0556" stop-color="#bfbfbf"/><stop offset="0.0833" stop-color="#8f8f8f"/><stop offset="0.1111" stop-color="#222222"/><stop offset="0.1389" stop-color="#000000"/><stop offset="0.9500" stop-color="#000000"/></linearGradient>
<linearGradient id="g1_64" gradientUnits="userSpaceOnUse" x1="808.42" x2="1497.21" y1="0" y2="0"><stop offset="0.0000" stop-color="#efefef"/><stop offset="0.0278" stop-color="#dfdfdf"/><stop offset="0.0556" stop-color="#979797"/><stop offset="0.0833" stop-color="#606060"/><stop offset="0.1111" stop-color="#000000"/><stop offset="0.9500" stop-color="#000000"/></linearGradient>
<linearGradient id="g1_65" gradientUnits="userSpaceOnUse" x1="808.42" x2="1497.21" y1="0" y2="0"><stop offset="0.0000" stop-color="#efefef"/><stop offset="0.0278" stop-color="#dfdfdf"/><stop offset="0.0556" stop-color="#979797"/><stop offset="0.0833" stop-color="#000000"/><stop offset="0.9500" stop-color="#000000"/></linearGradient>
</defs>
<g filter="url(#hf1)">
<rect x="790.5" y="15.2" width="702.1" height="714.1" fill="#000"/>
<path d="M808.42,699.30 L1497.21,699.30 L1497.21,680.00Z" fill="url(#g1_0)"/>
<path d="M808.42,699.30 L1497.21,682.07 L1497.21,662.77Z" fill="url(#g1_1)"/>
<path d="M808.42,699.30 L1497.21,664.84 L1497.21,645.54Z" fill="url(#g1_2)"/>
<path d="M808.42,699.30 L1497.21,647.60 L1497.21,628.30Z" fill="url(#g1_3)"/>
<path d="M808.42,699.30 L1497.21,630.37 L1497.21,611.07Z" fill="url(#g1_4)"/>
<path d="M808.42,699.30 L1497.21,613.14 L1497.21,593.84Z" fill="url(#g1_5)"/>
<path d="M808.42,699.30 L1497.21,595.91 L1497.21,576.61Z" fill="url(#g1_6)"/>
<path d="M808.42,699.30 L1497.21,578.68 L1497.21,559.38Z" fill="url(#g1_7)"/>
<path d="M808.42,699.30 L1497.21,561.45 L1497.21,552.48Z" fill="url(#g1_8)"/>
<path d="M808.42,699.30 L1497.21,554.55 L1497.21,545.59Z" fill="url(#g1_9)"/>
<path d="M808.42,699.30 L1497.21,547.66 L1497.21,538.70Z" fill="url(#g1_10)"/>
<path d="M808.42,699.30 L1497.21,540.77 L1497.21,531.81Z" fill="url(#g1_11)"/>
<path d="M808.42,699.30 L1497.21,533.87 L1497.21,524.91Z" fill="url(#g1_12)"/>
<path d="M808.42,699.30 L1497.21,526.98 L1497.21,518.02Z" fill="url(#g1_13)"/>
<path d="M808.42,699.30 L1497.21,520.09 L1497.21,511.13Z" fill="url(#g1_14)"/>
<path d="M808.42,699.30 L1497.21,513.20 L1497.21,504.24Z" fill="url(#g1_15)"/>
<path d="M808.42,699.30 L1497.21,506.30 L1497.21,497.34Z" fill="url(#g1_16)"/>
<path d="M808.42,699.30 L1497.21,499.41 L1497.21,490.45Z" fill="url(#g1_17)"/>
<path d="M808.42,699.30 L1497.21,492.52 L1497.21,483.56Z" fill="url(#g1_18)"/>
<path d="M808.42,699.30 L1497.21,485.63 L1497.21,476.66Z" fill="url(#g1_19)"/>
<path d="M808.42,699.30 L1497.21,478.73 L1497.21,469.77Z" fill="url(#g1_20)"/>
<path d="M808.42,699.30 L1497.21,471.84 L1497.21,462.88Z" fill="url(#g1_21)"/>
<path d="M808.42,699.30 L1497.21,464.95 L1497.21,455.99Z" fill="url(#g1_22)"/>
<path d="M808.42,699.30 L1497.21,458.05 L1497.21,449.09Z" fill="url(#g1_23)"/>
<path d="M808.42,699.30 L1497.21,451.16 L1497.21,435.31Z" fill="url(#g1_24)"/>
<path d="M808.42,699.30 L1497.21,437.38 L1497.21,421.52Z" fill="url(#g1_25)"/>
<path d="M808.42,699.30 L1497.21,423.59 L1497.21,407.74Z" fill="url(#g1_26)"/>
<path d="M808.42,699.30 L1497.21,409.80 L1497.21,393.95Z" fill="url(#g1_27)"/>
<path d="M808.42,699.30 L1497.21,396.02 L1497.21,380.17Z" fill="url(#g1_28)"/>
<path d="M808.42,699.30 L1497.21,382.23 L1497.21,366.38Z" fill="url(#g1_29)"/>
<path d="M808.42,699.30 L1497.21,368.45 L1497.21,352.60Z" fill="url(#g1_30)"/>
<path d="M808.42,699.30 L1497.21,354.66 L1497.21,338.81Z" fill="url(#g1_31)"/>
<path d="M808.42,699.30 L1497.21,340.88 L1497.21,325.02Z" fill="url(#g1_32)"/>
<path d="M808.42,699.30 L1497.21,327.09 L1497.21,311.24Z" fill="url(#g1_33)"/>
<path d="M808.42,699.30 L1497.21,313.31 L1497.21,297.45Z" fill="url(#g1_34)"/>
<path d="M808.42,699.30 L1497.21,299.52 L1497.21,283.67Z" fill="url(#g1_35)"/>
<path d="M808.42,699.30 L1497.21,285.74 L1497.21,269.88Z" fill="url(#g1_36)"/>
<path d="M808.42,699.30 L1497.21,271.95 L1497.21,256.10Z" fill="url(#g1_37)"/>
<path d="M808.42,699.30 L1497.21,258.16 L1497.21,242.31Z" fill="url(#g1_38)"/>
<path d="M808.42,699.30 L1497.21,244.38 L1497.21,228.53Z" fill="url(#g1_39)"/>
<path d="M808.42,699.30 L1497.21,230.59 L1497.21,214.74Z" fill="url(#g1_40)"/>
<path d="M808.42,699.30 L1497.21,216.81 L1497.21,200.95Z" fill="url(#g1_41)"/>
<path d="M808.42,699.30 L1497.21,203.02 L1497.21,187.17Z" fill="url(#g1_42)"/>
<path d="M808.42,699.30 L1497.21,189.24 L1497.21,173.38Z" fill="url(#g1_43)"/>
<path d="M808.42,699.30 L1497.21,175.45 L1497.21,159.60Z" fill="url(#g1_44)"/>
<path d="M808.42,699.30 L1497.21,161.67 L1497.21,145.81Z" fill="url(#g1_45)"/>
<path d="M808.42,699.30 L1497.21,147.88 L1497.21,132.03Z" fill="url(#g1_46)"/>
<path d="M808.42,699.30 L1497.21,134.10 L1497.21,118.24Z" fill="url(#g1_47)"/>
<path d="M808.42,699.30 L1497.21,120.31 L1497.21,104.46Z" fill="url(#g1_48)"/>
<path d="M808.42,699.30 L1497.21,106.52 L1497.21,90.67Z" fill="url(#g1_49)"/>
<path d="M808.42,699.30 L1497.21,92.74 L1497.21,76.89Z" fill="url(#g1_50)"/>
<path d="M808.42,699.30 L1497.21,78.95 L1497.21,63.10Z" fill="url(#g1_51)"/>
<path d="M808.42,699.30 L1497.21,65.17 L1497.21,49.31Z" fill="url(#g1_52)"/>
<path d="M808.42,699.30 L1497.21,51.38 L1497.21,35.53Z" fill="url(#g1_53)"/>
<path d="M808.42,699.30 L1497.21,37.60 L1497.21,21.74Z" fill="url(#g1_54)"/>
<path d="M808.42,699.30 L1497.21,23.81 L1497.21,7.96Z" fill="url(#g1_55)"/>
<path d="M808.42,699.30 L1497.21,10.03 L1497.21,-26.51Z" fill="url(#g1_56)"/>
<path d="M808.42,699.30 L1497.21,-24.44 L1497.21,-60.97Z" fill="url(#g1_57)"/>
<path d="M808.42,699.30 L1497.21,-58.90 L1497.21,-95.43Z" fill="url(#g1_58)"/>
<path d="M808.42,699.30 L1497.21,-93.37 L1497.21,-129.90Z" fill="url(#g1_59)"/>
<path d="M808.42,699.30 L1497.21,-127.83 L1497.21,-164.36Z" fill="url(#g1_60)"/>
<path d="M808.42,699.30 L1497.21,-162.29 L1497.21,-198.82Z" fill="url(#g1_61)"/>
<path d="M808.42,699.30 L1497.21,-196.76 L1497.21,-233.29Z" fill="url(#g1_62)"/>
<path d="M808.42,699.30 L1497.21,-231.22 L1497.21,-267.75Z" fill="url(#g1_63)"/>
<path d="M808.42,699.30 L1497.21,-265.68 L1497.21,-302.22Z" fill="url(#g1_64)"/>
<path d="M808.42,699.30 L1497.21,-300.15 L1497.21,-336.68Z" fill="url(#g1_65)"/>
</g></g>
<g clip-path="url(#clip1)" fill="none" stroke-width="4.65">
<path d="M808.42,697.77 L1458.56,48.47" stroke="#0000ff" stroke-dasharray="17.21 7.44"/>
<path d="M808.42,630.27 L811.67,630.18 L814.92,629.92 L818.17,629.49 L821.42,628.89 L824.67,628.13 L827.92,627.22 L831.17,626.16 L834.43,624.95 L837.68,623.62 L840.93,622.17 L844.18,620.60 L847.43,618.92 L850.68,617.14 L853.93,615.28 L857.18,613.33 L860.43,611.30 L863.68,609.20 L866.93,607.03 L870.18,604.80 L873.43,602.52 L876.68,600.18 L879.94,597.80 L883.19,595.37 L886.44,592.89 L889.69,590.39 L892.94,587.84 L896.19,585.26 L899.44,582.65 L902.69,580.01 L905.94,577.35 L909.19,574.65 L912.44,571.94 L915.69,569.20 L918.94,566.44 L922.19,563.66 L925.44,560.87 L928.70,558.05 L931.95,555.22 L935.20,552.37 L938.45,549.51 L941.70,546.63 L944.95,543.75 L948.20,540.84 L951.45,537.93 L954.70,535.00 L957.95,532.07 L961.20,529.12 L964.45,526.16 L967.70,523.20 L970.95,520.22 L974.21,517.24 L977.46,514.24 L980.71,511.24 L983.96,508.24 L987.21,505.22 L990.46,502.20 L993.71,499.17 L996.96,496.14 L1000.21,493.10 L1003.46,490.05 L1006.71,487.00 L1009.96,483.94 L1013.21,480.88 L1016.46,477.81 L1019.71,474.74 L1022.97,471.66 L1026.22,468.58 L1029.47,465.49 L1032.72,462.40 L1035.97,459.31 L1039.22,456.21 L1042.47,453.11 L1045.72,450.01 L1048.97,446.90 L1052.22,443.78 L1055.47,440.67 L1058.72,437.55 L1061.97,434.43 L1065.22,431.31 L1068.48,428.18 L1071.73,425.05 L1074.98,421.92 L1078.23,418.78 L1081.48,415.64 L1084.73,412.50 L1087.98,409.36 L1091.23,406.22 L1094.48,403.07 L1097.73,399.92 L1100.98,396.77 L1104.23,393.62 L1107.48,390.46 L1110.73,387.30 L1113.99,384.15 L1117.24,380.98 L1120.49,377.82 L1123.74,374.66 L1126.99,371.49 L1130.24,368.32 L1133.49,365.16 L1136.74,361.99 L1139.99,358.81 L1143.24,355.64 L1146.49,352.47 L1149.74,349.29 L1152.99,346.11 L1156.24,342.93 L1159.49,339.75 L1162.75,336.57 L1166.00,333.39 L1169.25,330.20 L1172.50,327.02 L1175.75,323.83 L1179.00,320.65 L1182.25,317.46 L1185.50,314.27 L1188.75,311.08 L1192.00,307.89 L1195.25,304.70 L1198.50,301.50 L1201.75,298.31 L1205.00,295.11 L1208.26,291.92 L1211.51,288.72 L1214.76,285.52 L1218.01,282.32 L1221.26,279.13 L1224.51,275.93 L1227.76,272.72 L1231.01,269.52 L1234.26,266.32 L1237.51,263.12 L1240.76,259.91 L1244.01,256.71 L1247.26,253.50 L1250.51,250.30 L1253.77,247.09 L1257.02,243.89 L1260.27,240.68 L1263.52,237.47 L1266.77,234.26 L1270.02,231.05 L1273.27,227.84 L1276.52,224.63 L1279.77,221.42 L1283.02,218.21 L1286.27,214.99 L1289.52,211.78 L1292.77,208.57 L1296.02,205.35 L1299.27,202.14 L1302.53,198.92 L1305.78,195.71 L1309.03,192.49 L1312.28,189.28 L1315.53,186.06 L1318.78,182.84 L1322.03,179.63 L1325.28,176.41 L1328.53,173.19 L1331.78,169.97 L1335.03,166.75 L1338.28,163.53 L1341.53,160.31 L1344.78,157.09 L1348.04,153.87 L1351.29,150.65 L1354.54,147.43 L1357.79,144.21 L1361.04,140.98 L1364.29,137.76 L1367.54,134.54 L1370.79,131.31 L1374.04,128.09 L1377.29,124.87 L1380.54,121.64 L1383.79,118.42 L1387.04,115.19 L1390.29,111.97 L1393.55,108.74 L1396.80,105.52 L1400.05,102.29 L1403.30,99.06 L1406.55,95.84 L1409.80,92.61 L1413.05,89.38 L1416.30,86.16 L1419.55,82.93 L1422.80,79.70 L1426.05,76.47 L1429.30,73.24 L1432.55,70.01 L1435.80,66.79 L1439.05,63.56 L1442.31,60.33 L1445.56,57.10 L1448.81,53.87 L1452.06,50.64 L1455.31,47.41 L1458.56,44.18" stroke="#ffa500" stroke-linecap="square"/>
<path d="M808.42,699.30 L811.67,697.49 L814.92,695.69 L818.17,693.87 L821.42,692.04 L824.67,690.20 L827.92,688.35 L831.17,686.48 L834.43,684.58 L837.68,682.67 L840.93,680.74 L844.18,678.79 L847.43,676.82 L850.68,674.82 L853.93,672.81 L857.18,670.78 L860.43,668.74 L863.68,666.68 L866.93,664.60 L870.18,662.51 L873.43,660.41 L876.68,658.29 L879.94,656.17 L883.19,654.03 L886.44,651.89 L889.69,649.74 L892.94,647.58 L896.19,645.42 L899.44,643.24 L902.69,641.07 L905.94,638.89 L909.19,636.71 L912.44,634.52 L915.69,632.33 L918.94,630.13 L922.19,627.94 L925.44,625.74 L928.70,623.54 L931.95,621.34 L935.20,619.13 L938.45,616.93 L941.70,614.72 L944.95,612.52 L948.20,610.31 L951.45,608.10 L954.70,605.90 L957.95,603.69 L961.20,601.48 L964.45,599.27 L967.70,597.06 L970.95,594.85 L974.21,592.65 L977.46,590.44 L980.71,588.23 L983.96,586.02 L987.21,583.81 L990.46,581.61 L993.71,579.40 L996.96,577.19 L1000.21,574.99 L1003.46,572.78 L1006.71,570.58 L1009.96,568.37 L1013.21,566.17 L1016.46,563.96 L1019.71,561.76 L1022.97,559.56 L1026.22,557.36 L1029.47,555.15 L1032.72,552.95 L1035.97,550.75 L1039.22,548.55 L1042.47,546.35 L1045.72,544.15 L1048.97,541.95 L1052.22,539.75 L1055.47,537.55 L1058.72,535.35 L1061.97,533.16 L1065.22,530.96 L1068.48,528.76 L1071.73,526.57 L1074.98,524.37 L1078.23,522.18 L1081.48,519.98 L1084.73,517.79 L1087.98,515.59 L1091.23,513.40 L1094.48,511.20 L1097.73,509.01 L1100.98,506.82 L1104.23,504.63 L1107.48,502.43 L1110.73,500.24 L1113.99,498.05 L1117.24,495.86 L1120.49,493.67 L1123.74,491.48 L1126.99,489.29 L1130.24,487.10 L1133.49,484.91 L1136.74,482.72 L1139.99,480.53 L1143.24,478.34 L1146.49,476.15 L1149.74,473.97 L1152.99,471.78 L1156.24,469.59 L1159.49,467.40 L1162.75,465.22 L1166.00,463.03 L1169.25,460.84 L1172.50,458.66 L1175.75,456.47 L1179.00,454.29 L1182.25,452.10 L1185.50,449.92 L1188.75,447.73 L1192.00,445.55 L1195.25,443.36 L1198.50,441.18 L1201.75,438.99 L1205.00,436.81 L1208.26,434.63 L1211.51,432.44 L1214.76,430.26 L1218.01,428.08 L1221.26,425.89 L1224.51,423.71 L1227.76,421.53 L1231.01,419.35 L1234.26,417.16 L1237.51,414.98 L1240.76,412.80 L1244.01,410.62 L1247.26,408.44 L1250.51,406.25 L1253.77,404.07 L1257.02,401.89 L1260.27,399.71 L1263.52,397.53 L1266.77,395.35 L1270.02,393.17 L1273.27,390.99 L1276.52,388.81 L1279.77,386.63 L1283.02,384.45 L1286.27,382.27 L1289.52,380.09 L1292.77,377.91 L1296.02,375.73 L1299.27,373.55 L1302.53,371.37 L1305.78,369.19 L1309.03,367.02 L1312.28,364.84 L1315.53,362.66 L1318.78,360.48 L1322.03,358.30 L1325.28,356.12 L1328.53,353.94 L1331.78,351.77 L1335.03,349.59 L1338.28,347.41 L1341.53,345.23 L1344.78,343.06 L1348.04,340.88 L1351.29,338.70 L1354.54,336.52 L1357.79,334.35 L1361.04,332.17 L1364.29,329.99 L1367.54,327.81 L1370.79,325.64 L1374.04,323.46 L1377.29,321.28 L1380.54,319.11 L1383.79,316.93 L1387.04,314.75 L1390.29,312.58 L1393.55,310.40 L1396.80,308.23 L1400.05,306.05 L1403.30,303.87 L1406.55,301.70 L1409.80,299.52 L1413.05,297.34 L1416.30,295.17 L1419.55,292.99 L1422.80,290.82 L1426.05,288.64 L1429.30,286.47 L1432.55,284.29 L1435.80,282.12 L1439.05,279.94 L1442.31,277.76 L1445.56,275.59 L1448.81,273.41 L1452.06,271.24 L1455.31,269.06 L1458.56,266.89" stroke="#008000" stroke-dasharray="29.76 7.44 4.65 7.44"/>
<path d="M808.42,688.44 L811.67,688.43 L814.92,688.37 L818.17,688.29 L821.42,688.17 L824.67,688.02 L827.92,687.83 L831.17,687.62 L834.43,687.38 L837.68,687.12 L840.93,686.82 L844.18,686.51 L847.43,686.17 L850.68,685.82 L853.93,685.45 L857.18,685.06 L860.43,684.65 L863.68,684.23 L866.93,683.80 L870.18,683.35 L873.43,682.90 L876.68,682.43 L879.94,681.96 L883.19,681.47 L886.44,680.98 L889.69,680.48 L892.94,679.98 L896.19,679.47 L899.44,678.95 L902.69,678.43 L905.94,677.90 L909.19,677.37 L912.44,676.83 L915.69,676.29 L918.94,675.75 L922.19,675.20 L925.44,674.65 L928.70,674.09 L931.95,673.54 L935.20,672.98 L938.45,672.42 L941.70,671.85 L944.95,671.29 L948.20,670.72 L951.45,670.15 L954.70,669.58 L957.95,669.01 L961.20,668.43 L964.45,667.86 L967.70,667.28 L970.95,666.70 L974.21,666.12 L977.46,665.54 L980.71,664.95 L983.96,664.37 L987.21,663.79 L990.46,663.20 L993.71,662.61 L996.96,662.02 L1000.21,661.44 L1003.46,660.85 L1006.71,660.26 L1009.96,659.67 L1013.21,659.07 L1016.46,658.48 L1019.71,657.89 L1022.97,657.30 L1026.22,656.70 L1029.47,656.11 L1032.72,655.51 L1035.97,654.91 L1039.22,654.32 L1042.47,653.72 L1045.72,653.12 L1048.97,652.53 L1052.22,651.93 L1055.47,651.33 L1058.72,650.73 L1061.97,650.13 L1065.22,649.53 L1068.48,648.93 L1071.73,648.33 L1074.98,647.73 L1078.23,647.13 L1081.48,646.53 L1084.73,645.93 L1087.98,645.32 L1091.23,644.72 L1094.48,644.12 L1097.73,643.51 L1100.98,642.91 L1104.23,642.31 L1107.48,641.70 L1110.73,641.10 L1113.99,640.50 L1117.24,639.89 L1120.49,639.29 L1123.74,638.68 L1126.99,638.08 L1130.24,637.47 L1133.49,636.87 L1136.74,636.26 L1139.99,635.66 L1143.24,635.05 L1146.49,634.44 L1149.74,633.84 L1152.99,633.23 L1156.24,632.63 L1159.49,632.02 L1162.75,631.41 L1166.00,630.80 L1169.25,630.20 L1172.50,629.59 L1175.75,628.98 L1179.00,628.38 L1182.25,627.77 L1185.50,627.16 L1188.75,626.55 L1192.00,625.94 L1195.25,625.34 L1198.50,624.73 L1201.75,624.12 L1205.00,623.51 L1208.26,622.90 L1211.51,622.29 L1214.76,621.69 L1218.01,621.08 L1221.26,620.47 L1224.51,619.86 L1227.76,619.25 L1231.01,618.64 L1234.26,618.03 L1237.51,617.42 L1240.76,616.81 L1244.01,616.20 L1247.26,615.59 L1250.51,614.98 L1253.77,614.37 L1257.02,613.76 L1260.27,613.15 L1263.52,612.54 L1266.77,611.93 L1270.02,611.32 L1273.27,610.71 L1276.52,610.10 L1279.77,609.49 L1283.02,608.88 L1286.27,608.27 L1289.52,607.66 L1292.77,607.05 L1296.02,606.44 L1299.27,605.83 L1302.53,605.22 L1305.78,604.61 L1309.03,604.00 L1312.28,603.39 L1315.53,602.78 L1318.78,602.17 L1322.03,601.55 L1325.28,600.94 L1328.53,600.33 L1331.78,599.72 L1335.03,599.11 L1338.28,598.50 L1341.53,597.89 L1344.78,597.28 L1348.04,596.66 L1351.29,596.05 L1354.54,595.44 L1357.79,594.83 L1361.04,594.22 L1364.29,593.61 L1367.54,593.00 L1370.79,592.38 L1374.04,591.77 L1377.29,591.16 L1380.54,590.55 L1383.79,589.94 L1387.04,589.33 L1390.29,588.71 L1393.55,588.10 L1396.80,587.49 L1400.05,586.88 L1403.30,586.27 L1406.55,585.65 L1409.80,585.04 L1413.05,584.43 L1416.30,583.82 L1419.55,583.21 L1422.80,582.59 L1426.05,581.98 L1429.30,581.37 L1432.55,580.76 L1435.80,580.15 L1439.05,579.53 L1442.31,578.92 L1445.56,578.31 L1448.81,577.70 L1452.06,577.08 L1455.31,576.47 L1458.56,575.86" stroke="#1f77b4" stroke-linecap="square"/>
<path d="M820.55,469.54 L1462.70,469.54" stroke="#ff0000" stroke-opacity="0.8" stroke-dasharray="17.21 7.44"/>
</g>
<rect x="820.55" y="45.2" width="642.15" height="654.10" fill="none" stroke="#000" stroke-width="2.45"/>
<path d="M999.75,699.3 v11.2 M1191.08,699.3 v11.2 M1382.41,699.3 v11.2 M820.55,699.30 h-11.2 M820.55,603.57 h-11.2 M820.55,507.83 h-11.2 M820.55,412.10 h-11.2 M820.55,316.37 h-11.2 M820.55,220.64 h-11.2 M820.55,124.90 h-11.2" stroke="#000" stroke-width="2.3" fill="none"/>
<text transform="translate(979.22,746.85) scale(0.9926,1.0196)" font-size="37.5">50</text>
<text transform="translate(1160.34,746.85) scale(0.9650,1.0196)" font-size="37.5">100</text>
<text transform="translate(1350.84,746.85) scale(0.9767,1.0196)" font-size="37.5">150</text>
<text transform="translate(1105.71,26.00) scale(0.9939,1.0200)" font-size="37.5">NL2</text>
<text transform="translate(1124.81,791.90) scale(1.0400,1.0231)" font-size="37.5" font-style="italic">k</text>
<text transform="translate(1144.33,797.40) scale(1.1000,0.8735)" font-size="26.2" font-style="italic">z</text>
</g>
<g id="panel2">
<rect x="1514.10" y="45.2" width="642.15" height="654.10" fill="#0b0000"/>
<g clip-path="url(#clip2)">
<defs>
<filter id="hf2" filterUnits="userSpaceOnUse" x="1484.1" y="15.2" width="702.1" height="714.1" color-interpolation-filters="sRGB"><feGaussianBlur in="SourceGraphic" stdDeviation="2.2" result="e"/><feTurbulence type="fractalNoise" baseFrequency="0.088 0.145" numOctaves="2" seed="23" result="t"/><feColorMatrix in="t" type="matrix" values="1 0 0 0 0  1 0 0 0 0  1 0 0 0 0  0 0 0 0 1"/><feGaussianBlur stdDeviation="0.8 0.6" result="n0"/><feComponentTransfer in="n0" result="n1"><feFuncR type="linear" slope="1.051" intercept="-0.025"/><feFuncG type="linear" slope="1.051" intercept="-0.025"/><feFuncB type="linear" slope="1.051" intercept="-0.025"/></feComponentTransfer><feComponentTransfer in="n1" result="n"><feFuncR type="table" tableValues="0 0 0 0 0 0 0.05 0.2 0.335 0.45 0.5 0.52 0.54 0.565 0.59 0.615 0.64 0.665 0.69 0.71 0.73"/><feFuncG type="table" tableValues="0 0 0 0 0 0 0.05 0.2 0.335 0.45 0.5 0.52 0.54 0.565 0.59 0.615 0.64 0.665 0.69 0.71 0.73"/><feFuncB type="table" tableValues="0 0 0 0 0 0 0.05 0.2 0.335 0.45 0.5 0.52 0.54 0.565 0.59 0.615 0.64 0.665 0.69 0.71 0.73"/></feComponentTransfer><feComposite in="e" in2="n" operator="arithmetic" k1="0" k2="1.6" k3="2.0" k4="-1.600" result="v"/><feComponentTransfer in="v"><feFuncR type="linear" slope="2.625" intercept="0.0416"/><feFuncG type="linear" slope="2.625" intercept="-0.9583"/><feFuncB type="linear" slope="3.937" intercept="-2.937"/><feFuncA type="linear" slope="0" intercept="1"/></feComponentTransfer><feGaussianBlur stdDeviation="0.7"/></filter>
<linearGradient id="g2_0" gradientUnits="userSpaceOnUse" x1="1501.97" x2="2190.76" y1="0" y2="0"><stop offset="0.0000" stop-color="#efefef"/><stop offset="0.0278" stop-color="#dfdfdf"/><stop offset="0.0556" stop-color="#bfbfbf"/><stop offset="0.0833" stop-color="#000000"/><stop offset="0.9500" stop-color="#000000"/></linearGradient>
<linearGradient id="g2_1" gradientUnits="userSpaceOnUse" x1="1501.97" x2="2190.76" y1="0" y2="0"><stop offset="0.0000" stop-color="#efefef"/><stop offset="0.0278" stop-color="#dfdfdf"/><stop offset="0.0556" stop-color="#bfbfbf"/><stop offset="0.0833" stop-color="#000000"/><stop offset="0.9500" stop-color="#000000"/></linearGradient>
<linearGradient id="g2_2" gradientUnits="userSpaceOnUse" x1="1501.97" x2="2190.76" y1="0" y2="0"><stop offset="0.0000" stop-color="#efefef"/><stop offset="0.0278" stop-color="#dfdfdf"/><stop offset="0.0556" stop-color="#bfbfbf"/><stop offset="0.0833" stop-color="#000000"/><stop offset="0.9500" stop-color="#000000"/></linearGradient>
<linearGradient id="g2_3" gradientUnits="userSpaceOnUse" x1="1501.97" x2="2190.76" y1="0" y2="0"><stop offset="0.0000" stop-color="#efefef"/><stop offset="0.0278" stop-color="#dfdfdf"/><stop offset="0.0556" stop-color="#bfbfbf"/><stop offset="0.0833" stop-color="#000000"/><stop offset="0.9500" stop-color="#000000"/></linearGradient>
<linearGradient id="g2_4" gradientUnits="userSpaceOnUse" x1="1501.97" x2="2190.76" y1="0" y2="0"><stop offset="0.0000" stop-color="#efefef"/><stop offset="0.0278" stop-color="#dfdfdf"/><stop offset="0.0556" stop-color="#bfbfbf"/><stop offset="0.0833" stop-color="#000000"/><stop offset="0.9500" stop-color="#000000"/></linearGradient>
<linearGradient id="g2_5" gradientUnits="userSpaceOnUse" x1="1501.97" x2="2190.76" y1="0" y2="0"><stop offset="0.0000" stop-color="#efefef"/><stop offset="0.0278" stop-color="#dfdfdf"/><stop offset="0.0556" stop-color="#bfbfbf"/><stop offset="0.0833" stop-color="#323232"/><stop offset="0.1111" stop-color="#000000"/><stop offset="0.9500" stop-color="#000000"/></linearGradient>
<linearGradient id="g2_6" gradientUnits="userSpaceOnUse" x1="1501.97" x2="2190.76" y1="0" y2="0"><stop offset="0.0000" stop-color="#efefef"/><stop offset="0.0278" stop-color="#dfdfdf"/><stop offset="0.0556" stop-color="#bfbfbf"/><stop offset="0.0833" stop-color="#979797"/><stop offset="0.1111" stop-color="#000000"/><stop offset="0.9500" stop-color="#000000"/></linearGradient>
<linearGradient id="g2_7" gradientUnits="userSpaceOnUse" x1="1501.97" x2="2190.76" y1="0" y2="0"><stop offset="0.0000" stop-color="#efefef"/><stop offset="0.0278" stop-color="#dfdfdf"/><stop offset="0.0556" stop-color="#bfbfbf"/><stop offset="0.0833" stop-color="#bababa"/><stop offset="0.1111" stop-color="#000000"/><stop offset="0.9500" stop-color="#000000"/></linearGradient>
<linearGradient id="g2_8" gradientUnits="userSpaceOnUse" x1="1501.97" x2="2190.76" y1="0" y2="0"><stop offset="0.0000" stop-color="#efefef"/><stop offset="0.0278" stop-color="#dfdfdf"/><stop offset="0.0556" stop-color="#bfbfbf"/><stop offset="0.0833" stop-color="#bababa"/><stop offset="0.1111" stop-color="#000000"/><stop offset="0.9500" stop-color="#000000"/></linearGradient>
<linearGradient id="g2_9" gradientUnits="userSpaceOnUse" x1="1501.97" x2="2190.76" y1="0" y2="0"><stop offset="0.0000" stop-color="#efefef"/><stop offset="0.0278" stop-color="#dfdfdf"/><stop offset="0.0556" stop-color="#bfbfbf"/><stop offset="0.0833" stop-color="#bababa"/><stop offset="0.1111" stop-color="#000000"/><stop offset="0.9500" stop-color="#000000"/></linearGradient>
<linearGradient id="g2_10" gradientUnits="userSpaceOnUse" x1="1501.97" x2="2190.76" y1="0" y2="0"><stop offset="0.0000" stop-color="#efefef"/><stop offset="0.0278" stop-color="#dfdfdf"/><stop offset="0.0556" stop-color="#bfbfbf"/><stop offset="0.0833" stop-color="#bababa"/><stop offset="0.1111" stop-color="#000000"/><stop offset="0.9500" stop-color="#000000"/></linearGradient>
<linearGradient id="g2_11" gradientUnits="userSpaceOnUse" x1="1501.97" x2="2190.76" y1="0" y2="0"><stop offset="0.0000" stop-color="#efefef"/><stop offset="0.0278" stop-color="#dfdfdf"/><stop offset="0.0556" stop-color="#bfbfbf"/><stop offset="0.0833" stop-color="#bababa"/><stop offset="0.1111" stop-color="#000000"/><stop offset="0.9500" stop-color="#000000"/></linearGradient>
<linearGradient id="g2_12" gradientUnits="userSpaceOnUse" x1="1501.97" x2="2190.76" y1="0" y2="0"><stop offset="0.0000" stop-color="#efefef"/><stop offset="0.0278" stop-color="#dfdfdf"/><stop offset="0.0556" stop-color="#bfbfbf"/><stop offset="0.0833" stop-color="#bababa"/><stop offset="0.1111" stop-color="#000000"/><stop offset="0.9500" stop-color="#000000"/></linearGradient>
<linearGradient id="g2_13" gradientUnits="userSpaceOnUse" x1="1501.97" x2="2190.76" y1="0" y2="0"><stop offset="0.0000" stop-color="#efefef"/><stop offset="0.0278" stop-color="#dfdfdf"/><stop offset="0.0556" stop-color="#bfbfbf"/><stop offset="0.0833" stop-color="#bababa"/><stop offset="0.1111" stop-color="#000000"/><stop offset="0.3889" stop-color="#000000"/><stop offset="0.4444" stop-color="#0e0e0e"/><stop offset="0.5000" stop-color="#000000"/><stop offset="0.9500" stop-color="#000000"/></linearGradient>
<linearGradient id="g2_14" gradientUnits="userSpaceOnUse" x1="1501.97" x2="2190.76" y1="0" y2="0"><stop offset="0.0000" stop-color="#efefef"/><stop offset="0.0278" stop-color="#dfdfdf"/><stop offset="0.0556" stop-color="#bfbfbf"/><stop offset="0.0833" stop-color="#bababa"/><stop offset="0.1111" stop-color="#000000"/><stop offset="0.2222" stop-color="#000000"/><stop offset="0.2778" stop-color="#0e0e0e"/><stop offset="0.3333" stop-color="#0e0e0e"/><stop offset="0.3889" stop-color="#1b1b1b"/><stop offset="0.4444" stop-color="#2b2b2b"/><stop offset="0.5000" stop-color="#1c1c1c"/><stop offset="0.5556" stop-color="#0b0b0b"/><stop offset="0.6111" stop-color="#000000"/><stop offset="0.9500" stop-color="#000000"/></linearGradient>
<linearGradient id="g2_15" gradientUnits="userSpaceOnUse" x1="1501.97" x2="2190.76" y1="0" y2="0"><stop offset="0.0000" stop-color="#efefef"/><stop offset="0.0278" stop-color="#dfdfdf"/><stop offset="0.0556" stop-color="#bfbfbf"/><stop offset="0.0833" stop-color="#bababa"/><stop offset="0.1111" stop-color="#0e0e0e"/><stop offset="0.1389" stop-color="#000000"/><stop offset="0.1944" stop-color="#000000"/><stop offset="0.2222" stop-color="#0e0e0e"/><stop offset="0.2778" stop-color="#2b2b2b"/><stop offset="0.3333" stop-color="#2b2b2b"/><stop offset="0.3889" stop-color="#383838"/><stop offset="0.4444" stop-color="#484848"/><stop offset="0.5000" stop-color="#393939"/><stop offset="0.5556" stop-color="#282828"/><stop offset="0.6111" stop-color="#0a0a0a"/><stop offset="0.6667" stop-color="#000000"/><stop offset="0.9500" stop-color="#000000"/></linearGradient>
<linearGradient id="g2_16" gradientUnits="userSpaceOnUse" x1="1501.97" x2="2190.76" y1="0" y2="0"><stop offset="0.0000" stop-color="#efefef"/><stop offset="0.0278" stop-color="#dfdfdf"/><stop offset="0.0556" stop-color="#bfbfbf"/><stop offset="0.0833" stop-color="#bababa"/><stop offset="0.1111" stop-color="#2b2b2b"/><stop offset="0.1389" stop-color="#0e0e0e"/><stop offset="0.1667" stop-color="#000000"/><stop offset="0.1944" stop-color="#0e0e0e"/><stop offset="0.2222" stop-color="#2b2b2b"/><stop offset="0.2778" stop-color="#484848"/><stop offset="0.3333" stop-color="#484848"/><stop offset="0.3889" stop-color="#555555"/><stop offset="0.4444" stop-color="#565656"/><stop offset="0.5000" stop-color="#555555"/><stop offset="0.5556" stop-color="#454545"/><stop offset="0.6111" stop-color="#272727"/><stop offset="0.6667" stop-color="#060606"/><stop offset="0.7222" stop-color="#000000"/><stop offset="0.9500" stop-color="#000000"/></linearGradient>
<linearGradient id="g2_17" gradientUnits="userSpaceOnUse" x1="1501.97" x2="2190.76" y1="0" y2="0"><stop offset="0.0000" stop-color="#efefef"/><stop offset="0.0278" stop-color="#dfdfdf"/><stop offset="0.0556" stop-color="#bfbfbf"/><stop offset="0.0833" stop-color="#bababa"/><stop offset="0.1111" stop-color="#484848"/><stop offset="0.1389" stop-color="#2b2b2b"/><stop offset="0.1667" stop-color="#0e0e0e"/><stop offset="0.1944" stop-color="#2b2b2b"/><stop offset="0.2222" stop-color="#484848"/><stop offset="0.2778" stop-color="#565656"/><stop offset="0.5556" stop-color="#565656"/><stop offset="0.6111" stop-color="#434343"/><stop offset="0.6667" stop-color="#232323"/><stop offset="0.7222" stop-color="#000000"/><stop offset="0.9500" stop-color="#000000"/></linearGradient>
<linearGradient id="g2_18" gradientUnits="userSpaceOnUse" x1="1501.97" x2="2190.76" y1="0" y2="0"><stop offset="0.0000" stop-color="#efefef"/><stop offset="0.0278" stop-color="#dfdfdf"/><stop offset="0.0556" stop-color="#bfbfbf"/><stop offset="0.0833" stop-color="#bababa"/><stop offset="0.1111" stop-color="#565656"/><stop offset="0.1389" stop-color="#484848"/><stop offset="0.1667" stop-color="#2b2b2b"/><stop offset="0.1944" stop-color="#484848"/><stop offset="0.2222" stop-color="#565656"/><stop offset="0.3889" stop-color="#565656"/><stop offset="0.4444" stop-color="#5a5a5a"/><stop offset="0.5000" stop-color="#565656"/><stop offset="0.6111" stop-color="#565656"/><stop offset="0.6667" stop-color="#404040"/><stop offset="0.7222" stop-color="#181818"/><stop offset="0.7778" stop-color="#000000"/><stop offset="0.9500" stop-color="#000000"/></linearGradient>
<linearGradient id="g2_19" gradientUnits="userSpaceOnUse" x1="1501.97" x2="2190.76" y1="0" y2="0"><stop offset="0.0000" stop-color="#efefef"/><stop offset="0.0278" stop-color="#dfdfdf"/><stop offset="0.0556" stop-color="#bfbfbf"/><stop offset="0.0833" stop-color="#bababa"/><stop offset="0.1111" stop-color="#565656"/><stop offset="0.1389" stop-color="#565656"/><stop offset="0.1667" stop-color="#484848"/><stop offset="0.1944" stop-color="#565656"/><stop offset="0.2222" stop-color="#565656"/><stop offset="0.2778" stop-color="#5e5e5e"/><stop offset="0.3333" stop-color="#5c5c5c"/><stop offset="0.3889" stop-color="#6b6b6b"/><stop offset="0.4444" stop-color="#7e7e7e"/><stop offset="0.5000" stop-color="#6a6a6a"/><stop offset="0.5556" stop-color="#575757"/><stop offset="0.6111" stop-color="#565656"/><stop offset="0.6667" stop-color="#565656"/><stop offset="0.7222" stop-color="#353535"/><stop offset="0.7778" stop-color="#1a1a1a"/><stop offset="0.8333" stop-color="#121212"/><stop offset="0.8889" stop-color="#010101"/><stop offset="0.9500" stop-color="#000000"/></linearGradient>
<linearGradient id="g2_20" gradientUnits="userSpaceOnUse" x1="1501.97" x2="2190.76" y1="0" y2="0"><stop offset="0.0000" stop-color="#efefef"/><stop offset="0.0278" stop-color="#dfdfdf"/><stop offset="0.0556" stop-color="#bfbfbf"/><stop offset="0.0833" stop-color="#bababa"/><stop offset="0.1111" stop-color="#717171"/><stop offset="0.1389" stop-color="#565656"/><stop offset="0.1944" stop-color="#565656"/><stop offset="0.2222" stop-color="#626262"/><stop offset="0.2778" stop-color="#848484"/><stop offset="0.3333" stop-color="#818181"/><stop offset="0.3889" stop-color="#909090"/><stop offset="0.4444" stop-color="#909090"/><stop offset="0.5000" stop-color="#8e8e8e"/><stop offset="0.5556" stop-color="#787878"/><stop offset="0.6111" stop-color="#575757"/><stop offset="0.6667" stop-color="#575757"/><stop offset="0.7222" stop-color="#525252"/><stop offset="0.7778" stop-color="#373737"/><stop offset="0.8333" stop-color="#2f2f2f"/><stop offset="0.8889" stop-color="#1e1e1e"/><stop offset="0.9500" stop-color="#000000"/></linearGradient>
<linearGradient id="g2_21" gradientUnits="userSpaceOnUse" x1="1501.97" x2="2190.76" y1="0" y2="0"><stop offset="0.0000" stop-color="#efefef"/><stop offset="0.0278" stop-color="#dfdfdf"/><stop offset="0.0556" stop-color="#bfbfbf"/><stop offset="0.0833" stop-color="#bababa"/><stop offset="0.1111" stop-color="#9e9e9e"/><stop offset="0.1389" stop-color="#6d6d6d"/><stop offset="0.1667" stop-color="#565656"/><stop offset="0.1944" stop-color="#666666"/><stop offset="0.2222" stop-color="#898989"/><stop offset="0.2778" stop-color="#969696"/><stop offset="0.3333" stop-color="#949494"/><stop offset="0.3889" stop-color="#929292"/><stop offset="0.4444" stop-color="#909090"/><stop offset="0.5000" stop-color="#8f8f8f"/><stop offset="0.5556" stop-color="#8d8d8d"/><stop offset="0.6111" stop-color="#747474"/><stop offset="0.6667" stop-color="#575757"/><stop offset="0.7222" stop-color="#575757"/><stop offset="0.7778" stop-color="#535353"/><stop offset="0.8333" stop-color="#4c4c4c"/><stop offset="0.8889" stop-color="#3b3b3b"/><stop offset="0.9500" stop-color="#1d1d1d"/></linearGradient>
<linearGradient id="g2_22" gradientUnits="userSpaceOnUse" x1="1501.97" x2="2190.76" y1="0" y2="0"><stop offset="0.0000" stop-color="#efefef"/><stop offset="0.0278" stop-color="#dfdfdf"/><stop offset="0.0556" stop-color="#c0c0c0"/><stop offset="0.0833" stop-color="#bababa"/><stop offset="0.1111" stop-color="#b4b4b4"/><stop offset="0.1389" stop-color="#989898"/><stop offset="0.1667" stop-color="#696969"/><stop offset="0.1944" stop-color="#8e8e8e"/><stop offset="0.2222" stop-color="#9d9d9d"/><stop offset="0.2778" stop-color="#979797"/><stop offset="0.3333" stop-color="#949494"/><stop offset="0.3889" stop-color="#929292"/><stop offset="0.4444" stop-color="#919191"/><stop offset="0.5000" stop-color="#8f8f8f"/><stop offset="0.5556" stop-color="#8d8d8d"/><stop offset="0.6111" stop-color="#8b8b8b"/><stop offset="0.6667" stop-color="#6f6f6f"/><stop offset="0.7222" stop-color="#575757"/><stop offset="0.8333" stop-color="#575757"/><stop offset="0.8889" stop-color="#565656"/><stop offset="0.9500" stop-color="#3a3a3a"/></linearGradient>
<linearGradient id="g2_23" gradientUnits="userSpaceOnUse" x1="1501.97" x2="2190.76" y1="0" y2="0"><stop offset="0.0000" stop-color="#efefef"/><stop offset="0.0278" stop-color="#dfdfdf"/><stop offset="0.0556" stop-color="#c0c0c0"/><stop offset="0.0833" stop-color="#bababa"/><stop offset="0.1111" stop-color="#b5b5b5"/><stop offset="0.1389" stop-color="#aeaeae"/><stop offset="0.1667" stop-color="#939393"/><stop offset="0.1944" stop-color="#a3a3a3"/><stop offset="0.2222" stop-color="#9d9d9d"/><stop offset="0.2778" stop-color="#979797"/><stop offset="0.3333" stop-color="#959595"/><stop offset="0.3889" stop-color="#939393"/><stop offset="0.4444" stop-color="#919191"/><stop offset="0.5000" stop-color="#8f8f8f"/><stop offset="0.5556" stop-color="#8e8e8e"/><stop offset="0.6111" stop-color="#8c8c8c"/><stop offset="0.6667" stop-color="#8a8a8a"/><stop offset="0.7222" stop-color="#616161"/><stop offset="0.7778" stop-color="#575757"/><stop offset="0.8889" stop-color="#575757"/><stop offset="0.9500" stop-color="#565656"/></linearGradient>
<linearGradient id="g2_24" gradientUnits="userSpaceOnUse" x1="1501.97" x2="2190.76" y1="0" y2="0"><stop offset="0.0000" stop-color="#efefef"/><stop offset="0.0278" stop-color="#dfdfdf"/><stop offset="0.0556" stop-color="#c0c0c0"/><stop offset="0.0833" stop-color="#bababa"/><stop offset="0.1111" stop-color="#b5b5b5"/><stop offset="0.1389" stop-color="#afafaf"/><stop offset="0.1667" stop-color="#a8a8a8"/><stop offset="0.1944" stop-color="#a3a3a3"/><stop offset="0.2222" stop-color="#9d9d9d"/><stop offset="0.2778" stop-color="#979797"/><stop offset="0.3333" stop-color="#959595"/><stop offset="0.3889" stop-color="#939393"/><stop offset="0.4444" stop-color="#929292"/><stop offset="0.5000" stop-color="#909090"/><stop offset="0.5556" stop-color="#8e8e8e"/><stop offset="0.6111" stop-color="#8c8c8c"/><stop offset="0.6667" stop-color="#8b8b8b"/><stop offset="0.7222" stop-color="#888888"/><stop offset="0.7778" stop-color="#727272"/><stop offset="0.8333" stop-color="#686868"/><stop offset="0.8889" stop-color="#575757"/><stop offset="0.9500" stop-color="#575757"/></linearGradient>
<linearGradient id="g2_25" gradientUnits="userSpaceOnUse" x1="1501.97" x2="2190.76" y1="0" y2="0"><stop offset="0.0000" stop-color="#efefef"/><stop offset="0.0278" stop-color="#e0e0e0"/><stop offset="0.0556" stop-color="#c0c0c0"/><stop offset="0.0833" stop-color="#bbbbbb"/><stop offset="0.1111" stop-color="#b5b5b5"/><stop offset="0.1389" stop-color="#afafaf"/><stop offset="0.1667" stop-color="#a9a9a9"/><stop offset="0.1944" stop-color="#a4a4a4"/><stop offset="0.2222" stop-color="#9e9e9e"/><stop offset="0.2778" stop-color="#989898"/><stop offset="0.3333" stop-color="#969696"/><stop offset="0.3889" stop-color="#959595"/><stop offset="0.4444" stop-color="#939393"/><stop offset="0.5000" stop-color="#929292"/><stop offset="0.5556" stop-color="#909090"/><stop offset="0.6111" stop-color="#8e8e8e"/><stop offset="0.6667" stop-color="#8c8c8c"/><stop offset="0.7222" stop-color="#8a8a8a"/><stop offset="0.7778" stop-color="#878787"/><stop offset="0.8333" stop-color="#858585"/><stop offset="0.8889" stop-color="#838383"/><stop offset="0.9500" stop-color="#707070"/></linearGradient>
<linearGradient id="g2_26" gradientUnits="userSpaceOnUse" x1="1501.97" x2="2190.76" y1="0" y2="0"><stop offset="0.0000" stop-color="#f0f0f0"/><stop offset="0.0278" stop-color="#e0e0e0"/><stop offset="0.0556" stop-color="#c0c0c0"/><stop offset="0.0833" stop-color="#bbbbbb"/><stop offset="0.1111" stop-color="#b6b6b6"/><stop offset="0.1389" stop-color="#b0b0b0"/><stop offset="0.1667" stop-color="#aaaaaa"/><stop offset="0.1944" stop-color="#a4a4a4"/><stop offset="0.2222" stop-color="#9f9f9f"/><stop offset="0.2778" stop-color="#9a9a9a"/><stop offset="0.3333" stop-color="#989898"/><stop offset="0.3889" stop-color="#979797"/><stop offset="0.4444" stop-color="#959595"/><stop offset="0.5000" stop-color="#949494"/><stop offset="0.5556" stop-color="#929292"/><stop offset="0.6111" stop-color="#909090"/><stop offset="0.6667" stop-color="#8d8d8d"/><stop offset="0.7222" stop-color="#8b8b8b"/><stop offset="0.7778" stop-color="#898989"/><stop offset="0.8333" stop-color="#868686"/><stop offset="0.8889" stop-color="#848484"/><stop offset="0.9500" stop-color="#818181"/></linearGradient>
<linearGradient id="g2_27" gradientUnits="userSpaceOnUse" x1="1501.97" x2="2190.76" y1="0" y2="0"><stop offset="0.0000" stop-color="#f0f0f0"/><stop offset="0.0278" stop-color="#e0e0e0"/><stop offset="0.0556" stop-color="#c1c1c1"/><stop offset="0.0833" stop-color="#bcbcbc"/><stop offset="0.1111" stop-color="#b7b7b7"/><stop offset="0.1389" stop-color="#b1b1b1"/><stop offset="0.1667" stop-color="#ababab"/><stop offset="0.1944" stop-color="#a5a5a5"/><stop offset="0.2222" stop-color="#a0a0a0"/><stop offset="0.2778" stop-color="#9b9b9b"/><stop offset="0.3333" stop-color="#9a9a9a"/><stop offset="0.3889" stop-color="#999999"/><stop offset="0.4444" stop-color="#989898"/><stop offset="0.5000" stop-color="#969696"/><stop offset="0.5556" stop-color="#949494"/><stop offset="0.6111" stop-color="#929292"/><stop offset="0.6667" stop-color="#909090"/><stop offset="0.7222" stop-color="#8d8d8d"/><stop offset="0.7778" stop-color="#8a8a8a"/><stop offset="0.8333" stop-color="#888888"/><stop offset="0.8889" stop-color="#858585"/><stop offset="0.9500" stop-color="#828282"/></linearGradient>
<linearGradient id="g2_28" gradientUnits="userSpaceOnUse" x1="1501.97" x2="2190.76" y1="0" y2="0"><stop offset="0.0000" stop-color="#f0f0f0"/><stop offset="0.0278" stop-color="#e1e1e1"/><stop offset="0.0556" stop-color="#c1c1c1"/><stop offset="0.0833" stop-color="#bcbcbc"/><stop offset="0.1111" stop-color="#b7b7b7"/><stop offset="0.1389" stop-color="#b2b2b2"/><stop offset="0.1667" stop-color="#acacac"/><stop offset="0.1944" stop-color="#a7a7a7"/><stop offset="0.2222" stop-color="#a2a2a2"/><stop offset="0.2778" stop-color="#9d9d9d"/><stop offset="0.3333" stop-color="#9c9c9c"/><stop offset="0.3889" stop-color="#9c9c9c"/><stop offset="0.4444" stop-color="#9b9b9b"/><stop offset="0.5000" stop-color="#999999"/><stop offset="0.5556" stop-color="#979797"/><stop offset="0.6111" stop-color="#959595"/><stop offset="0.6667" stop-color="#939393"/><stop offset="0.7222" stop-color="#909090"/><stop offset="0.7778" stop-color="#8d8d8d"/><stop offset="0.8333" stop-color="#8a8a8a"/><stop offset="0.8889" stop-color="#868686"/><stop offset="0.9500" stop-color="#838383"/></linearGradient>
<linearGradient id="g2_29" gradientUnits="userSpaceOnUse" x1="1501.97" x2="2190.76" y1="0" y2="0"><stop offset="0.0000" stop-color="#f0f0f0"/><stop offset="0.0278" stop-color="#e1e1e1"/><stop offset="0.0556" stop-color="#c2c2c2"/><stop offset="0.0833" stop-color="#bdbdbd"/><stop offset="0.1111" stop-color="#b8b8b8"/><stop offset="0.1389" stop-color="#b3b3b3"/><stop offset="0.1667" stop-color="#adadad"/><stop offset="0.1944" stop-color="#a8a8a8"/><stop offset="0.2222" stop-color="#a4a4a4"/><stop offset="0.2778" stop-color="#9f9f9f"/><stop offset="0.3889" stop-color="#9f9f9f"/><stop offset="0.4444" stop-color="#9e9e9e"/><stop offset="0.5000" stop-color="#9d9d9d"/><stop offset="0.5556" stop-color="#9b9b9b"/><stop offset="0.6111" stop-color="#999999"/><stop offset="0.6667" stop-color="#969696"/><stop offset="0.7222" stop-color="#939393"/><stop offset="0.7778" stop-color="#8f8f8f"/><stop offset="0.8333" stop-color="#8c8c8c"/><stop offset="0.8889" stop-color="#888888"/><stop offset="0.9500" stop-color="#848484"/></linearGradient>
<linearGradient id="g2_30" gradientUnits="userSpaceOnUse" x1="1501.97" x2="2190.76" y1="0" y2="0"><stop offset="0.0000" stop-color="#f1f1f1"/><stop offset="0.0278" stop-color="#e2e2e2"/><stop offset="0.0556" stop-color="#c3c3c3"/><stop offset="0.0833" stop-color="#bebebe"/><stop offset="0.1111" stop-color="#bababa"/><stop offset="0.1389" stop-color="#b4b4b4"/><stop offset="0.1667" stop-color="#aeaeae"/><stop offset="0.1944" stop-color="#aaaaaa"/><stop offset="0.2222" stop-color="#a5a5a5"/><stop offset="0.2778" stop-color="#a2a2a2"/><stop offset="0.3889" stop-color="#a2a2a2"/><stop offset="0.4444" stop-color="#a1a1a1"/><stop offset="0.5000" stop-color="#a0a0a0"/><stop offset="0.5556" stop-color="#9f9f9f"/><stop offset="0.6111" stop-color="#9c9c9c"/><stop offset="0.6667" stop-color="#999999"/><stop offset="0.7222" stop-color="#969696"/><stop offset="0.7778" stop-color="#929292"/><stop offset="0.8333" stop-color="#8e8e8e"/><stop offset="0.8889" stop-color="#8a8a8a"/><stop offset="0.9500" stop-color="#858585"/></linearGradient>
<linearGradient id="g2_31" gradientUnits="userSpaceOnUse" x1="1501.97" x2="2190.76" y1="0" y2="0"><stop offset="0.0000" stop-color="#f1f1f1"/><stop offset="0.0278" stop-color="#e2e2e2"/><stop offset="0.0556" stop-color="#c4c4c4"/><stop offset="0.0833" stop-color="#bfbfbf"/><stop offset="0.1111" stop-color="#bbbbbb"/><stop offset="0.1389" stop-color="#b5b5b5"/><stop offset="0.1667" stop-color="#b0b0b0"/><stop offset="0.1944" stop-color="#ababab"/><stop offset="0.2222" stop-color="#a7a7a7"/><stop offset="0.2778" stop-color="#a3a3a3"/><stop offset="0.3333" stop-color="#a4a4a4"/><stop offset="0.5000" stop-color="#a4a4a4"/><stop offset="0.5556" stop-color="#a2a2a2"/><stop offset="0.6111" stop-color="#9f9f9f"/><stop offset="0.6667" stop-color="#9c9c9c"/><stop offset="0.7222" stop-color="#999999"/><stop offset="0.7778" stop-color="#959595"/><stop offset="0.8333" stop-color="#909090"/><stop offset="0.8889" stop-color="#8c8c8c"/><stop offset="0.9500" stop-color="#868686"/></linearGradient>
<linearGradient id="g2_32" gradientUnits="userSpaceOnUse" x1="1501.97" x2="2190.76" y1="0" y2="0"><stop offset="0.0000" stop-color="#f1f1f1"/><stop offset="0.0278" stop-color="#e3e3e3"/><stop offset="0.0556" stop-color="#c4c4c4"/><stop offset="0.0833" stop-color="#c0c0c0"/><stop offset="0.1111" stop-color="#bcbcbc"/><stop offset="0.1389" stop-color="#b6b6b6"/><stop offset="0.1667" stop-color="#b1b1b1"/><stop offset="0.1944" stop-color="#acacac"/><stop offset="0.2222" stop-color="#a8a8a8"/><stop offset="0.2778" stop-color="#a5a5a5"/><stop offset="0.3333" stop-color="#a6a6a6"/><stop offset="0.3889" stop-color="#a7a7a7"/><stop offset="0.4444" stop-color="#a7a7a7"/><stop offset="0.5000" stop-color="#a6a6a6"/><stop offset="0.5556" stop-color="#a4a4a4"/><stop offset="0.6111" stop-color="#a2a2a2"/><stop offset="0.6667" stop-color="#9f9f9f"/><stop offset="0.7222" stop-color="#9b9b9b"/><stop offset="0.7778" stop-color="#979797"/><stop offset="0.8333" stop-color="#929292"/><stop offset="0.8889" stop-color="#8d8d8d"/><stop offset="0.9500" stop-color="#878787"/></linearGradient>
<linearGradient id="g2_33" gradientUnits="userSpaceOnUse" x1="1501.97" x2="2190.76" y1="0" y2="0"><stop offset="0.0000" stop-color="#f2f2f2"/><stop offset="0.0278" stop-color="#e3e3e3"/><stop offset="0.0556" stop-color="#c5c5c5"/><stop offset="0.0833" stop-color="#c1c1c1"/><stop offset="0.1111" stop-color="#bdbdbd"/><stop offset="0.1389" stop-color="#b7b7b7"/><stop offset="0.1667" stop-color="#b2b2b2"/><stop offset="0.1944" stop-color="#adadad"/><stop offset="0.2222" stop-color="#a9a9a9"/><stop offset="0.2778" stop-color="#a6a6a6"/><stop offset="0.3333" stop-color="#a7a7a7"/><stop offset="0.3889" stop-color="#a8a8a8"/><stop offset="0.4444" stop-color="#a8a8a8"/><stop offset="0.5000" stop-color="#a7a7a7"/><stop offset="0.5556" stop-color="#a6a6a6"/><stop offset="0.6111" stop-color="#a3a3a3"/><stop offset="0.6667" stop-color="#a0a0a0"/><stop offset="0.7222" stop-color="#9c9c9c"/><stop offset="0.7778" stop-color="#989898"/><stop offset="0.8333" stop-color="#939393"/><stop offset="0.8889" stop-color="#8e8e8e"/><stop offset="0.9500" stop-color="#888888"/></linearGradient>
<linearGradient id="g2_34" gradientUnits="userSpaceOnUse" x1="1501.97" x2="2190.76" y1="0" y2="0"><stop offset="0.0000" stop-color="#f2f2f2"/><stop offset="0.0278" stop-color="#e4e4e4"/><stop offset="0.0556" stop-color="#c6c6c6"/><stop offset="0.0833" stop-color="#c2c2c2"/><stop offset="0.1111" stop-color="#bebebe"/><stop offset="0.1389" stop-color="#b8b8b8"/><stop offset="0.1667" stop-color="#b2b2b2"/><stop offset="0.1944" stop-color="#adadad"/><stop offset="0.2222" stop-color="#a9a9a9"/><stop offset="0.2778" stop-color="#a6a6a6"/><stop offset="0.3333" stop-color="#a7a7a7"/><stop offset="0.3889" stop-color="#a8a8a8"/><stop offset="0.4444" stop-color="#a8a8a8"/><stop offset="0.5000" stop-color="#a7a7a7"/><stop offset="0.5556" stop-color="#a6a6a6"/><stop offset="0.6111" stop-color="#a3a3a3"/><stop offset="0.6667" stop-color="#a0a0a0"/><stop offset="0.7222" stop-color="#9c9c9c"/><stop offset="0.7778" stop-color="#989898"/><stop offset="0.8333" stop-color="#939393"/><stop offset="0.8889" stop-color="#8e8e8e"/><stop offset="0.9500" stop-color="#888888"/></linearGradient>
<linearGradient id="g2_35" gradientUnits="userSpaceOnUse" x1="1501.97" x2="2190.76" y1="0" y2="0"><stop offset="0.0000" stop-color="#f2f2f2"/><stop offset="0.0278" stop-color="#e4e4e4"/><stop offset="0.0556" stop-color="#c6c6c6"/><stop offset="0.0833" stop-color="#c3c3c3"/><stop offset="0.1111" stop-color="#bfbfbf"/><stop offset="0.1389" stop-color="#b9b9b9"/><stop offset="0.1667" stop-color="#b2b2b2"/><stop offset="0.1944" stop-color="#adadad"/><stop offset="0.2222" stop-color="#a8a8a8"/><stop offset="0.2778" stop-color="#a5a5a5"/><stop offset="0.3333" stop-color="#a6a6a6"/><stop offset="0.3889" stop-color="#a7a7a7"/><stop offset="0.4444" stop-color="#a7a7a7"/><stop offset="0.5000" stop-color="#a6a6a6"/><stop offset="0.5556" stop-color="#a4a4a4"/><stop offset="0.6111" stop-color="#a2a2a2"/><stop offset="0.6667" stop-color="#9f9f9f"/><stop offset="0.7222" stop-color="#9b9b9b"/><stop offset="0.7778" stop-color="#979797"/><stop offset="0.8333" stop-color="#929292"/><stop offset="0.8889" stop-color="#8d8d8d"/><stop offset="0.9500" stop-color="#878787"/></linearGradient>
<linearGradient id="g2_36" gradientUnits="userSpaceOnUse" x1="1501.97" x2="2190.76" y1="0" y2="0"><stop offset="0.0000" stop-color="#f2f2f2"/><stop offset="0.0278" stop-color="#e4e4e4"/><stop offset="0.0556" stop-color="#c7c7c7"/><stop offset="0.0833" stop-color="#c4c4c4"/><stop offset="0.1111" stop-color="#bfbfbf"/><stop offset="0.1389" stop-color="#b9b9b9"/><stop offset="0.1667" stop-color="#b2b2b2"/><stop offset="0.1944" stop-color="#acacac"/><stop offset="0.2222" stop-color="#a7a7a7"/><stop offset="0.2778" stop-color="#a4a4a4"/><stop offset="0.5000" stop-color="#a4a4a4"/><stop offset="0.5556" stop-color="#a2a2a2"/><stop offset="0.6111" stop-color="#9f9f9f"/><stop offset="0.6667" stop-color="#9c9c9c"/><stop offset="0.7222" stop-color="#999999"/><stop offset="0.7778" stop-color="#959595"/><stop offset="0.8333" stop-color="#909090"/><stop offset="0.8889" stop-color="#8c8c8c"/><stop offset="0.9500" stop-color="#868686"/></linearGradient>
<linearGradient id="g2_37" gradientUnits="userSpaceOnUse" x1="1501.97" x2="2190.76" y1="0" y2="0"><stop offset="0.0000" stop-color="#f2f2f2"/><stop offset="0.0278" stop-color="#e5e5e5"/><stop offset="0.0556" stop-color="#c8c8c8"/><stop offset="0.0833" stop-color="#c5c5c5"/><stop offset="0.1111" stop-color="#c0c0c0"/><stop offset="0.1389" stop-color="#b9b9b9"/><stop offset="0.1667" stop-color="#b2b2b2"/><stop offset="0.1944" stop-color="#ababab"/><stop offset="0.2222" stop-color="#a6a6a6"/><stop offset="0.2778" stop-color="#a2a2a2"/><stop offset="0.3889" stop-color="#a2a2a2"/><stop offset="0.4444" stop-color="#a1a1a1"/><stop offset="0.5000" stop-color="#a0a0a0"/><stop offset="0.5556" stop-color="#9f9f9f"/><stop offset="0.6111" stop-color="#9c9c9c"/><stop offset="0.6667" stop-color="#999999"/><stop offset="0.7222" stop-color="#969696"/><stop offset="0.7778" stop-color="#929292"/><stop offset="0.8333" stop-color="#8e8e8e"/><stop offset="0.8889" stop-color="#8a8a8a"/><stop offset="0.9500" stop-color="#858585"/></linearGradient>
<linearGradient id="g2_38" gradientUnits="userSpaceOnUse" x1="1501.97" x2="2190.76" y1="0" y2="0"><stop offset="0.0000" stop-color="#f2f2f2"/><stop offset="0.0278" stop-color="#e5e5e5"/><stop offset="0.0556" stop-color="#c8c8c8"/><stop offset="0.0833" stop-color="#c6c6c6"/><stop offset="0.1111" stop-color="#c1c1c1"/><stop offset="0.1389" stop-color="#bababa"/><stop offset="0.1667" stop-color="#b1b1b1"/><stop offset="0.1944" stop-color="#aaaaaa"/><stop offset="0.2222" stop-color="#a4a4a4"/><stop offset="0.2778" stop-color="#9f9f9f"/><stop offset="0.3889" stop-color="#9f9f9f"/><stop offset="0.4444" stop-color="#9e9e9e"/><stop offset="0.5000" stop-color="#9d9d9d"/><stop offset="0.5556" stop-color="#9b9b9b"/><stop offset="0.6111" stop-color="#999999"/><stop offset="0.6667" stop-color="#969696"/><stop offset="0.7222" stop-color="#939393"/><stop offset="0.7778" stop-color="#8f8f8f"/><stop offset="0.8333" stop-color="#8c8c8c"/><stop offset="0.8889" stop-color="#888888"/><stop offset="0.9500" stop-color="#848484"/></linearGradient>
<linearGradient id="g2_39" gradientUnits="userSpaceOnUse" x1="1501.97" x2="2190.76" y1="0" y2="0"><stop offset="0.0000" stop-color="#f2f2f2"/><stop offset="0.0278" stop-color="#e5e5e5"/><stop offset="0.0556" stop-color="#c9c9c9"/><stop offset="0.0833" stop-color="#c7c7c7"/><stop offset="0.1111" stop-color="#c2c2c2"/><stop offset="0.1389" stop-color="#bababa"/><stop offset="0.1667" stop-color="#b1b1b1"/><stop offset="0.1944" stop-color="#a9a9a9"/><stop offset="0.2222" stop-color="#a3a3a3"/><stop offset="0.2778" stop-color="#9d9d9d"/><stop offset="0.3333" stop-color="#9c9c9c"/><stop offset="0.3889" stop-color="#9c9c9c"/><stop offset="0.4444" stop-color="#9b9b9b"/><stop offset="0.5000" stop-color="#999999"/><stop offset="0.5556" stop-color="#979797"/><stop offset="0.6111" stop-color="#959595"/><stop offset="0.6667" stop-color="#939393"/><stop offset="0.7222" stop-color="#909090"/><stop offset="0.7778" stop-color="#8d8d8d"/><stop offset="0.8333" stop-color="#8a8a8a"/><stop offset="0.8889" stop-color="#868686"/><stop offset="0.9500" stop-color="#767676"/></linearGradient>
<linearGradient id="g2_40" gradientUnits="userSpaceOnUse" x1="1501.97" x2="2190.76" y1="0" y2="0"><stop offset="0.0000" stop-color="#f2f2f2"/><stop offset="0.0278" stop-color="#e6e6e6"/><stop offset="0.0556" stop-color="#cacaca"/><stop offset="0.0833" stop-color="#c8c8c8"/><stop offset="0.1111" stop-color="#c3c3c3"/><stop offset="0.1389" stop-color="#bbbbbb"/><stop offset="0.1667" stop-color="#b1b1b1"/><stop offset="0.1944" stop-color="#a9a9a9"/><stop offset="0.2222" stop-color="#a2a2a2"/><stop offset="0.2778" stop-color="#9b9b9b"/><stop offset="0.3333" stop-color="#9a9a9a"/><stop offset="0.3889" stop-color="#999999"/><stop offset="0.4444" stop-color="#989898"/><stop offset="0.5000" stop-color="#969696"/><stop offset="0.5556" stop-color="#949494"/><stop offset="0.6111" stop-color="#929292"/><stop offset="0.6667" stop-color="#909090"/><stop offset="0.7222" stop-color="#8d8d8d"/><stop offset="0.7778" stop-color="#8a8a8a"/><stop offset="0.8333" stop-color="#888888"/><stop offset="0.8889" stop-color="#7d7d7d"/><stop offset="0.9500" stop-color="#5c5c5c"/></linearGradient>
<linearGradient id="g2_41" gradientUnits="userSpaceOnUse" x1="1501.97" x2="2190.76" y1="0" y2="0"><stop offset="0.0000" stop-color="#f3f3f3"/><stop offset="0.0278" stop-color="#e6e6e6"/><stop offset="0.0556" stop-color="#cbcbcb"/><stop offset="0.0833" stop-color="#cacaca"/><stop offset="0.1111" stop-color="#c5c5c5"/><stop offset="0.1389" stop-color="#bcbcbc"/><stop offset="0.1667" stop-color="#b1b1b1"/><stop offset="0.1944" stop-color="#a8a8a8"/><stop offset="0.2222" stop-color="#a1a1a1"/><stop offset="0.2778" stop-color="#9a9a9a"/><stop offset="0.3333" stop-color="#989898"/><stop offset="0.3889" stop-color="#979797"/><stop offset="0.4444" stop-color="#959595"/><stop offset="0.5000" stop-color="#949494"/><stop offset="0.5556" stop-color="#929292"/><stop offset="0.6111" stop-color="#909090"/><stop offset="0.6667" stop-color="#8d8d8d"/><stop offset="0.7222" stop-color="#8b8b8b"/><stop offset="0.7778" stop-color="#848484"/><stop offset="0.8333" stop-color="#787878"/><stop offset="0.8889" stop-color="#626262"/><stop offset="0.9500" stop-color="#585858"/></linearGradient>
<linearGradient id="g2_42" gradientUnits="userSpaceOnUse" x1="1501.97" x2="2190.76" y1="0" y2="0"><stop offset="0.0000" stop-color="#f3f3f3"/><stop offset="0.0278" stop-color="#e7e7e7"/><stop offset="0.0556" stop-color="#cccccc"/><stop offset="0.0833" stop-color="#cbcbcb"/><stop offset="0.1111" stop-color="#c6c6c6"/><stop offset="0.1389" stop-color="#bcbcbc"/><stop offset="0.1667" stop-color="#b1b1b1"/><stop offset="0.1944" stop-color="#a8a8a8"/><stop offset="0.2222" stop-color="#a0a0a0"/><stop offset="0.2778" stop-color="#999999"/><stop offset="0.3333" stop-color="#969696"/><stop offset="0.3889" stop-color="#959595"/><stop offset="0.4444" stop-color="#939393"/><stop offset="0.5000" stop-color="#929292"/><stop offset="0.5556" stop-color="#909090"/><stop offset="0.6111" stop-color="#8e8e8e"/><stop offset="0.6667" stop-color="#898989"/><stop offset="0.7222" stop-color="#787878"/><stop offset="0.7778" stop-color="#696969"/><stop offset="0.8333" stop-color="#5c5c5c"/><stop offset="0.8889" stop-color="#575757"/><stop offset="0.9500" stop-color="#575757"/></linearGradient>
<linearGradient id="g2_43" gradientUnits="userSpaceOnUse" x1="1501.97" x2="2190.76" y1="0" y2="0"><stop offset="0.0000" stop-color="#f3f3f3"/><stop offset="0.0278" stop-color="#e8e8e8"/><stop offset="0.0556" stop-color="#cecece"/><stop offset="0.0833" stop-color="#cccccc"/><stop offset="0.1111" stop-color="#c7c7c7"/><stop offset="0.1389" stop-color="#bdbdbd"/><stop offset="0.1667" stop-color="#b2b2b2"/><stop offset="0.1944" stop-color="#a7a7a7"/><stop offset="0.2222" stop-color="#9f9f9f"/><stop offset="0.2778" stop-color="#989898"/><stop offset="0.3333" stop-color="#959595"/><stop offset="0.3889" stop-color="#939393"/><stop offset="0.4444" stop-color="#929292"/><stop offset="0.5000" stop-color="#909090"/><stop offset="0.5556" stop-color="#8d8d8d"/><stop offset="0.6111" stop-color="#7c7c7c"/><stop offset="0.6667" stop-color="#6c6c6c"/><stop offset="0.7222" stop-color="#5c5c5c"/><stop offset="0.7778" stop-color="#575757"/><stop offset="0.9500" stop-color="#575757"/></linearGradient>
<linearGradient id="g2_44" gradientUnits="userSpaceOnUse" x1="1501.97" x2="2190.76" y1="0" y2="0"><stop offset="0.0000" stop-color="#f3f3f3"/><stop offset="0.0278" stop-color="#e8e8e8"/><stop offset="0.0556" stop-color="#cfcfcf"/><stop offset="0.0833" stop-color="#cecece"/><stop offset="0.1111" stop-color="#c9c9c9"/><stop offset="0.1389" stop-color="#bebebe"/><stop offset="0.1667" stop-color="#b2b2b2"/><stop offset="0.1944" stop-color="#a7a7a7"/><stop offset="0.2222" stop-color="#9f9f9f"/><stop offset="0.2778" stop-color="#979797"/><stop offset="0.3333" stop-color="#949494"/><stop offset="0.3889" stop-color="#939393"/><stop offset="0.4444" stop-color="#919191"/><stop offset="0.5000" stop-color="#8f8f8f"/><stop offset="0.5556" stop-color="#707070"/><stop offset="0.6111" stop-color="#606060"/><stop offset="0.6667" stop-color="#575757"/><stop offset="0.8333" stop-color="#575757"/><stop offset="0.8889" stop-color="#565656"/><stop offset="0.9500" stop-color="#484848"/></linearGradient>
<linearGradient id="g2_45" gradientUnits="userSpaceOnUse" x1="1501.97" x2="2190.76" y1="0" y2="0"><stop offset="0.0000" stop-color="#f4f4f4"/><stop offset="0.0278" stop-color="#e9e9e9"/><stop offset="0.0556" stop-color="#cfcfcf"/><stop offset="0.0833" stop-color="#cfcfcf"/><stop offset="0.1111" stop-color="#cacaca"/><stop offset="0.1389" stop-color="#bfbfbf"/><stop offset="0.1667" stop-color="#b2b2b2"/><stop offset="0.1944" stop-color="#a7a7a7"/><stop offset="0.2222" stop-color="#9f9f9f"/><stop offset="0.2778" stop-color="#979797"/><stop offset="0.3333" stop-color="#949494"/><stop offset="0.3889" stop-color="#929292"/><stop offset="0.4444" stop-color="#909090"/><stop offset="0.5000" stop-color="#777777"/><stop offset="0.5556" stop-color="#575757"/><stop offset="0.7222" stop-color="#575757"/><stop offset="0.7778" stop-color="#565656"/><stop offset="0.8333" stop-color="#565656"/><stop offset="0.8889" stop-color="#4b4b4b"/><stop offset="0.9500" stop-color="#3a3a3a"/></linearGradient>
<linearGradient id="g2_46" gradientUnits="userSpaceOnUse" x1="1501.97" x2="2190.76" y1="0" y2="0"><stop offset="0.0000" stop-color="#f4f4f4"/><stop offset="0.0278" stop-color="#e9e9e9"/><stop offset="0.0556" stop-color="#d0d0d0"/><stop offset="0.0833" stop-color="#d0d0d0"/><stop offset="0.1111" stop-color="#cbcbcb"/><stop offset="0.1389" stop-color="#c0c0c0"/><stop offset="0.1667" stop-color="#b3b3b3"/><stop offset="0.1944" stop-color="#a7a7a7"/><stop offset="0.2222" stop-color="#9e9e9e"/><stop offset="0.2778" stop-color="#969696"/><stop offset="0.3333" stop-color="#949494"/><stop offset="0.3889" stop-color="#929292"/><stop offset="0.4444" stop-color="#828282"/><stop offset="0.5000" stop-color="#5b5b5b"/><stop offset="0.5556" stop-color="#565656"/><stop offset="0.6667" stop-color="#565656"/><stop offset="0.7222" stop-color="#545454"/><stop offset="0.7778" stop-color="#4d4d4d"/><stop offset="0.8333" stop-color="#474747"/><stop offset="0.8889" stop-color="#3c3c3c"/><stop offset="0.9500" stop-color="#2b2b2b"/></linearGradient>
<linearGradient id="g2_47" gradientUnits="userSpaceOnUse" x1="1501.97" x2="2190.76" y1="0" y2="0"><stop offset="0.0000" stop-color="#f4f4f4"/><stop offset="0.0278" stop-color="#e9e9e9"/><stop offset="0.0556" stop-color="#d0d0d0"/><stop offset="0.0833" stop-color="#d0d0d0"/><stop offset="0.1111" stop-color="#cbcbcb"/><stop offset="0.1389" stop-color="#c0c0c0"/><stop offset="0.1667" stop-color="#b3b3b3"/><stop offset="0.1944" stop-color="#a7a7a7"/><stop offset="0.2222" stop-color="#9e9e9e"/><stop offset="0.2778" stop-color="#969696"/><stop offset="0.3333" stop-color="#939393"/><stop offset="0.3889" stop-color="#868686"/><stop offset="0.4444" stop-color="#656565"/><stop offset="0.5000" stop-color="#565656"/><stop offset="0.5556" stop-color="#565656"/><stop offset="0.6111" stop-color="#555555"/><stop offset="0.6667" stop-color="#4d4d4d"/><stop offset="0.7222" stop-color="#454545"/><stop offset="0.7778" stop-color="#3e3e3e"/><stop offset="0.8333" stop-color="#393939"/><stop offset="0.8889" stop-color="#2e2e2e"/><stop offset="0.9500" stop-color="#1d1d1d"/></linearGradient>
<linearGradient id="g2_48" gradientUnits="userSpaceOnUse" x1="1501.97" x2="2190.76" y1="0" y2="0"><stop offset="0.0000" stop-color="#f4f4f4"/><stop offset="0.0278" stop-color="#e9e9e9"/><stop offset="0.0556" stop-color="#d1d1d1"/><stop offset="0.0833" stop-color="#d1d1d1"/><stop offset="0.1111" stop-color="#cccccc"/><stop offset="0.1389" stop-color="#c0c0c0"/><stop offset="0.1667" stop-color="#b3b3b3"/><stop offset="0.1944" stop-color="#a7a7a7"/><stop offset="0.2222" stop-color="#9e9e9e"/><stop offset="0.2778" stop-color="#969696"/><stop offset="0.3333" stop-color="#939393"/><stop offset="0.3889" stop-color="#696969"/><stop offset="0.4444" stop-color="#565656"/><stop offset="0.5000" stop-color="#565656"/><stop offset="0.5556" stop-color="#4e4e4e"/><stop offset="0.6111" stop-color="#474747"/><stop offset="0.6667" stop-color="#3f3f3f"/><stop offset="0.7222" stop-color="#373737"/><stop offset="0.7778" stop-color="#303030"/><stop offset="0.8333" stop-color="#2a2a2a"/><stop offset="0.8889" stop-color="#202020"/><stop offset="0.9500" stop-color="#0e0e0e"/></linearGradient>
<linearGradient id="g2_49" gradientUnits="userSpaceOnUse" x1="1501.97" x2="2190.76" y1="0" y2="0"><stop offset="0.0000" stop-color="#f4f4f4"/><stop offset="0.0278" stop-color="#e9e9e9"/><stop offset="0.0556" stop-color="#d0d0d0"/><stop offset="0.0833" stop-color="#d0d0d0"/><stop offset="0.1111" stop-color="#cbcbcb"/><stop offset="0.1389" stop-color="#c0c0c0"/><stop offset="0.1667" stop-color="#b3b3b3"/><stop offset="0.1944" stop-color="#a7a7a7"/><stop offset="0.2222" stop-color="#9e9e9e"/><stop offset="0.2778" stop-color="#969696"/><stop offset="0.3333" stop-color="#767676"/><stop offset="0.3889" stop-color="#565656"/><stop offset="0.4444" stop-color="#565656"/><stop offset="0.5000" stop-color="#525252"/><stop offset="0.5556" stop-color="#404040"/><stop offset="0.6111" stop-color="#383838"/><stop offset="0.6667" stop-color="#313131"/><stop offset="0.7222" stop-color="#292929"/><stop offset="0.7778" stop-color="#222222"/><stop offset="0.8333" stop-color="#1c1c1c"/><stop offset="0.8889" stop-color="#111111"/><stop offset="0.9500" stop-color="#000000"/></linearGradient>
<linearGradient id="g2_50" gradientUnits="userSpaceOnUse" x1="1501.97" x2="2190.76" y1="0" y2="0"><stop offset="0.0000" stop-color="#f4f4f4"/><stop offset="0.0278" stop-color="#e9e9e9"/><stop offset="0.0556" stop-color="#d0d0d0"/><stop offset="0.0833" stop-color="#d0d0d0"/><stop offset="0.1111" stop-color="#cbcbcb"/><stop offset="0.1389" stop-color="#c0c0c0"/><stop offset="0.1667" stop-color="#b3b3b3"/><stop offset="0.1944" stop-color="#a7a7a7"/><stop offset="0.2222" stop-color="#9e9e9e"/><stop offset="0.2778" stop-color="#969696"/><stop offset="0.3333" stop-color="#585858"/><stop offset="0.3889" stop-color="#565656"/><stop offset="0.4444" stop-color="#565656"/><stop offset="0.5000" stop-color="#434343"/><stop offset="0.5556" stop-color="#313131"/><stop offset="0.6111" stop-color="#2a2a2a"/><stop offset="0.6667" stop-color="#222222"/><stop offset="0.7222" stop-color="#1a1a1a"/><stop offset="0.7778" stop-color="#131313"/><stop offset="0.8333" stop-color="#0e0e0e"/><stop offset="0.8889" stop-color="#030303"/><stop offset="0.9500" stop-color="#000000"/></linearGradient>
<linearGradient id="g2_51" gradientUnits="userSpaceOnUse" x1="1501.97" x2="2190.76" y1="0" y2="0"><stop offset="0.0000" stop-color="#f3f3f3"/><stop offset="0.0278" stop-color="#e9e9e9"/><stop offset="0.0556" stop-color="#cfcfcf"/><stop offset="0.0833" stop-color="#cfcfcf"/><stop offset="0.1111" stop-color="#cacaca"/><stop offset="0.1389" stop-color="#bfbfbf"/><stop offset="0.1667" stop-color="#b2b2b2"/><stop offset="0.1944" stop-color="#a7a7a7"/><stop offset="0.2222" stop-color="#9e9e9e"/><stop offset="0.2778" stop-color="#878787"/><stop offset="0.3333" stop-color="#565656"/><stop offset="0.3889" stop-color="#565656"/><stop offset="0.4444" stop-color="#484848"/><stop offset="0.5000" stop-color="#353535"/><stop offset="0.5556" stop-color="#232323"/><stop offset="0.6111" stop-color="#1c1c1c"/><stop offset="0.6667" stop-color="#141414"/><stop offset="0.7222" stop-color="#0c0c0c"/><stop offset="0.7778" stop-color="#050505"/><stop offset="0.8333" stop-color="#000000"/><stop offset="0.9500" stop-color="#000000"/></linearGradient>
<linearGradient id="g2_52" gradientUnits="userSpaceOnUse" x1="1501.97" x2="2190.76" y1="0" y2="0"><stop offset="0.0000" stop-color="#f3f3f3"/><stop offset="0.0278" stop-color="#e8e8e8"/><stop offset="0.0556" stop-color="#cecece"/><stop offset="0.0833" stop-color="#cdcdcd"/><stop offset="0.1111" stop-color="#c8c8c8"/><stop offset="0.1389" stop-color="#bebebe"/><stop offset="0.1667" stop-color="#b1b1b1"/><stop offset="0.1944" stop-color="#a7a7a7"/><stop offset="0.2222" stop-color="#9e9e9e"/><stop offset="0.2778" stop-color="#696969"/><stop offset="0.3333" stop-color="#565656"/><stop offset="0.3889" stop-color="#494949"/><stop offset="0.4444" stop-color="#393939"/><stop offset="0.5000" stop-color="#272727"/><stop offset="0.5556" stop-color="#151515"/><stop offset="0.6111" stop-color="#0d0d0d"/><stop offset="0.6667" stop-color="#060606"/><stop offset="0.7222" stop-color="#000000"/><stop offset="0.9500" stop-color="#000000"/></linearGradient>
<linearGradient id="g2_53" gradientUnits="userSpaceOnUse" x1="1501.97" x2="2190.76" y1="0" y2="0"><stop offset="0.0000" stop-color="#f3f3f3"/><stop offset="0.0278" stop-color="#e7e7e7"/><stop offset="0.0556" stop-color="#cdcdcd"/><stop offset="0.0833" stop-color="#cccccc"/><stop offset="0.1111" stop-color="#c7c7c7"/><stop offset="0.1389" stop-color="#bdbdbd"/><stop offset="0.1667" stop-color="#b1b1b1"/><stop offset="0.1944" stop-color="#a6a6a6"/><stop offset="0.2222" stop-color="#9e9e9e"/><stop offset="0.2778" stop-color="#565656"/><stop offset="0.3333" stop-color="#4f4f4f"/><stop offset="0.3889" stop-color="#3b3b3b"/><stop offset="0.4444" stop-color="#2b2b2b"/><stop offset="0.5000" stop-color="#181818"/><stop offset="0.5556" stop-color="#060606"/><stop offset="0.6111" stop-color="#000000"/><stop offset="0.9500" stop-color="#000000"/></linearGradient>
<linearGradient id="g2_54" gradientUnits="userSpaceOnUse" x1="1501.97" x2="2190.76" y1="0" y2="0"><stop offset="0.0000" stop-color="#f2f2f2"/><stop offset="0.0278" stop-color="#e7e7e7"/><stop offset="0.0556" stop-color="#cccccc"/><stop offset="0.0833" stop-color="#cacaca"/><stop offset="0.1111" stop-color="#c5c5c5"/><stop offset="0.1389" stop-color="#bbbbbb"/><stop offset="0.1667" stop-color="#b0b0b0"/><stop offset="0.1944" stop-color="#a6a6a6"/><stop offset="0.2222" stop-color="#9e9e9e"/><stop offset="0.2778" stop-color="#565656"/><stop offset="0.3333" stop-color="#414141"/><stop offset="0.3889" stop-color="#2d2d2d"/><stop offset="0.4444" stop-color="#1d1d1d"/><stop offset="0.5000" stop-color="#0a0a0a"/><stop offset="0.5556" stop-color="#000000"/><stop offset="0.9500" stop-color="#000000"/></linearGradient>
<linearGradient id="g2_55" gradientUnits="userSpaceOnUse" x1="1501.97" x2="2190.76" y1="0" y2="0"><stop offset="0.0000" stop-color="#f2f2f2"/><stop offset="0.0278" stop-color="#e6e6e6"/><stop offset="0.0556" stop-color="#cacaca"/><stop offset="0.0833" stop-color="#c8c8c8"/><stop offset="0.1111" stop-color="#c3c3c3"/><stop offset="0.1389" stop-color="#bababa"/><stop offset="0.1667" stop-color="#afafaf"/><stop offset="0.1944" stop-color="#a5a5a5"/><stop offset="0.2222" stop-color="#8e8e8e"/><stop offset="0.2778" stop-color="#565656"/><stop offset="0.3333" stop-color="#323232"/><stop offset="0.3889" stop-color="#1e1e1e"/><stop offset="0.4444" stop-color="#0e0e0e"/><stop offset="0.5000" stop-color="#000000"/><stop offset="0.9500" stop-color="#000000"/></linearGradient>
<linearGradient id="g2_56" gradientUnits="userSpaceOnUse" x1="1501.97" x2="2190.76" y1="0" y2="0"><stop offset="0.0000" stop-color="#f1f1f1"/><stop offset="0.0278" stop-color="#e4e4e4"/><stop offset="0.0556" stop-color="#c8c8c8"/><stop offset="0.0833" stop-color="#c5c5c5"/><stop offset="0.1111" stop-color="#c0c0c0"/><stop offset="0.1389" stop-color="#b7b7b7"/><stop offset="0.1667" stop-color="#adadad"/><stop offset="0.1944" stop-color="#a5a5a5"/><stop offset="0.2222" stop-color="#575757"/><stop offset="0.2778" stop-color="#3d3d3d"/><stop offset="0.3333" stop-color="#191919"/><stop offset="0.3889" stop-color="#050505"/><stop offset="0.4444" stop-color="#000000"/><stop offset="0.9500" stop-color="#000000"/></linearGradient>
<linearGradient id="g2_57" gradientUnits="userSpaceOnUse" x1="1501.97" x2="2190.76" y1="0" y2="0"><stop offset="0.0000" stop-color="#f1f1f1"/><stop offset="0.0278" stop-color="#e2e2e2"/><stop offset="0.0556" stop-color="#c5c5c5"/><stop offset="0.0833" stop-color="#c1c1c1"/><stop offset="0.1111" stop-color="#bcbcbc"/><stop offset="0.1389" stop-color="#b4b4b4"/><stop offset="0.1667" stop-color="#ababab"/><stop offset="0.1944" stop-color="#6b6b6b"/><stop offset="0.2222" stop-color="#535353"/><stop offset="0.2778" stop-color="#191919"/><stop offset="0.3333" stop-color="#000000"/><stop offset="0.9500" stop-color="#000000"/></linearGradient>
<linearGradient id="g2_58" gradientUnits="userSpaceOnUse" x1="1501.97" x2="2190.76" y1="0" y2="0"><stop offset="0.0000" stop-color="#f0f0f0"/><stop offset="0.0278" stop-color="#e1e1e1"/><stop offset="0.0556" stop-color="#c2c2c2"/><stop offset="0.0833" stop-color="#bebebe"/><stop offset="0.1111" stop-color="#b8b8b8"/><stop offset="0.1389" stop-color="#b1b1b1"/><stop offset="0.1667" stop-color="#808080"/><stop offset="0.1944" stop-color="#575757"/><stop offset="0.2222" stop-color="#2f2f2f"/><stop offset="0.2778" stop-color="#000000"/><stop offset="0.9500" stop-color="#000000"/></linearGradient>
<linearGradient id="g2_59" gradientUnits="userSpaceOnUse" x1="1501.97" x2="2190.76" y1="0" y2="0"><stop offset="0.0000" stop-color="#f0f0f0"/><stop offset="0.0278" stop-color="#e0e0e0"/><stop offset="0.0556" stop-color="#c1c1c1"/><stop offset="0.0833" stop-color="#bcbcbc"/><stop offset="0.1111" stop-color="#b6b6b6"/><stop offset="0.1389" stop-color="#9e9e9e"/><stop offset="0.1667" stop-color="#575757"/><stop offset="0.1944" stop-color="#363636"/><stop offset="0.2222" stop-color="#0b0b0b"/><stop offset="0.2778" stop-color="#000000"/><stop offset="0.9500" stop-color="#000000"/></linearGradient>
<linearGradient id="g2_60" gradientUnits="userSpaceOnUse" x1="1501.97" x2="2190.76" y1="0" y2="0"><stop offset="0.0000" stop-color="#efefef"/><stop offset="0.0278" stop-color="#e0e0e0"/><stop offset="0.0556" stop-color="#c0c0c0"/><stop offset="0.0833" stop-color="#bbbbbb"/><stop offset="0.1111" stop-color="#b5b5b5"/><stop offset="0.1389" stop-color="#575757"/><stop offset="0.1667" stop-color="#3d3d3d"/><stop offset="0.1944" stop-color="#121212"/><stop offset="0.2222" stop-color="#000000"/><stop offset="0.9500" stop-color="#000000"/></linearGradient>
<linearGradient id="g2_61" gradientUnits="userSpaceOnUse" x1="1501.97" x2="2190.76" y1="0" y2="0"><stop offset="0.0000" stop-color="#efefef"/><stop offset="0.0278" stop-color="#dfdfdf"/><stop offset="0.0556" stop-color="#c0c0c0"/><stop offset="0.0833" stop-color="#bababa"/><stop offset="0.1111" stop-color="#636363"/><stop offset="0.1389" stop-color="#484848"/><stop offset="0.1667" stop-color="#191919"/><stop offset="0.1944" stop-color="#000000"/><stop offset="0.9500" stop-color="#000000"/></linearGradient>
<linearGradient id="g2_62" gradientUnits="userSpaceOnUse" x1="1501.97" x2="2190.76" y1="0" y2="0"><stop offset="0.0000" stop-color="#efefef"/><stop offset="0.0278" stop-color="#dfdfdf"/><stop offset="0.0556" stop-color="#bfbfbf"/><stop offset="0.0833" stop-color="#959595"/><stop offset="0.1111" stop-color="#535353"/><stop offset="0.1389" stop-color="#242424"/><stop offset="0.1667" stop-color="#000000"/><stop offset="0.9500" stop-color="#000000"/></linearGradient>
<linearGradient id="g2_63" gradientUnits="userSpaceOnUse" x1="1501.97" x2="2190.76" y1="0" y2="0"><stop offset="0.0000" stop-color="#efefef"/><stop offset="0.0278" stop-color="#dfdfdf"/><stop offset="0.0556" stop-color="#bfbfbf"/><stop offset="0.0833" stop-color="#565656"/><stop offset="0.1111" stop-color="#2f2f2f"/><stop offset="0.1389" stop-color="#000000"/><stop offset="0.9500" stop-color="#000000"/></linearGradient>
<linearGradient id="g2_64" gradientUnits="userSpaceOnUse" x1="1501.97" x2="2190.76" y1="0" y2="0"><stop offset="0.0000" stop-color="#efefef"/><stop offset="0.0278" stop-color="#dfdfdf"/><stop offset="0.0556" stop-color="#696969"/><stop offset="0.0833" stop-color="#414141"/><stop offset="0.1111" stop-color="#0b0b0b"/><stop offset="0.1389" stop-color="#000000"/><stop offset="0.9500" stop-color="#000000"/></linearGradient>
<linearGradient id="g2_65" gradientUnits="userSpaceOnUse" x1="1501.97" x2="2190.76" y1="0" y2="0"><stop offset="0.0000" stop-color="#efefef"/><stop offset="0.0278" stop-color="#dfdfdf"/><stop offset="0.0556" stop-color="#525252"/><stop offset="0.0833" stop-color="#1d1d1d"/><stop offset="0.1111" stop-color="#000000"/><stop offset="0.9500" stop-color="#000000"/></linearGradient>
</defs>
<g filter="url(#hf2)">
<rect x="1484.1" y="15.2" width="702.1" height="714.1" fill="#000"/>
<path d="M1501.97,699.30 L2190.76,699.30 L2190.76,680.00Z" fill="url(#g2_0)"/>
<path d="M1501.97,699.30 L2190.76,682.07 L2190.76,662.77Z" fill="url(#g2_1)"/>
<path d="M1501.97,699.30 L2190.76,664.84 L2190.76,645.54Z" fill="url(#g2_2)"/>
<path d="M1501.97,699.30 L2190.76,647.60 L2190.76,628.30Z" fill="url(#g2_3)"/>
<path d="M1501.97,699.30 L2190.76,630.37 L2190.76,611.07Z" fill="url(#g2_4)"/>
<path d="M1501.97,699.30 L2190.76,613.14 L2190.76,593.84Z" fill="url(#g2_5)"/>
<path d="M1501.97,699.30 L2190.76,595.91 L2190.76,576.61Z" fill="url(#g2_6)"/>
<path d="M1501.97,699.30 L2190.76,578.68 L2190.76,559.38Z" fill="url(#g2_7)"/>
<path d="M1501.97,699.30 L2190.76,561.45 L2190.76,552.48Z" fill="url(#g2_8)"/>
<path d="M1501.97,699.30 L2190.76,554.55 L2190.76,545.59Z" fill="url(#g2_9)"/>
<path d="M1501.97,699.30 L2190.76,547.66 L2190.76,538.70Z" fill="url(#g2_10)"/>
<path d="M1501.97,699.30 L2190.76,540.77 L2190.76,531.81Z" fill="url(#g2_11)"/>
<path d="M1501.97,699.30 L2190.76,533.87 L2190.76,524.91Z" fill="url(#g2_12)"/>
<path d="M1501.97,699.30 L2190.76,526.98 L2190.76,518.02Z" fill="url(#g2_13)"/>
<path d="M1501.97,699.30 L2190.76,520.09 L2190.76,511.13Z" fill="url(#g2_14)"/>
<path d="M1501.97,699.30 L2190.76,513.20 L2190.76,504.24Z" fill="url(#g2_15)"/>
<path d="M1501.97,699.30 L2190.76,506.30 L2190.76,497.34Z" fill="url(#g2_16)"/>
<path d="M1501.97,699.30 L2190.76,499.41 L2190.76,490.45Z" fill="url(#g2_17)"/>
<path d="M1501.97,699.30 L2190.76,492.52 L2190.76,483.56Z" fill="url(#g2_18)"/>
<path d="M1501.97,699.30 L2190.76,485.63 L2190.76,476.66Z" fill="url(#g2_19)"/>
<path d="M1501.97,699.30 L2190.76,478.73 L2190.76,469.77Z" fill="url(#g2_20)"/>
<path d="M1501.97,699.30 L2190.76,471.84 L2190.76,462.88Z" fill="url(#g2_21)"/>
<path d="M1501.97,699.30 L2190.76,464.95 L2190.76,455.99Z" fill="url(#g2_22)"/>
<path d="M1501.97,699.30 L2190.76,458.05 L2190.76,449.09Z" fill="url(#g2_23)"/>
<path d="M1501.97,699.30 L2190.76,451.16 L2190.76,435.31Z" fill="url(#g2_24)"/>
<path d="M1501.97,699.30 L2190.76,437.38 L2190.76,421.52Z" fill="url(#g2_25)"/>
<path d="M1501.97,699.30 L2190.76,423.59 L2190.76,407.74Z" fill="url(#g2_26)"/>
<path d="M1501.97,699.30 L2190.76,409.80 L2190.76,393.95Z" fill="url(#g2_27)"/>
<path d="M1501.97,699.30 L2190.76,396.02 L2190.76,380.17Z" fill="url(#g2_28)"/>
<path d="M1501.97,699.30 L2190.76,382.23 L2190.76,366.38Z" fill="url(#g2_29)"/>
<path d="M1501.97,699.30 L2190.76,368.45 L2190.76,352.60Z" fill="url(#g2_30)"/>
<path d="M1501.97,699.30 L2190.76,354.66 L2190.76,338.81Z" fill="url(#g2_31)"/>
<path d="M1501.97,699.30 L2190.76,340.88 L2190.76,325.02Z" fill="url(#g2_32)"/>
<path d="M1501.97,699.30 L2190.76,327.09 L2190.76,311.24Z" fill="url(#g2_33)"/>
<path d="M1501.97,699.30 L2190.76,313.31 L2190.76,297.45Z" fill="url(#g2_34)"/>
<path d="M1501.97,699.30 L2190.76,299.52 L2190.76,283.67Z" fill="url(#g2_35)"/>
<path d="M1501.97,699.30 L2190.76,285.74 L2190.76,269.88Z" fill="url(#g2_36)"/>
<path d="M1501.97,699.30 L2190.76,271.95 L2190.76,256.10Z" fill="url(#g2_37)"/>
<path d="M1501.97,699.30 L2190.76,258.16 L2190.76,242.31Z" fill="url(#g2_38)"/>
<path d="M1501.97,699.30 L2190.76,244.38 L2190.76,228.53Z" fill="url(#g2_39)"/>
<path d="M1501.97,699.30 L2190.76,230.59 L2190.76,214.74Z" fill="url(#g2_40)"/>
<path d="M1501.97,699.30 L2190.76,216.81 L2190.76,200.95Z" fill="url(#g2_41)"/>
<path d="M1501.97,699.30 L2190.76,203.02 L2190.76,187.17Z" fill="url(#g2_42)"/>
<path d="M1501.97,699.30 L2190.76,189.24 L2190.76,173.38Z" fill="url(#g2_43)"/>
<path d="M1501.97,699.30 L2190.76,175.45 L2190.76,159.60Z" fill="url(#g2_44)"/>
<path d="M1501.97,699.30 L2190.76,161.67 L2190.76,145.81Z" fill="url(#g2_45)"/>
<path d="M1501.97,699.30 L2190.76,147.88 L2190.76,132.03Z" fill="url(#g2_46)"/>
<path d="M1501.97,699.30 L2190.76,134.10 L2190.76,118.24Z" fill="url(#g2_47)"/>
<path d="M1501.97,699.30 L2190.76,120.31 L2190.76,104.46Z" fill="url(#g2_48)"/>
<path d="M1501.97,699.30 L2190.76,106.52 L2190.76,90.67Z" fill="url(#g2_49)"/>
<path d="M1501.97,699.30 L2190.76,92.74 L2190.76,76.89Z" fill="url(#g2_50)"/>
<path d="M1501.97,699.30 L2190.76,78.95 L2190.76,63.10Z" fill="url(#g2_51)"/>
<path d="M1501.97,699.30 L2190.76,65.17 L2190.76,49.31Z" fill="url(#g2_52)"/>
<path d="M1501.97,699.30 L2190.76,51.38 L2190.76,35.53Z" fill="url(#g2_53)"/>
<path d="M1501.97,699.30 L2190.76,37.60 L2190.76,21.74Z" fill="url(#g2_54)"/>
<path d="M1501.97,699.30 L2190.76,23.81 L2190.76,7.96Z" fill="url(#g2_55)"/>
<path d="M1501.97,699.30 L2190.76,10.03 L2190.76,-26.51Z" fill="url(#g2_56)"/>
<path d="M1501.97,699.30 L2190.76,-24.44 L2190.76,-60.97Z" fill="url(#g2_57)"/>
<path d="M1501.97,699.30 L2190.76,-58.90 L2190.76,-95.43Z" fill="url(#g2_58)"/>
<path d="M1501.97,699.30 L2190.76,-93.37 L2190.76,-129.90Z" fill="url(#g2_59)"/>
<path d="M1501.97,699.30 L2190.76,-127.83 L2190.76,-164.36Z" fill="url(#g2_60)"/>
<path d="M1501.97,699.30 L2190.76,-162.29 L2190.76,-198.82Z" fill="url(#g2_61)"/>
<path d="M1501.97,699.30 L2190.76,-196.76 L2190.76,-233.29Z" fill="url(#g2_62)"/>
<path d="M1501.97,699.30 L2190.76,-231.22 L2190.76,-267.75Z" fill="url(#g2_63)"/>
<path d="M1501.97,699.30 L2190.76,-265.68 L2190.76,-302.22Z" fill="url(#g2_64)"/>
<path d="M1501.97,699.30 L2190.76,-300.15 L2190.76,-336.68Z" fill="url(#g2_65)"/>
</g></g>
<g clip-path="url(#clip2)" fill="none" stroke-width="4.65">
<path d="M1501.97,697.77 L2152.11,48.47" stroke="#0000ff" stroke-dasharray="17.21 7.44"/>
<path d="M1501.97,630.27 L1505.22,630.18 L1508.47,629.92 L1511.72,629.49 L1514.97,628.89 L1518.22,628.13 L1521.47,627.22 L1524.72,626.16 L1527.98,624.95 L1531.23,623.62 L1534.48,622.17 L1537.73,620.60 L1540.98,618.92 L1544.23,617.14 L1547.48,615.28 L1550.73,613.33 L1553.98,611.30 L1557.23,609.20 L1560.48,607.03 L1563.73,604.80 L1566.98,602.52 L1570.23,600.18 L1573.49,597.80 L1576.74,595.37 L1579.99,592.89 L1583.24,590.39 L1586.49,587.84 L1589.74,585.26 L1592.99,582.65 L1596.24,580.01 L1599.49,577.35 L1602.74,574.65 L1605.99,571.94 L1609.24,569.20 L1612.49,566.44 L1615.74,563.66 L1618.99,560.87 L1622.25,558.05 L1625.50,555.22 L1628.75,552.37 L1632.00,549.51 L1635.25,546.63 L1638.50,543.75 L1641.75,540.84 L1645.00,537.93 L1648.25,535.00 L1651.50,532.07 L1654.75,529.12 L1658.00,526.16 L1661.25,523.20 L1664.50,520.22 L1667.76,517.24 L1671.01,514.24 L1674.26,511.24 L1677.51,508.24 L1680.76,505.22 L1684.01,502.20 L1687.26,499.17 L1690.51,496.14 L1693.76,493.10 L1697.01,490.05 L1700.26,487.00 L1703.51,483.94 L1706.76,480.88 L1710.01,477.81 L1713.26,474.74 L1716.52,471.66 L1719.77,468.58 L1723.02,465.49 L1726.27,462.40 L1729.52,459.31 L1732.77,456.21 L1736.02,453.11 L1739.27,450.01 L1742.52,446.90 L1745.77,443.78 L1749.02,440.67 L1752.27,437.55 L1755.52,434.43 L1758.77,431.31 L1762.03,428.18 L1765.28,425.05 L1768.53,421.92 L1771.78,418.78 L1775.03,415.64 L1778.28,412.50 L1781.53,409.36 L1784.78,406.22 L1788.03,403.07 L1791.28,399.92 L1794.53,396.77 L1797.78,393.62 L1801.03,390.46 L1804.28,387.30 L1807.54,384.15 L1810.79,380.98 L1814.04,377.82 L1817.29,374.66 L1820.54,371.49 L1823.79,368.32 L1827.04,365.16 L1830.29,361.99 L1833.54,358.81 L1836.79,355.64 L1840.04,352.47 L1843.29,349.29 L1846.54,346.11 L1849.79,342.93 L1853.04,339.75 L1856.30,336.57 L1859.55,333.39 L1862.80,330.20 L1866.05,327.02 L1869.30,323.83 L1872.55,320.65 L1875.80,317.46 L1879.05,314.27 L1882.30,311.08 L1885.55,307.89 L1888.80,304.70 L1892.05,301.50 L1895.30,298.31 L1898.55,295.11 L1901.81,291.92 L1905.06,288.72 L1908.31,285.52 L1911.56,282.32 L1914.81,279.13 L1918.06,275.93 L1921.31,272.72 L1924.56,269.52 L1927.81,266.32 L1931.06,263.12 L1934.31,259.91 L1937.56,256.71 L1940.81,253.50 L1944.06,250.30 L1947.32,247.09 L1950.57,243.89 L1953.82,240.68 L1957.07,237.47 L1960.32,234.26 L1963.57,231.05 L1966.82,227.84 L1970.07,224.63 L1973.32,221.42 L1976.57,218.21 L1979.82,214.99 L1983.07,211.78 L1986.32,208.57 L1989.57,205.35 L1992.82,202.14 L1996.08,198.92 L1999.33,195.71 L2002.58,192.49 L2005.83,189.28 L2009.08,186.06 L2012.33,182.84 L2015.58,179.63 L2018.83,176.41 L2022.08,173.19 L2025.33,169.97 L2028.58,166.75 L2031.83,163.53 L2035.08,160.31 L2038.33,157.09 L2041.59,153.87 L2044.84,150.65 L2048.09,147.43 L2051.34,144.21 L2054.59,140.98 L2057.84,137.76 L2061.09,134.54 L2064.34,131.31 L2067.59,128.09 L2070.84,124.87 L2074.09,121.64 L2077.34,118.42 L2080.59,115.19 L2083.84,111.97 L2087.10,108.74 L2090.35,105.52 L2093.60,102.29 L2096.85,99.06 L2100.10,95.84 L2103.35,92.61 L2106.60,89.38 L2109.85,86.16 L2113.10,82.93 L2116.35,79.70 L2119.60,76.47 L2122.85,73.24 L2126.10,70.01 L2129.35,66.79 L2132.60,63.56 L2135.86,60.33 L2139.11,57.10 L2142.36,53.87 L2145.61,50.64 L2148.86,47.41 L2152.11,44.18" stroke="#ffa500" stroke-linecap="square"/>
<path d="M1501.97,699.30 L1505.22,697.49 L1508.47,695.69 L1511.72,693.87 L1514.97,692.04 L1518.22,690.20 L1521.47,688.35 L1524.72,686.48 L1527.98,684.58 L1531.23,682.67 L1534.48,680.74 L1537.73,678.79 L1540.98,676.82 L1544.23,674.82 L1547.48,672.81 L1550.73,670.78 L1553.98,668.74 L1557.23,666.68 L1560.48,664.60 L1563.73,662.51 L1566.98,660.41 L1570.23,658.29 L1573.49,656.17 L1576.74,654.03 L1579.99,651.89 L1583.24,649.74 L1586.49,647.58 L1589.74,645.42 L1592.99,643.24 L1596.24,641.07 L1599.49,638.89 L1602.74,636.71 L1605.99,634.52 L1609.24,632.33 L1612.49,630.13 L1615.74,627.94 L1618.99,625.74 L1622.25,623.54 L1625.50,621.34 L1628.75,619.13 L1632.00,616.93 L1635.25,614.72 L1638.50,612.52 L1641.75,610.31 L1645.00,608.10 L1648.25,605.90 L1651.50,603.69 L1654.75,601.48 L1658.00,599.27 L1661.25,597.06 L1664.50,594.85 L1667.76,592.65 L1671.01,590.44 L1674.26,588.23 L1677.51,586.02 L1680.76,583.81 L1684.01,581.61 L1687.26,579.40 L1690.51,577.19 L1693.76,574.99 L1697.01,572.78 L1700.26,570.58 L1703.51,568.37 L1706.76,566.17 L1710.01,563.96 L1713.26,561.76 L1716.52,559.56 L1719.77,557.36 L1723.02,555.15 L1726.27,552.95 L1729.52,550.75 L1732.77,548.55 L1736.02,546.35 L1739.27,544.15 L1742.52,541.95 L1745.77,539.75 L1749.02,537.55 L1752.27,535.35 L1755.52,533.16 L1758.77,530.96 L1762.03,528.76 L1765.28,526.57 L1768.53,524.37 L1771.78,522.18 L1775.03,519.98 L1778.28,517.79 L1781.53,515.59 L1784.78,513.40 L1788.03,511.20 L1791.28,509.01 L1794.53,506.82 L1797.78,504.63 L1801.03,502.43 L1804.28,500.24 L1807.54,498.05 L1810.79,495.86 L1814.04,493.67 L1817.29,491.48 L1820.54,489.29 L1823.79,487.10 L1827.04,484.91 L1830.29,482.72 L1833.54,480.53 L1836.79,478.34 L1840.04,476.15 L1843.29,473.97 L1846.54,471.78 L1849.79,469.59 L1853.04,467.40 L1856.30,465.22 L1859.55,463.03 L1862.80,460.84 L1866.05,458.66 L1869.30,456.47 L1872.55,454.29 L1875.80,452.10 L1879.05,449.92 L1882.30,447.73 L1885.55,445.55 L1888.80,443.36 L1892.05,441.18 L1895.30,438.99 L1898.55,436.81 L1901.81,434.63 L1905.06,432.44 L1908.31,430.26 L1911.56,428.08 L1914.81,425.89 L1918.06,423.71 L1921.31,421.53 L1924.56,419.35 L1927.81,417.16 L1931.06,414.98 L1934.31,412.80 L1937.56,410.62 L1940.81,408.44 L1944.06,406.25 L1947.32,404.07 L1950.57,401.89 L1953.82,399.71 L1957.07,397.53 L1960.32,395.35 L1963.57,393.17 L1966.82,390.99 L1970.07,388.81 L1973.32,386.63 L1976.57,384.45 L1979.82,382.27 L1983.07,380.09 L1986.32,377.91 L1989.57,375.73 L1992.82,373.55 L1996.08,371.37 L1999.33,369.19 L2002.58,367.02 L2005.83,364.84 L2009.08,362.66 L2012.33,360.48 L2015.58,358.30 L2018.83,356.12 L2022.08,353.94 L2025.33,351.77 L2028.58,349.59 L2031.83,347.41 L2035.08,345.23 L2038.33,343.06 L2041.59,340.88 L2044.84,338.70 L2048.09,336.52 L2051.34,334.35 L2054.59,332.17 L2057.84,329.99 L2061.09,327.81 L2064.34,325.64 L2067.59,323.46 L2070.84,321.28 L2074.09,319.11 L2077.34,316.93 L2080.59,314.75 L2083.84,312.58 L2087.10,310.40 L2090.35,308.23 L2093.60,306.05 L2096.85,303.87 L2100.10,301.70 L2103.35,299.52 L2106.60,297.34 L2109.85,295.17 L2113.10,292.99 L2116.35,290.82 L2119.60,288.64 L2122.85,286.47 L2126.10,284.29 L2129.35,282.12 L2132.60,279.94 L2135.86,277.76 L2139.11,275.59 L2142.36,273.41 L2145.61,271.24 L2148.86,269.06 L2152.11,266.89" stroke="#008000" stroke-dasharray="29.76 7.44 4.65 7.44"/>
<path d="M1501.97,688.11 L1505.22,688.09 L1508.47,688.03 L1511.72,687.94 L1514.97,687.82 L1518.22,687.66 L1521.47,687.48 L1524.72,687.26 L1527.98,687.01 L1531.23,686.73 L1534.48,686.43 L1537.73,686.11 L1540.98,685.76 L1544.23,685.40 L1547.48,685.01 L1550.73,684.61 L1553.98,684.19 L1557.23,683.76 L1560.48,683.31 L1563.73,682.86 L1566.98,682.39 L1570.23,681.90 L1573.49,681.41 L1576.74,680.92 L1579.99,680.41 L1583.24,679.89 L1586.49,679.37 L1589.74,678.85 L1592.99,678.31 L1596.24,677.77 L1599.49,677.23 L1602.74,676.68 L1605.99,676.13 L1609.24,675.57 L1612.49,675.01 L1615.74,674.45 L1618.99,673.88 L1622.25,673.31 L1625.50,672.73 L1628.75,672.16 L1632.00,671.58 L1635.25,671.00 L1638.50,670.41 L1641.75,669.83 L1645.00,669.24 L1648.25,668.65 L1651.50,668.06 L1654.75,667.47 L1658.00,666.87 L1661.25,666.28 L1664.50,665.68 L1667.76,665.08 L1671.01,664.48 L1674.26,663.88 L1677.51,663.28 L1680.76,662.68 L1684.01,662.07 L1687.26,661.47 L1690.51,660.86 L1693.76,660.25 L1697.01,659.65 L1700.26,659.04 L1703.51,658.43 L1706.76,657.82 L1710.01,657.21 L1713.26,656.60 L1716.52,655.98 L1719.77,655.37 L1723.02,654.76 L1726.27,654.14 L1729.52,653.53 L1732.77,652.91 L1736.02,652.30 L1739.27,651.68 L1742.52,651.07 L1745.77,650.45 L1749.02,649.83 L1752.27,649.21 L1755.52,648.60 L1758.77,647.98 L1762.03,647.36 L1765.28,646.74 L1768.53,646.12 L1771.78,645.50 L1775.03,644.88 L1778.28,644.26 L1781.53,643.64 L1784.78,643.02 L1788.03,642.40 L1791.28,641.77 L1794.53,641.15 L1797.78,640.53 L1801.03,639.91 L1804.28,639.28 L1807.54,638.66 L1810.79,638.04 L1814.04,637.41 L1817.29,636.79 L1820.54,636.17 L1823.79,635.54 L1827.04,634.92 L1830.29,634.29 L1833.54,633.67 L1836.79,633.04 L1840.04,632.42 L1843.29,631.79 L1846.54,631.17 L1849.79,630.54 L1853.04,629.92 L1856.30,629.29 L1859.55,628.67 L1862.80,628.04 L1866.05,627.41 L1869.30,626.79 L1872.55,626.16 L1875.80,625.53 L1879.05,624.91 L1882.30,624.28 L1885.55,623.65 L1888.80,623.03 L1892.05,622.40 L1895.30,621.77 L1898.55,621.15 L1901.81,620.52 L1905.06,619.89 L1908.31,619.26 L1911.56,618.63 L1914.81,618.01 L1918.06,617.38 L1921.31,616.75 L1924.56,616.12 L1927.81,615.49 L1931.06,614.87 L1934.31,614.24 L1937.56,613.61 L1940.81,612.98 L1944.06,612.35 L1947.32,611.72 L1950.57,611.09 L1953.82,610.46 L1957.07,609.84 L1960.32,609.21 L1963.57,608.58 L1966.82,607.95 L1970.07,607.32 L1973.32,606.69 L1976.57,606.06 L1979.82,605.43 L1983.07,604.80 L1986.32,604.17 L1989.57,603.54 L1992.82,602.91 L1996.08,602.28 L1999.33,601.65 L2002.58,601.02 L2005.83,600.39 L2009.08,599.76 L2012.33,599.13 L2015.58,598.50 L2018.83,597.87 L2022.08,597.24 L2025.33,596.61 L2028.58,595.98 L2031.83,595.35 L2035.08,594.72 L2038.33,594.09 L2041.59,593.46 L2044.84,592.83 L2048.09,592.20 L2051.34,591.57 L2054.59,590.94 L2057.84,590.31 L2061.09,589.68 L2064.34,589.05 L2067.59,588.42 L2070.84,587.79 L2074.09,587.15 L2077.34,586.52 L2080.59,585.89 L2083.84,585.26 L2087.10,584.63 L2090.35,584.00 L2093.60,583.37 L2096.85,582.74 L2100.10,582.11 L2103.35,581.48 L2106.60,580.84 L2109.85,580.21 L2113.10,579.58 L2116.35,578.95 L2119.60,578.32 L2122.85,577.69 L2126.10,577.06 L2129.35,576.43 L2132.60,575.79 L2135.86,575.16 L2139.11,574.53 L2142.36,573.90 L2145.61,573.27 L2148.86,572.64 L2152.11,572.01" stroke="#1f77b4" stroke-linecap="square"/>
<path d="M1514.10,469.54 L2156.25,469.54" stroke="#ff0000" stroke-opacity="0.8" stroke-dasharray="17.21 7.44"/>
</g>
<rect x="1514.10" y="45.2" width="642.15" height="654.10" fill="none" stroke="#000" stroke-width="2.45"/>
<path d="M1693.30,699.3 v11.2 M1884.63,699.3 v11.2 M2075.96,699.3 v11.2 M1514.10,699.30 h-11.2 M1514.10,603.57 h-11.2 M1514.10,507.83 h-11.2 M1514.10,412.10 h-11.2 M1514.10,316.37 h-11.2 M1514.10,220.64 h-11.2 M1514.10,124.90 h-11.2" stroke="#000" stroke-width="2.3" fill="none"/>
<text transform="translate(1672.77,746.85) scale(0.9926,1.0196)" font-size="37.5">50</text>
<text transform="translate(1853.89,746.85) scale(0.9650,1.0196)" font-size="37.5">100</text>
<text transform="translate(2044.39,746.85) scale(0.9767,1.0196)" font-size="37.5">150</text>
<text transform="translate(1799.00,26.00) scale(0.9992,1.0200)" font-size="37.5">NL3</text>
<text transform="translate(1818.36,791.90) scale(1.0400,1.0231)" font-size="37.5" font-style="italic">k</text>
<text transform="translate(1837.88,797.40) scale(1.1000,0.8735)" font-size="26.2" font-style="italic">z</text>
</g>
<g transform="translate(28.3,445) rotate(-90)">
<text transform="translate(-0.89,0.36) scale(0.9489,0.9500)" font-size="37.5" font-style="italic">ω</text>
<text transform="translate(26.46,0.15) scale(0.9368,1.0941)" font-size="37.5">(</text>
<text transform="translate(39.78,0.00) scale(1.0154,1.0077)" font-size="37.5" font-style="italic">k</text>
<text transform="translate(58.38,5.90) scale(1.1400,0.9306)" font-size="26.2" font-style="italic">z</text>
<text transform="translate(73.68,0.15) scale(0.8947,1.0941)" font-size="37.5">)</text>
<text transform="translate(89.20,8.23) scale(1.3561,1.4614)" font-size="37.5">/</text>
<text transform="translate(106.20,-0.20) scale(1.2046,1.0505)" font-size="37.5" font-style="italic">B</text>
<text transform="translate(133.01,5.66) scale(0.9909,0.9611)" font-size="26.2">0</text>
</g>
<g id="legend">
<rect x="144.4" y="63.1" width="243.3" height="274.0" rx="5.6" ry="5.6" fill="#ffffff" fill-opacity="0.8" stroke="#cccccc" stroke-opacity="0.8" stroke-width="2.4"/>
<g fill="none" stroke-width="4.65">
<path d="M159.5,91.0 H234.5" stroke="#0000ff" stroke-dasharray="17.21 7.44"/>
<path d="M159.5,143.2 H234.5" stroke="#ffa500" stroke-linecap="square"/>
<path d="M159.5,194.8 H234.5" stroke="#008000" stroke-dasharray="29.76 7.44 4.65 7.44"/>
<path d="M159.5,246.9 H234.5" stroke="#1f77b4" stroke-linecap="square"/>
<path d="M159.5,298.9 H234.5" stroke="#ff0000" stroke-opacity="0.8" stroke-dasharray="17.21 7.44"/>
</g>
<text transform="translate(263.19,103.78) scale(0.8851,0.8778)" font-size="37.5" font-style="italic">ω</text>
<text transform="translate(289.11,110.00) scale(1.0057,0.9429)" font-size="26.2" font-style="italic">A</text>
<text transform="translate(263.19,156.08) scale(0.8851,0.8778)" font-size="37.5" font-style="italic">ω</text>
<text transform="translate(287.60,161.80) scale(1.1200,0.9507)" font-size="26.2" font-style="italic">F</text>
<text transform="translate(263.19,207.58) scale(0.8851,0.8778)" font-size="37.5" font-style="italic">ω</text>
<text transform="translate(287.30,213.26) scale(1.2000,0.9521)" font-size="26.2" font-style="italic">S</text>
<text transform="translate(263.19,259.88) scale(0.8851,0.8778)" font-size="37.5" font-style="italic">ω</text>
<text transform="translate(287.33,265.39) scale(1.0606,0.8314)" font-size="26.2" font-style="italic">sw</text>
<text transform="translate(263.18,311.47) scale(0.8936,0.9000)" font-size="37.5" font-style="italic">ω</text>
<text transform="translate(297.58,314.22) scale(1.3829,0.9838)" font-size="37.5">=</text>
<text transform="translate(335.90,311.47) scale(0.8809,0.9000)" font-size="37.5" font-style="italic">ω</text>
<text transform="translate(359.70,316.86) scale(1.0041,0.8767)" font-size="26.2" font-style="italic">g</text>
</g>
<g id="cbar">
<rect x="531.8" y="824.8" width="1218.60" height="41.10" fill="url(#hot)"/>
<rect x="531.8" y="824.8" width="1218.60" height="41.10" fill="none" stroke="#000" stroke-width="2.45"/>
<path d="M531.80,865.9 v11.6 M1141.10,865.9 v11.6 M1750.40,865.9 v11.6" stroke="#000" stroke-width="2.45" fill="none"/>
<path d="M715.22,865.9 v6.6 M822.51,865.9 v6.6 M898.64,865.9 v6.6 M957.68,865.9 v6.6 M1005.93,865.9 v6.6 M1046.72,865.9 v6.6 M1082.05,865.9 v6.6 M1113.22,865.9 v6.6 M1324.52,865.9 v6.6 M1431.81,865.9 v6.6 M1507.94,865.9 v6.6 M1566.98,865.9 v6.6 M1615.23,865.9 v6.6 M1656.02,865.9 v6.6 M1691.35,865.9 v6.6 M1722.52,865.9 v6.6" stroke="#000" stroke-width="1.9" fill="none"/>
<text transform="translate(494.12,912.75) scale(0.9771,1.0039)" font-size="37.5">10</text>
<text transform="translate(530.25,905.02) scale(1.3224,1.4400)" font-size="26.2">−</text>
<text transform="translate(549.79,899.46) scale(1.0512,0.9577)" font-size="26.2">3</text>
<text transform="translate(1102.52,912.75) scale(0.9771,1.0039)" font-size="37.5">10</text>
<text transform="translate(1138.65,905.02) scale(1.3224,1.4400)" font-size="26.2">−</text>
<text transform="translate(1158.13,899.70) scale(1.0952,0.9714)" font-size="26.2">2</text>
<text transform="translate(1710.92,912.75) scale(0.9771,1.0039)" font-size="37.5">10</text>
<text transform="translate(1747.05,905.02) scale(1.3224,1.4400)" font-size="26.2">−</text>
<text transform="translate(1766.84,899.70) scale(1.0054,0.9714)" font-size="26.2">1</text>
<text transform="translate(934.47,960.10) scale(1.1473,1.0694)" font-size="37.5" font-style="italic">E</text>
<text transform="translate(959.80,965.60) scale(1.1957,0.9250)" font-size="26.2" font-style="italic">xx</text>
<text transform="translate(991.76,959.91) scale(0.9368,1.0618)" font-size="37.5">(</text>
<text transform="translate(1005.17,960.10) scale(1.0338,1.0269)" font-size="37.5" font-style="italic">k</text>
<text transform="translate(1023.69,965.60) scale(1.1404,0.9250)" font-size="26.2" font-style="italic">x</text>
<text transform="translate(1049.41,962.89) scale(1.3657,1.0054)" font-size="37.5">=</text>
<text transform="translate(1088.06,960.35) scale(1.0286,1.0039)" font-size="37.5">0</text>
<text transform="translate(1108.85,961.55) scale(0.7636,0.9368)" font-size="37.5">,</text>
<text transform="translate(1123.67,960.10) scale(1.0338,1.0269)" font-size="37.5" font-style="italic">k</text>
<text transform="translate(1143.21,965.38) scale(0.9818,0.9070)" font-size="26.2" font-style="italic">y</text>
<text transform="translate(1167.11,962.89) scale(1.3657,1.0054)" font-size="37.5">=</text>
<text transform="translate(1206.40,960.34) scale(0.9527,1.0240)" font-size="37.5">15</text>
<text transform="translate(1243.85,961.55) scale(0.7636,0.9368)" font-size="37.5">,</text>
<text transform="translate(1260.27,960.10) scale(1.0338,1.0269)" font-size="37.5" font-style="italic">k</text>
<text transform="translate(1279.28,965.60) scale(1.1200,0.9061)" font-size="26.2" font-style="italic">z</text>
<text transform="translate(1295.15,961.55) scale(0.7636,0.9368)" font-size="37.5">,</text>
<text transform="translate(1307.92,960.07) scale(0.9447,0.9111)" font-size="37.5" font-style="italic">ω</text>
<text transform="translate(1334.09,959.91) scale(0.8842,1.0618)" font-size="37.5">)</text>
</g>
</svg>
</body></html>
